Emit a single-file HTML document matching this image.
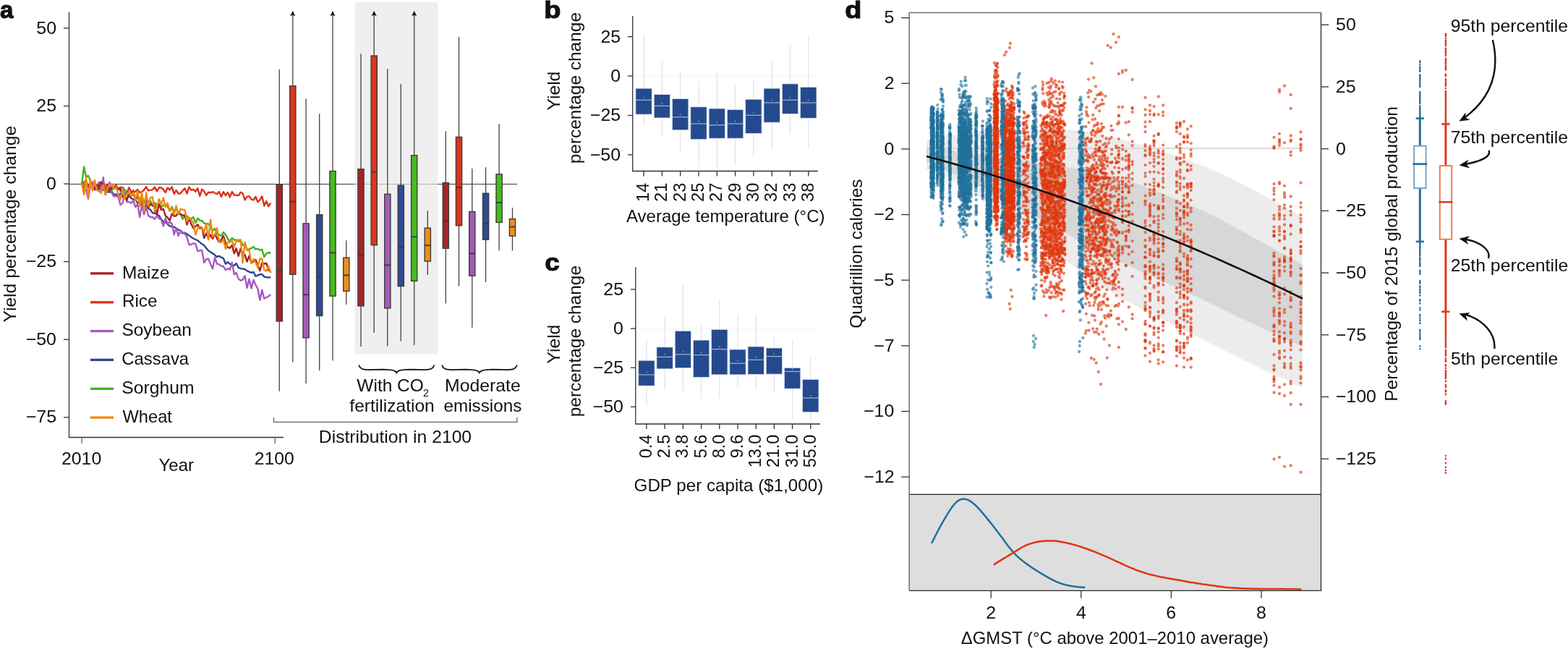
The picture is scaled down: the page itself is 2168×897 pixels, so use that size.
<!DOCTYPE html>
<html><head><meta charset="utf-8"><title>Figure</title>
<style>
html,body{margin:0;padding:0;background:#fff;}
svg{display:block;}
text{font-family:"Liberation Sans",Arial,Helvetica,sans-serif;fill:#111;}
</style></head><body>
<svg width="2168" height="897" viewBox="0 0 2168 897">
<rect width="2168" height="897" fill="#fff"/>
<g id="pa">
<text x="0.01" y="25.00" font-size="34" font-weight="bold" stroke="#111" stroke-width="1.1" textLength="18.40" lengthAdjust="spacingAndGlyphs">a</text>
<line x1="95" y1="254.5" x2="715" y2="254.5" stroke="#3c3c3c" stroke-width="1"/>
<rect x="490.5" y="3" width="115" height="486.5" fill="#e8e8e8" fill-opacity="0.68"/>
<path d="M95.5 17V604.5H392" fill="none" stroke="#333" stroke-width="1.3"/>
<line x1="88" y1="38.9" x2="95.5" y2="38.9" stroke="#333" stroke-width="1.3"/>
<text x="50.27" y="46.60" font-size="24" textLength="27.76" lengthAdjust="spacingAndGlyphs">50</text>
<line x1="88" y1="146.5" x2="95.5" y2="146.5" stroke="#333" stroke-width="1.3"/>
<text x="50.39" y="154.18" font-size="24" textLength="27.76" lengthAdjust="spacingAndGlyphs">25</text>
<line x1="88" y1="254.1" x2="95.5" y2="254.1" stroke="#333" stroke-width="1.3"/>
<text x="64.12" y="261.75" font-size="24" textLength="13.88" lengthAdjust="spacingAndGlyphs">0</text>
<line x1="88" y1="361.6" x2="95.5" y2="361.6" stroke="#333" stroke-width="1.3"/>
<text x="35.79" y="369.32" font-size="24" textLength="42.34" lengthAdjust="spacingAndGlyphs">−25</text>
<line x1="88" y1="469.2" x2="95.5" y2="469.2" stroke="#333" stroke-width="1.3"/>
<text x="35.67" y="476.90" font-size="24" textLength="42.34" lengthAdjust="spacingAndGlyphs">−50</text>
<line x1="88" y1="576.8" x2="95.5" y2="576.8" stroke="#333" stroke-width="1.3"/>
<text x="35.79" y="584.48" font-size="24" textLength="42.34" lengthAdjust="spacingAndGlyphs">−75</text>
<line x1="113.1" y1="604.5" x2="113.1" y2="613" stroke="#666" stroke-width="1.3"/>
<line x1="380.2" y1="604.5" x2="380.2" y2="613" stroke="#666" stroke-width="1.3"/>
<text x="84.96" y="641.70" font-size="24" textLength="55.31" lengthAdjust="spacingAndGlyphs">2010</text>
<text x="351.76" y="641.70" font-size="24" textLength="55.10" lengthAdjust="spacingAndGlyphs">2100</text>
<text x="219.60" y="650.50" font-size="24" textLength="48.37" lengthAdjust="spacingAndGlyphs">Year</text>
<text transform="translate(21.50 445.00) rotate(-90)" x="-0.62" y="0" font-size="24" textLength="271.78" lengthAdjust="spacingAndGlyphs">Yield percentage change</text>
<polyline points="113.1,254.1 116.1,251.8 119,249.4 122,258.3 125,255.2 127.9,259.3 130.9,253 133.9,258.9 136.8,254 139.8,264.9 142.8,252 145.7,259.7 148.7,254.6 151.7,261 154.6,258.7 157.6,258.6 160.6,256 163.5,261.5 166.5,258.8 169.5,259.1 172.4,262.6 175.4,266.9 178.4,259.2 181.3,265.2 184.3,266.1 187.3,264.9 190.2,261.8 193.2,266.1 196.2,265.1 199.1,262.5 202.1,258.2 205.1,263.3 208,262.9 211,262.1 214,258.6 216.9,264.4 219.9,259.2 222.9,259.5 225.8,261.8 228.8,266 231.8,259.4 234.7,262.4 237.7,258.3 240.7,268.2 243.6,263.1 246.6,267.5 249.6,267.3 252.5,263.6 255.5,260.2 258.5,267.6 261.4,258.7 264.4,262.7 267.4,261.7 270.4,265 273.3,260.2 276.3,271 279.3,261.7 282.2,264.5 285.2,269.8 288.2,265.8 291.1,266.3 294.1,265.1 297.1,267 300,268.2 303,264.9 306,272 308.9,265.2 311.9,270.2 314.9,266.1 317.8,272.4 320.8,265 323.8,269.6 326.7,269.8 329.7,270.1 332.7,265.7 335.6,267.3 338.6,276.4 341.6,271.9 344.5,271.2 347.5,275.3 350.5,276.5 353.4,271.8 356.4,279.2 359.4,276.4 362.3,271.4 365.3,284.6 368.3,277.9 371.2,285.3 374.2,280.3" fill="none" stroke="#dd2f1c" stroke-width="2.4" stroke-linejoin="round"/>
<polyline points="113.1,254.1 116.1,230.4 119,244.6 122,242.9 125,249.7 127.9,260.6 130.9,258 133.9,262.7 136.8,256.5 139.8,256.5 142.8,257.5 145.7,259.7 148.7,264.7 151.7,261.9 154.6,263.3 157.6,257.5 160.6,259.4 163.5,261.2 166.5,263.8 169.5,264.6 172.4,262.1 175.4,268.2 178.4,267.4 181.3,270.1 184.3,269.5 187.3,273 190.2,270.7 193.2,275.7 196.2,270 199.1,280.6 202.1,272.3 205.1,279.2 208,277.9 211,284 214,280.2 216.9,283.1 219.9,281.9 222.9,286.6 225.8,283.6 228.8,282.7 231.8,285.6 234.7,291.4 237.7,285.8 240.7,293 243.6,289.2 246.6,293.2 249.6,295.7 252.5,302.9 255.5,297.4 258.5,298.5 261.4,301.3 264.4,302.1 267.4,300.1 270.4,308 273.3,301.7 276.3,304.7 279.3,305 282.2,308.7 285.2,308.9 288.2,309.5 291.1,314.4 294.1,319 297.1,315.9 300,323.8 303,324.2 306,325.9 308.9,321.1 311.9,324.4 314.9,329.9 317.8,333.5 320.8,328.9 323.8,331.7 326.7,331.4 329.7,333.9 332.7,331.9 335.6,338.8 338.6,337.5 341.6,345.5 344.5,344.2 347.5,343.2 350.5,341 353.4,344.6 356.4,343.8 359.4,345.8 362.3,344.8 365.3,355.2 368.3,350.4 371.2,349 374.2,350" fill="none" stroke="#3cb521" stroke-width="2.4" stroke-linejoin="round"/>
<polyline points="113.1,254.1 116.1,260.2 119,253.9 122,257.4 125,255.2 127.9,258.4 130.9,256 133.9,260.9 136.8,261.5 139.8,262.3 142.8,261.9 145.7,265.3 148.7,265 151.7,265.6 154.6,264.9 157.6,269.1 160.6,268.4 163.5,272.7 166.5,267.4 169.5,272.2 172.4,269.8 175.4,273.6 178.4,271 181.3,273.7 184.3,275.8 187.3,276.4 190.2,280.3 193.2,279.6 196.2,284 199.1,284.4 202.1,283.9 205.1,288.3 208,289.9 211,294.2 214,294.8 216.9,296.3 219.9,298 222.9,303.1 225.8,306.3 228.8,306.7 231.8,310.3 234.7,312.4 237.7,313.3 240.7,313.8 243.6,315.3 246.6,317.6 249.6,318.6 252.5,322.5 255.5,321.7 258.5,323.4 261.4,325.8 264.4,327.5 267.4,329.7 270.4,331 273.3,332.3 276.3,334.8 279.3,337.3 282.2,339 285.2,342.9 288.2,346.6 291.1,348.4 294.1,350.1 297.1,352.5 300,355.2 303,353.8 306,355.9 308.9,356.8 311.9,364.9 314.9,362.2 317.8,364.9 320.8,365.8 323.8,367.3 326.7,364 329.7,370.1 332.7,371.1 335.6,371.5 338.6,372.2 341.6,374.4 344.5,375.6 347.5,376.9 350.5,376 353.4,381.6 356.4,380.6 359.4,379.1 362.3,379.1 365.3,382.5 368.3,383.2 371.2,383.5 374.2,383.1" fill="none" stroke="#2a4791" stroke-width="2.4" stroke-linejoin="round"/>
<polyline points="113.1,254.1 116.1,261 119,261.9 122,274.8 125,256.4 127.9,251.7 130.9,256.3 133.9,258.4 136.8,251.7 139.8,266.7 142.8,245.3 145.7,269 148.7,260.9 151.7,252.1 154.6,266.8 157.6,271.6 160.6,270.9 163.5,271.4 166.5,283.2 169.5,280.7 172.4,265.7 175.4,279.1 178.4,278.9 181.3,280.7 184.3,277.6 187.3,286.1 190.2,282 193.2,300 196.2,283.3 199.1,296.3 202.1,286.2 205.1,298 208,300.2 211,299.9 214,302.9 216.9,298 219.9,302 222.9,303.4 225.8,312.5 228.8,301.7 231.8,309.6 234.7,306.7 237.7,309 240.7,324.4 243.6,315 246.6,326.1 249.6,319 252.5,321 255.5,322.9 258.5,327.9 261.4,338 264.4,338 267.4,336.4 270.4,337.2 273.3,346.9 276.3,346.3 279.3,345.9 282.2,363.1 285.2,358.2 288.2,357.8 291.1,364.9 294.1,371.4 297.1,355.6 300,364.8 303,365.4 306,367.9 308.9,368 311.9,373.3 314.9,370.9 317.8,372.7 320.8,362.8 323.8,379.3 326.7,376.8 329.7,385.1 332.7,387.8 335.6,386.6 338.6,381.2 341.6,398 344.5,385.7 347.5,398.6 350.5,386.6 353.4,393.5 356.4,399 359.4,414.7 362.3,400.7 365.3,412.8 368.3,411 371.2,409.7 374.2,406.8" fill="none" stroke="#a659c2" stroke-width="2.4" stroke-linejoin="round"/>
<polyline points="113.1,254.1 116.1,260.9 119,251.7 122,259.2 125,252.1 127.9,255 130.9,262.4 133.9,255.6 136.8,259.1 139.8,251.5 142.8,255.7 145.7,264.8 148.7,258.8 151.7,263.2 154.6,259.2 157.6,258.2 160.6,260.7 163.5,260.1 166.5,261 169.5,269.5 172.4,271.9 175.4,276.9 178.4,267 181.3,268.6 184.3,263.2 187.3,276.9 190.2,270.9 193.2,280.5 196.2,276.6 199.1,288.8 202.1,274.7 205.1,287 208,281.6 211,284.8 214,283.8 216.9,296.5 219.9,281.9 222.9,290.1 225.8,288.7 228.8,298.3 231.8,300.7 234.7,304.7 237.7,295.5 240.7,298.7 243.6,298.2 246.6,293 249.6,296.2 252.5,297.6 255.5,297.4 258.5,310.6 261.4,301.4 264.4,309.8 267.4,315.5 270.4,312.9 273.3,310.3 276.3,315.6 279.3,314.4 282.2,329.1 285.2,322.5 288.2,329.3 291.1,324.6 294.1,329.9 297.1,323.5 300,329.6 303,334.4 306,331.2 308.9,326 311.9,336.4 314.9,341.9 317.8,342.8 320.8,338.9 323.8,350.3 326.7,343.3 329.7,353.9 332.7,343.6 335.6,350.2 338.6,352.1 341.6,361.6 344.5,353.7 347.5,363.4 350.5,361.5 353.4,358.9 356.4,366.4 359.4,374.3 362.3,363.4 365.3,364.5 368.3,363.8 371.2,373.2 374.2,375.8" fill="none" stroke="#a81f24" stroke-width="2.4" stroke-linejoin="round"/>
<polyline points="113.1,254.1 116.1,269.1 119,245.4 122,273.4 125,247.6 127.9,263.4 130.9,249 133.9,262.8 136.8,264.6 139.8,265.8 142.8,255.7 145.7,269 148.7,259.5 151.7,255.2 154.6,254.3 157.6,261.1 160.6,258.7 163.5,268.7 166.5,276.1 169.5,261.4 172.4,274.3 175.4,269.3 178.4,265 181.3,270.8 184.3,265.5 187.3,277.7 190.2,263.5 193.2,285.3 196.2,265.8 199.1,292.1 202.1,266.4 205.1,284.6 208,273.2 211,272.3 214,292.6 216.9,285.8 219.9,275.2 222.9,282.4 225.8,273.5 228.8,286.3 231.8,280.5 234.7,292 237.7,287.1 240.7,296.6 243.6,284.3 246.6,296.9 249.6,288.8 252.5,289.7 255.5,290.2 258.5,306 261.4,301.4 264.4,302.7 267.4,308.6 270.4,324.6 273.3,315 276.3,313 279.3,314.7 282.2,321.3 285.2,308.9 288.2,331.3 291.1,303.7 294.1,326.8 297.1,324.3 300,315.1 303,334 306,335.2 308.9,330.6 311.9,344.1 314.9,334.6 317.8,334.7 320.8,332.5 323.8,341.6 326.7,332.5 329.7,331.4 332.7,331.5 335.6,363.5 338.6,334.6 341.6,346.1 344.5,345.2 347.5,364 350.5,358.1 353.4,362.7 356.4,369.7 359.4,357.5 362.3,357.7 365.3,372.9 368.3,374.7 371.2,367.4 374.2,377.1" fill="none" stroke="#f08a12" stroke-width="2.4" stroke-linejoin="round"/>
<line x1="125" y1="377.9" x2="157" y2="377.9" stroke="#a81f24" stroke-width="3.3"/>
<text x="168.94" y="384.60" font-size="24" textLength="65.32" lengthAdjust="spacingAndGlyphs">Maize</text>
<line x1="125" y1="417.8" x2="157" y2="417.8" stroke="#dd2f1c" stroke-width="3.3"/>
<text x="168.96" y="424.45" font-size="24" textLength="48.44" lengthAdjust="spacingAndGlyphs">Rice</text>
<line x1="125" y1="457.6" x2="157" y2="457.6" stroke="#a659c2" stroke-width="3.3"/>
<text x="168.40" y="464.30" font-size="24" textLength="96.56" lengthAdjust="spacingAndGlyphs">Soybean</text>
<line x1="125" y1="497.4" x2="157" y2="497.4" stroke="#2a4791" stroke-width="3.3"/>
<text x="168.31" y="504.15" font-size="24" textLength="92.81" lengthAdjust="spacingAndGlyphs">Cassava</text>
<line x1="125" y1="537.3" x2="157" y2="537.3" stroke="#3cb521" stroke-width="3.3"/>
<text x="168.39" y="544.00" font-size="24" textLength="100.16" lengthAdjust="spacingAndGlyphs">Sorghum</text>
<line x1="125" y1="577.1" x2="157" y2="577.1" stroke="#f08a12" stroke-width="3.3"/>
<text x="169.38" y="583.85" font-size="24" textLength="68.56" lengthAdjust="spacingAndGlyphs">Wheat</text>
<line x1="386.3" y1="96" x2="386.3" y2="540.7" stroke="#454141" stroke-width="1.3"/>
<rect x="382.2" y="254.7" width="8.2" height="189.3" fill="#a8232a" stroke="#3d3d3d" stroke-width="1.4"/>
<line x1="382.2" y1="374" x2="390.4" y2="374" stroke="#3a3a3a" stroke-width="1.8"/>
<line x1="404.8" y1="18" x2="404.8" y2="500.5" stroke="#454141" stroke-width="1.3"/>
<path d="M401.2 22.5L404.8 15L408.4 22.5L404.8 20.5Z" fill="#111"/>
<rect x="400.7" y="118.8" width="8.2" height="260.5" fill="#d9361f" stroke="#3d3d3d" stroke-width="1.4"/>
<line x1="400.7" y1="278.6" x2="408.9" y2="278.6" stroke="#3a3a3a" stroke-width="1.8"/>
<line x1="423.1" y1="136.3" x2="423.1" y2="530" stroke="#454141" stroke-width="1.3"/>
<rect x="419" y="308.9" width="8.2" height="157.9" fill="#a25bb8" stroke="#3d3d3d" stroke-width="1.4"/>
<line x1="419" y1="407.3" x2="427.2" y2="407.3" stroke="#3a3a3a" stroke-width="1.8"/>
<line x1="441.7" y1="157.3" x2="441.7" y2="512" stroke="#454141" stroke-width="1.3"/>
<rect x="437.6" y="296.8" width="8.2" height="139.7" fill="#2d4b95" stroke="#3d3d3d" stroke-width="1.4"/>
<line x1="437.6" y1="382.7" x2="445.8" y2="382.7" stroke="#3a3a3a" stroke-width="1.8"/>
<line x1="460" y1="18" x2="460" y2="498.6" stroke="#454141" stroke-width="1.3"/>
<path d="M456.4 22.5L460 15L463.6 22.5L460 20.5Z" fill="#111"/>
<rect x="455.9" y="236.5" width="8.2" height="172.7" fill="#46bc20" stroke="#3d3d3d" stroke-width="1.4"/>
<line x1="455.9" y1="349.3" x2="464.1" y2="349.3" stroke="#3a3a3a" stroke-width="1.8"/>
<line x1="478.8" y1="332.3" x2="478.8" y2="421" stroke="#454141" stroke-width="1.3"/>
<rect x="474.7" y="356.2" width="8.2" height="46.2" fill="#ef8e17" stroke="#3d3d3d" stroke-width="1.4"/>
<line x1="474.7" y1="380.4" x2="482.9" y2="380.4" stroke="#3a3a3a" stroke-width="1.8"/>
<line x1="499" y1="74.2" x2="499" y2="479" stroke="#454141" stroke-width="1.3"/>
<rect x="494.9" y="233.7" width="8.2" height="189.2" fill="#a8232a" stroke="#3d3d3d" stroke-width="1.4"/>
<line x1="494.9" y1="352.8" x2="503.1" y2="352.8" stroke="#3a3a3a" stroke-width="1.8"/>
<line x1="517.2" y1="18" x2="517.2" y2="460" stroke="#454141" stroke-width="1.3"/>
<path d="M513.6 22.5L517.2 15L520.8 22.5L517.2 20.5Z" fill="#111"/>
<rect x="513.1" y="77.1" width="8.2" height="261.6" fill="#d9361f" stroke="#3d3d3d" stroke-width="1.4"/>
<line x1="513.1" y1="237.6" x2="521.3" y2="237.6" stroke="#3a3a3a" stroke-width="1.8"/>
<line x1="535.8" y1="95.3" x2="535.8" y2="478.6" stroke="#454141" stroke-width="1.3"/>
<rect x="531.7" y="268.3" width="8.2" height="157.6" fill="#a25bb8" stroke="#3d3d3d" stroke-width="1.4"/>
<line x1="531.7" y1="366.4" x2="539.9" y2="366.4" stroke="#3a3a3a" stroke-width="1.8"/>
<line x1="554.3" y1="116.3" x2="554.3" y2="471.4" stroke="#454141" stroke-width="1.3"/>
<rect x="550.2" y="256.2" width="8.2" height="139.4" fill="#2d4b95" stroke="#3d3d3d" stroke-width="1.4"/>
<line x1="550.2" y1="341.4" x2="558.4" y2="341.4" stroke="#3a3a3a" stroke-width="1.8"/>
<line x1="572.7" y1="18" x2="572.7" y2="477" stroke="#454141" stroke-width="1.3"/>
<path d="M569.1 22.5L572.7 15L576.3 22.5L572.7 20.5Z" fill="#111"/>
<rect x="568.6" y="214.8" width="8.2" height="173.6" fill="#46bc20" stroke="#3d3d3d" stroke-width="1.4"/>
<line x1="568.6" y1="327.4" x2="576.8" y2="327.4" stroke="#3a3a3a" stroke-width="1.8"/>
<line x1="591.3" y1="291.4" x2="591.3" y2="380" stroke="#454141" stroke-width="1.3"/>
<rect x="587.2" y="315.2" width="8.2" height="45.9" fill="#ef8e17" stroke="#3d3d3d" stroke-width="1.4"/>
<line x1="587.2" y1="339.1" x2="595.4" y2="339.1" stroke="#3a3a3a" stroke-width="1.8"/>
<line x1="616.3" y1="181.2" x2="616.3" y2="419.4" stroke="#454141" stroke-width="1.3"/>
<rect x="612.2" y="252.6" width="8.2" height="90.7" fill="#a8232a" stroke="#3d3d3d" stroke-width="1.4"/>
<line x1="612.2" y1="305.8" x2="620.4" y2="305.8" stroke="#3a3a3a" stroke-width="1.8"/>
<line x1="634.5" y1="51" x2="634.5" y2="395.6" stroke="#454141" stroke-width="1.3"/>
<rect x="630.4" y="189.4" width="8.2" height="122.4" fill="#d9361f" stroke="#3d3d3d" stroke-width="1.4"/>
<line x1="630.4" y1="259" x2="638.6" y2="259" stroke="#3a3a3a" stroke-width="1.8"/>
<line x1="652.8" y1="233" x2="652.8" y2="452.8" stroke="#454141" stroke-width="1.3"/>
<rect x="648.7" y="292.5" width="8.2" height="88.7" fill="#a25bb8" stroke="#3d3d3d" stroke-width="1.4"/>
<line x1="648.7" y1="350.5" x2="656.9" y2="350.5" stroke="#3a3a3a" stroke-width="1.8"/>
<line x1="671.6" y1="231.2" x2="671.6" y2="390" stroke="#454141" stroke-width="1.3"/>
<rect x="667.5" y="267.2" width="8.2" height="64" fill="#2d4b95" stroke="#3d3d3d" stroke-width="1.4"/>
<line x1="667.5" y1="309.2" x2="675.7" y2="309.2" stroke="#3a3a3a" stroke-width="1.8"/>
<line x1="690.1" y1="171.2" x2="690.1" y2="346.3" stroke="#454141" stroke-width="1.3"/>
<rect x="686" y="240.8" width="8.2" height="66.6" fill="#46bc20" stroke="#3d3d3d" stroke-width="1.4"/>
<line x1="686" y1="280" x2="694.2" y2="280" stroke="#3a3a3a" stroke-width="1.8"/>
<line x1="708.5" y1="287" x2="708.5" y2="346.3" stroke="#454141" stroke-width="1.3"/>
<rect x="704.4" y="302.6" width="8.2" height="23.6" fill="#ef8e17" stroke="#3d3d3d" stroke-width="1.4"/>
<line x1="704.4" y1="313.5" x2="712.6" y2="313.5" stroke="#3a3a3a" stroke-width="1.8"/>
<path d="M496.2 504.5C499.2 514 508.2 510.3 534.3 510.8C543.3 511 547.3 512.9 548.3 515C549.3 512.9 553.3 511 562.3 510.8C588.4 510.3 597.4 514 600.4 504.5" fill="none" stroke="#111" stroke-width="1.8"/>
<path d="M611 504.5C614 514 623 510.3 648.9 510.8C657.9 511 661.9 512.9 662.9 515C663.9 512.9 667.9 511 676.9 510.8C702.8 510.3 711.8 514 714.8 504.5" fill="none" stroke="#111" stroke-width="1.8"/>
<text x="493.38" y="540.60" font-size="24" textLength="92.39" lengthAdjust="spacingAndGlyphs">With CO</text>
<text x="585.07" y="548.30" font-size="15" textLength="8.07" lengthAdjust="spacingAndGlyphs">2</text>
<text x="483.33" y="569.10" font-size="24" textLength="117.46" lengthAdjust="spacingAndGlyphs">fertilization</text>
<text x="615.02" y="540.60" font-size="24" textLength="104.69" lengthAdjust="spacingAndGlyphs">Moderate</text>
<text x="613.43" y="569.10" font-size="24" textLength="107.94" lengthAdjust="spacingAndGlyphs">emissions</text>
<path d="M378.5 577V583.3H714.8V577" fill="none" stroke="#666" stroke-width="1.3"/>
<text x="440.83" y="611.60" font-size="24" textLength="211.26" lengthAdjust="spacingAndGlyphs">Distribution in 2100</text>
</g>
<g id="pb">
<text x="752.33" y="25.40" font-size="34" font-weight="bold" stroke="#111" stroke-width="1.1" textLength="23.22" lengthAdjust="spacingAndGlyphs">b</text>
<line x1="874.7" y1="105.1" x2="1131" y2="105.1" stroke="#f4f4f4" stroke-width="1"/>
<line x1="890.1" y1="48.5" x2="890.1" y2="172" stroke="#dcdcf2" stroke-width="1.1"/>
<line x1="915.4" y1="84.6" x2="915.4" y2="186.8" stroke="#dcdcf2" stroke-width="1.1"/>
<line x1="940.7" y1="98.6" x2="940.7" y2="209.6" stroke="#dcdcf2" stroke-width="1.1"/>
<line x1="966" y1="112" x2="966" y2="230" stroke="#dcdcf2" stroke-width="1.1"/>
<line x1="991.3" y1="97.5" x2="991.3" y2="232.4" stroke="#dcdcf2" stroke-width="1.1"/>
<line x1="1016.6" y1="117" x2="1016.6" y2="228" stroke="#dcdcf2" stroke-width="1.1"/>
<line x1="1041.9" y1="110" x2="1041.9" y2="217" stroke="#dcdcf2" stroke-width="1.1"/>
<line x1="1067.2" y1="83.9" x2="1067.2" y2="206" stroke="#dcdcf2" stroke-width="1.1"/>
<line x1="1092.5" y1="61.8" x2="1092.5" y2="185.7" stroke="#dcdcf2" stroke-width="1.1"/>
<line x1="1117.8" y1="48.5" x2="1117.8" y2="204" stroke="#dcdcf2" stroke-width="1.1"/>
<rect x="878.9" y="122.1" width="22.4" height="36" fill="#244a8e" stroke="#dfe3ee" stroke-width="0.8"/>
<line x1="878.9" y1="138.3" x2="901.3" y2="138.3" stroke="#a9b3cf" stroke-width="1.2"/>
<rect x="889.5" y="134.2" width="1.2" height="1.2" fill="#c8d0e6"/>
<rect x="904.2" y="130.6" width="22.4" height="32.4" fill="#244a8e" stroke="#dfe3ee" stroke-width="0.8"/>
<line x1="904.2" y1="146.4" x2="926.6" y2="146.4" stroke="#a9b3cf" stroke-width="1.2"/>
<rect x="914.8" y="142.3" width="1.2" height="1.2" fill="#c8d0e6"/>
<rect x="929.5" y="136.4" width="22.4" height="43.4" fill="#244a8e" stroke="#dfe3ee" stroke-width="0.8"/>
<line x1="929.5" y1="161.8" x2="951.9" y2="161.8" stroke="#a9b3cf" stroke-width="1.2"/>
<rect x="940.1" y="157.7" width="1.2" height="1.2" fill="#c8d0e6"/>
<rect x="954.8" y="147.8" width="22.4" height="44.9" fill="#244a8e" stroke="#dfe3ee" stroke-width="0.8"/>
<line x1="954.8" y1="171" x2="977.2" y2="171" stroke="#a9b3cf" stroke-width="1.2"/>
<rect x="965.4" y="166.9" width="1.2" height="1.2" fill="#c8d0e6"/>
<rect x="980.1" y="150" width="22.4" height="41.2" fill="#244a8e" stroke="#dfe3ee" stroke-width="0.8"/>
<line x1="980.1" y1="172.9" x2="1002.5" y2="172.9" stroke="#a9b3cf" stroke-width="1.2"/>
<rect x="990.7" y="168.8" width="1.2" height="1.2" fill="#c8d0e6"/>
<rect x="1005.4" y="151.5" width="22.4" height="39.7" fill="#244a8e" stroke="#dfe3ee" stroke-width="0.8"/>
<line x1="1005.4" y1="171" x2="1027.8" y2="171" stroke="#a9b3cf" stroke-width="1.2"/>
<rect x="1016" y="166.9" width="1.2" height="1.2" fill="#c8d0e6"/>
<rect x="1030.7" y="137.2" width="22.4" height="47.4" fill="#244a8e" stroke="#dfe3ee" stroke-width="0.8"/>
<line x1="1030.7" y1="159.2" x2="1053.1" y2="159.2" stroke="#a9b3cf" stroke-width="1.2"/>
<rect x="1041.3" y="155.1" width="1.2" height="1.2" fill="#c8d0e6"/>
<rect x="1056" y="122.1" width="22.4" height="47.1" fill="#244a8e" stroke="#dfe3ee" stroke-width="0.8"/>
<line x1="1056" y1="142" x2="1078.4" y2="142" stroke="#a9b3cf" stroke-width="1.2"/>
<rect x="1066.6" y="137.9" width="1.2" height="1.2" fill="#c8d0e6"/>
<rect x="1081.3" y="115.9" width="22.4" height="41.5" fill="#244a8e" stroke="#dfe3ee" stroke-width="0.8"/>
<line x1="1081.3" y1="138.3" x2="1103.7" y2="138.3" stroke="#a9b3cf" stroke-width="1.2"/>
<rect x="1091.9" y="134.2" width="1.2" height="1.2" fill="#c8d0e6"/>
<rect x="1106.6" y="120.3" width="22.4" height="43" fill="#244a8e" stroke="#dfe3ee" stroke-width="0.8"/>
<line x1="1106.6" y1="142" x2="1129" y2="142" stroke="#a9b3cf" stroke-width="1.2"/>
<rect x="1117.2" y="137.9" width="1.2" height="1.2" fill="#c8d0e6"/>
<path d="M874.7 22V236.5H1131" fill="none" stroke="#333" stroke-width="1.3"/>
<line x1="867.9000000000001" y1="50.7" x2="874.7" y2="50.7" stroke="#333" stroke-width="1.3"/>
<text x="830.49" y="58.50" font-size="24" textLength="27.76" lengthAdjust="spacingAndGlyphs">25</text>
<line x1="867.9000000000001" y1="105.1" x2="874.7" y2="105.1" stroke="#333" stroke-width="1.3"/>
<text x="844.22" y="112.90" font-size="24" textLength="13.88" lengthAdjust="spacingAndGlyphs">0</text>
<line x1="867.9000000000001" y1="159.5" x2="874.7" y2="159.5" stroke="#333" stroke-width="1.3"/>
<text x="815.89" y="167.30" font-size="24" textLength="42.34" lengthAdjust="spacingAndGlyphs">−25</text>
<line x1="867.9000000000001" y1="213.9" x2="874.7" y2="213.9" stroke="#333" stroke-width="1.3"/>
<text x="815.77" y="221.70" font-size="24" textLength="42.34" lengthAdjust="spacingAndGlyphs">−50</text>
<line x1="890.1" y1="236.5" x2="890.1" y2="243.5" stroke="#333" stroke-width="1.3"/>
<text transform="translate(897.1 252.8) rotate(-90)" x="-26.14" y="0" font-size="23.5" textLength="26.14" lengthAdjust="spacingAndGlyphs">14</text>
<line x1="915.4" y1="236.5" x2="915.4" y2="243.5" stroke="#333" stroke-width="1.3"/>
<text transform="translate(922.4 252.8) rotate(-90)" x="-26.14" y="0" font-size="23.5" textLength="26.14" lengthAdjust="spacingAndGlyphs">21</text>
<line x1="940.7" y1="236.5" x2="940.7" y2="243.5" stroke="#333" stroke-width="1.3"/>
<text transform="translate(947.7 252.8) rotate(-90)" x="-26.14" y="0" font-size="23.5" textLength="26.14" lengthAdjust="spacingAndGlyphs">23</text>
<line x1="966" y1="236.5" x2="966" y2="243.5" stroke="#333" stroke-width="1.3"/>
<text transform="translate(973 252.8) rotate(-90)" x="-26.14" y="0" font-size="23.5" textLength="26.14" lengthAdjust="spacingAndGlyphs">25</text>
<line x1="991.3" y1="236.5" x2="991.3" y2="243.5" stroke="#333" stroke-width="1.3"/>
<text transform="translate(998.3 252.8) rotate(-90)" x="-26.14" y="0" font-size="23.5" textLength="26.14" lengthAdjust="spacingAndGlyphs">27</text>
<line x1="1016.6" y1="236.5" x2="1016.6" y2="243.5" stroke="#333" stroke-width="1.3"/>
<text transform="translate(1023.6 252.8) rotate(-90)" x="-26.14" y="0" font-size="23.5" textLength="26.14" lengthAdjust="spacingAndGlyphs">29</text>
<line x1="1041.9" y1="236.5" x2="1041.9" y2="243.5" stroke="#333" stroke-width="1.3"/>
<text transform="translate(1048.9 252.8) rotate(-90)" x="-26.14" y="0" font-size="23.5" textLength="26.14" lengthAdjust="spacingAndGlyphs">30</text>
<line x1="1067.2" y1="236.5" x2="1067.2" y2="243.5" stroke="#333" stroke-width="1.3"/>
<text transform="translate(1074.2 252.8) rotate(-90)" x="-26.14" y="0" font-size="23.5" textLength="26.14" lengthAdjust="spacingAndGlyphs">32</text>
<line x1="1092.5" y1="236.5" x2="1092.5" y2="243.5" stroke="#333" stroke-width="1.3"/>
<text transform="translate(1099.5 252.8) rotate(-90)" x="-26.14" y="0" font-size="23.5" textLength="26.14" lengthAdjust="spacingAndGlyphs">33</text>
<line x1="1117.8" y1="236.5" x2="1117.8" y2="243.5" stroke="#333" stroke-width="1.3"/>
<text transform="translate(1124.8 252.8) rotate(-90)" x="-26.14" y="0" font-size="23.5" textLength="26.14" lengthAdjust="spacingAndGlyphs">38</text>
<text x="866.00" y="306.80" font-size="24" textLength="274.50" lengthAdjust="spacingAndGlyphs">Average temperature (°C)</text>
<text transform="translate(774.00 152.00) rotate(-90)" x="-0.62" y="0" font-size="24" textLength="53.96" lengthAdjust="spacingAndGlyphs">Yield</text>
<text transform="translate(803.00 224.70) rotate(-90)" x="-1.59" y="0" font-size="24" textLength="209.25" lengthAdjust="spacingAndGlyphs">percentage change</text>
</g>
<g id="pc">
<text x="753.32" y="373.50" font-size="34" font-weight="bold" stroke="#111" stroke-width="1.1" textLength="20.53" lengthAdjust="spacingAndGlyphs">c</text>
<line x1="878.8" y1="454.1" x2="1134" y2="454.1" stroke="#f4f4f4" stroke-width="1"/>
<line x1="893.9" y1="469.7" x2="893.9" y2="560.9" stroke="#dcdcf2" stroke-width="1.1"/>
<line x1="919.1" y1="438.4" x2="919.1" y2="538.8" stroke="#dcdcf2" stroke-width="1.1"/>
<line x1="944.4" y1="394.2" x2="944.4" y2="540.8" stroke="#dcdcf2" stroke-width="1.1"/>
<line x1="969.6" y1="449.2" x2="969.6" y2="550.8" stroke="#dcdcf2" stroke-width="1.1"/>
<line x1="994.8" y1="414.3" x2="994.8" y2="550.8" stroke="#dcdcf2" stroke-width="1.1"/>
<line x1="1020" y1="434.4" x2="1020" y2="536" stroke="#dcdcf2" stroke-width="1.1"/>
<line x1="1045.2" y1="434.4" x2="1045.2" y2="538.8" stroke="#dcdcf2" stroke-width="1.1"/>
<line x1="1070.4" y1="465.7" x2="1070.4" y2="542.8" stroke="#dcdcf2" stroke-width="1.1"/>
<line x1="1095.6" y1="469.3" x2="1095.6" y2="579" stroke="#dcdcf2" stroke-width="1.1"/>
<line x1="1120.8" y1="493.8" x2="1120.8" y2="583" stroke="#dcdcf2" stroke-width="1.1"/>
<rect x="882.7" y="498.2" width="22.4" height="35" fill="#244a8e" stroke="#dfe3ee" stroke-width="0.8"/>
<line x1="882.7" y1="517.9" x2="905.1" y2="517.9" stroke="#a9b3cf" stroke-width="1.2"/>
<rect x="893.3" y="513.8" width="1.2" height="1.2" fill="#c8d0e6"/>
<rect x="907.9" y="479.8" width="22.4" height="30.1" fill="#244a8e" stroke="#dfe3ee" stroke-width="0.8"/>
<line x1="907.9" y1="493.4" x2="930.3" y2="493.4" stroke="#a9b3cf" stroke-width="1.2"/>
<rect x="918.5" y="489.3" width="1.2" height="1.2" fill="#c8d0e6"/>
<rect x="933.2" y="457.3" width="22.4" height="51.4" fill="#244a8e" stroke="#dfe3ee" stroke-width="0.8"/>
<line x1="933.2" y1="489.8" x2="955.6" y2="489.8" stroke="#a9b3cf" stroke-width="1.2"/>
<rect x="943.8" y="485.7" width="1.2" height="1.2" fill="#c8d0e6"/>
<rect x="958.4" y="470.1" width="22.4" height="51.4" fill="#244a8e" stroke="#dfe3ee" stroke-width="0.8"/>
<line x1="958.4" y1="490.6" x2="980.8" y2="490.6" stroke="#a9b3cf" stroke-width="1.2"/>
<rect x="969" y="486.5" width="1.2" height="1.2" fill="#c8d0e6"/>
<rect x="983.6" y="455.3" width="22.4" height="62.6" fill="#244a8e" stroke="#dfe3ee" stroke-width="0.8"/>
<line x1="983.6" y1="482.6" x2="1006" y2="482.6" stroke="#a9b3cf" stroke-width="1.2"/>
<rect x="994.2" y="478.5" width="1.2" height="1.2" fill="#c8d0e6"/>
<rect x="1008.8" y="483" width="22.4" height="34.9" fill="#244a8e" stroke="#dfe3ee" stroke-width="0.8"/>
<line x1="1008.8" y1="502.2" x2="1031.2" y2="502.2" stroke="#a9b3cf" stroke-width="1.2"/>
<rect x="1019.4" y="498.1" width="1.2" height="1.2" fill="#c8d0e6"/>
<rect x="1034" y="479" width="22.4" height="38.5" fill="#244a8e" stroke="#dfe3ee" stroke-width="0.8"/>
<line x1="1034" y1="497.4" x2="1056.4" y2="497.4" stroke="#a9b3cf" stroke-width="1.2"/>
<rect x="1044.6" y="493.3" width="1.2" height="1.2" fill="#c8d0e6"/>
<rect x="1059.2" y="481" width="22.4" height="36.1" fill="#244a8e" stroke="#dfe3ee" stroke-width="0.8"/>
<line x1="1059.2" y1="492.6" x2="1081.6" y2="492.6" stroke="#a9b3cf" stroke-width="1.2"/>
<rect x="1069.8" y="488.5" width="1.2" height="1.2" fill="#c8d0e6"/>
<rect x="1084.4" y="508.3" width="22.4" height="28.9" fill="#244a8e" stroke="#dfe3ee" stroke-width="0.8"/>
<line x1="1084.4" y1="513.5" x2="1106.8" y2="513.5" stroke="#a9b3cf" stroke-width="1.2"/>
<rect x="1095" y="509.4" width="1.2" height="1.2" fill="#c8d0e6"/>
<rect x="1109.6" y="524.3" width="22.4" height="45.4" fill="#244a8e" stroke="#dfe3ee" stroke-width="0.8"/>
<line x1="1109.6" y1="550" x2="1132" y2="550" stroke="#a9b3cf" stroke-width="1.2"/>
<rect x="1120.2" y="545.9" width="1.2" height="1.2" fill="#c8d0e6"/>
<path d="M878.8 369.3V586H1134" fill="none" stroke="#333" stroke-width="1.3"/>
<line x1="872.0" y1="400" x2="878.8" y2="400" stroke="#333" stroke-width="1.3"/>
<text x="834.29" y="407.80" font-size="24" textLength="27.76" lengthAdjust="spacingAndGlyphs">25</text>
<line x1="872.0" y1="454.1" x2="878.8" y2="454.1" stroke="#333" stroke-width="1.3"/>
<text x="848.02" y="461.90" font-size="24" textLength="13.88" lengthAdjust="spacingAndGlyphs">0</text>
<line x1="872.0" y1="508.2" x2="878.8" y2="508.2" stroke="#333" stroke-width="1.3"/>
<text x="819.69" y="516.00" font-size="24" textLength="42.34" lengthAdjust="spacingAndGlyphs">−25</text>
<line x1="872.0" y1="562.3" x2="878.8" y2="562.3" stroke="#333" stroke-width="1.3"/>
<text x="819.57" y="570.10" font-size="24" textLength="42.34" lengthAdjust="spacingAndGlyphs">−50</text>
<line x1="893.9" y1="586" x2="893.9" y2="593" stroke="#333" stroke-width="1.3"/>
<text transform="translate(900.9 600.6) rotate(-90)" x="-32.67" y="0" font-size="23.5" textLength="32.67" lengthAdjust="spacingAndGlyphs">0.4</text>
<line x1="919.1" y1="586" x2="919.1" y2="593" stroke="#333" stroke-width="1.3"/>
<text transform="translate(926.1 600.6) rotate(-90)" x="-32.67" y="0" font-size="23.5" textLength="32.67" lengthAdjust="spacingAndGlyphs">2.5</text>
<line x1="944.4" y1="586" x2="944.4" y2="593" stroke="#333" stroke-width="1.3"/>
<text transform="translate(951.4 600.6) rotate(-90)" x="-32.67" y="0" font-size="23.5" textLength="32.67" lengthAdjust="spacingAndGlyphs">3.8</text>
<line x1="969.6" y1="586" x2="969.6" y2="593" stroke="#333" stroke-width="1.3"/>
<text transform="translate(976.6 600.6) rotate(-90)" x="-32.67" y="0" font-size="23.5" textLength="32.67" lengthAdjust="spacingAndGlyphs">5.6</text>
<line x1="994.8" y1="586" x2="994.8" y2="593" stroke="#333" stroke-width="1.3"/>
<text transform="translate(1001.8 600.6) rotate(-90)" x="-32.67" y="0" font-size="23.5" textLength="32.67" lengthAdjust="spacingAndGlyphs">8.0</text>
<line x1="1020" y1="586" x2="1020" y2="593" stroke="#333" stroke-width="1.3"/>
<text transform="translate(1027 600.6) rotate(-90)" x="-32.67" y="0" font-size="23.5" textLength="32.67" lengthAdjust="spacingAndGlyphs">9.6</text>
<line x1="1045.2" y1="586" x2="1045.2" y2="593" stroke="#333" stroke-width="1.3"/>
<text transform="translate(1052.2 600.6) rotate(-90)" x="-45.74" y="0" font-size="23.5" textLength="45.74" lengthAdjust="spacingAndGlyphs">13.0</text>
<line x1="1070.4" y1="586" x2="1070.4" y2="593" stroke="#333" stroke-width="1.3"/>
<text transform="translate(1077.4 600.6) rotate(-90)" x="-45.74" y="0" font-size="23.5" textLength="45.74" lengthAdjust="spacingAndGlyphs">21.0</text>
<line x1="1095.6" y1="586" x2="1095.6" y2="593" stroke="#333" stroke-width="1.3"/>
<text transform="translate(1102.6 600.6) rotate(-90)" x="-45.74" y="0" font-size="23.5" textLength="45.74" lengthAdjust="spacingAndGlyphs">31.0</text>
<line x1="1120.8" y1="586" x2="1120.8" y2="593" stroke="#333" stroke-width="1.3"/>
<text transform="translate(1127.8 600.6) rotate(-90)" x="-45.74" y="0" font-size="23.5" textLength="45.74" lengthAdjust="spacingAndGlyphs">55.0</text>
<text x="876.59" y="678.60" font-size="24" textLength="261.69" lengthAdjust="spacingAndGlyphs">GDP per capita ($1,000)</text>
<text transform="translate(774.00 502.00) rotate(-90)" x="-0.62" y="0" font-size="24" textLength="53.96" lengthAdjust="spacingAndGlyphs">Yield</text>
<text transform="translate(803.00 574.70) rotate(-90)" x="-1.59" y="0" font-size="24" textLength="209.25" lengthAdjust="spacingAndGlyphs">percentage change</text>
</g>
<g id="pd">
<text x="1168.39" y="25.40" font-size="34" font-weight="bold" stroke="#111" stroke-width="1.1" textLength="23.10" lengthAdjust="spacingAndGlyphs">d</text>
<polygon points="1281,194 1289.8,192.1 1298.6,190.3 1307.4,188.6 1316.3,187.1 1325.1,186 1333.9,185 1342.7,184.1 1351.5,183.2 1360.3,182.3 1369.1,181.5 1377.9,180.8 1386.8,180.3 1395.6,179.9 1404.4,179.6 1413.2,179.5 1422,179.5 1430.8,179.5 1439.6,179.6 1448.5,179.6 1457.3,179.7 1466.1,179.8 1474.9,179.9 1483.7,180.1 1492.5,180.8 1501.3,182 1510.2,183.6 1519,185.4 1527.8,187.3 1536.6,189.3 1545.4,191.2 1554.2,193.3 1563,195.7 1571.8,198.3 1580.7,200.9 1589.5,203.7 1598.3,206.5 1607.1,209.2 1615.9,212.1 1624.7,215 1633.5,218.1 1642.4,221.2 1651.2,224.5 1660,228 1668.8,231.6 1677.6,235.5 1686.4,239.4 1695.2,243.6 1704.1,247.8 1712.9,252.2 1721.7,256.7 1730.5,261.3 1739.3,265.9 1748.1,270.6 1756.9,275.3 1765.7,280.2 1774.6,285.2 1783.4,290.3 1792.2,295.6 1801,301 1801,535 1792.2,531.2 1783.4,527.4 1774.6,523.6 1765.7,519.6 1756.9,515.6 1748.1,511.5 1739.3,507.3 1730.5,503 1721.7,498.7 1712.9,494.4 1704.1,490 1695.2,485.6 1686.4,481.2 1677.6,476.8 1668.8,472.4 1660,468 1651.2,463.6 1642.4,459.3 1633.5,454.9 1624.7,450.5 1615.9,446.1 1607.1,441.6 1598.3,437.1 1589.5,432.6 1580.7,428.1 1571.8,423.6 1563,419 1554.2,414.2 1545.4,409.2 1536.6,403.9 1527.8,398.3 1519,392.3 1510.2,386.2 1501.3,379.9 1492.5,373.7 1483.7,367.5 1474.9,361.6 1466.1,355.7 1457.3,350 1448.5,344.2 1439.6,338.4 1430.8,332.5 1422,326.4 1413.2,320.1 1404.4,313.4 1395.6,306.2 1386.8,298.6 1377.9,291 1369.1,283.5 1360.3,276.2 1351.5,269.6 1342.7,263.6 1333.9,258.5 1325.1,253.6 1316.3,248.9 1307.4,244.6 1298.6,240.7 1289.8,237.1 1281,234" fill="#ececec"/>
<polygon points="1281,203 1289.8,204.3 1298.6,205.6 1307.4,206.8 1316.3,208.1 1325.1,209.4 1333.9,210.7 1342.7,211.9 1351.5,213.2 1360.3,214.5 1369.1,215.7 1377.9,217 1386.8,218.2 1395.6,219.5 1404.4,220.8 1413.2,222 1422,223.3 1430.8,224.6 1439.6,225.8 1448.5,227 1457.3,228.3 1466.1,229.6 1474.9,230.9 1483.7,232.3 1492.5,233.7 1501.3,235.2 1510.2,236.8 1519,238.4 1527.8,240.2 1536.6,242.2 1545.4,244.5 1554.2,247.2 1563,250.3 1571.8,253.7 1580.7,257.2 1589.5,260.8 1598.3,264.3 1607.1,267.8 1615.9,271.3 1624.7,274.8 1633.5,278.4 1642.4,282.2 1651.2,286 1660,290 1668.8,294.2 1677.6,298.5 1686.4,302.9 1695.2,307.5 1704.1,312.2 1712.9,317 1721.7,321.8 1730.5,326.7 1739.3,331.6 1748.1,336.5 1756.9,341.3 1765.7,346.2 1774.6,351.1 1783.4,356 1792.2,361 1801,366 1801,479 1792.2,475.1 1783.4,471.1 1774.6,467.2 1765.7,463.1 1756.9,459.1 1748.1,455 1739.3,450.8 1730.5,446.7 1721.7,442.5 1712.9,438.2 1704.1,434 1695.2,429.8 1686.4,425.6 1677.6,421.3 1668.8,417.2 1660,413 1651.2,408.8 1642.4,404.7 1633.5,400.6 1624.7,396.4 1615.9,392.3 1607.1,388.3 1598.3,384.2 1589.5,380.3 1580.7,376.4 1571.8,372.5 1563,368.7 1554.2,364.7 1545.4,360.6 1536.6,356.3 1527.8,351.8 1519,347.2 1510.2,342.4 1501.3,337.6 1492.5,332.8 1483.7,328 1474.9,323.3 1466.1,318.6 1457.3,313.8 1448.5,309.1 1439.6,304.4 1430.8,299.6 1422,294.9 1413.2,290.1 1404.4,285.3 1395.6,280.4 1386.8,275.4 1377.9,270.5 1369.1,265.6 1360.3,260.9 1351.5,256.3 1342.7,251.9 1333.9,247.6 1325.1,243.4 1316.3,239.3 1307.4,235.3 1298.6,231.4 1289.8,227.7 1281,224" fill="#d7d7d7"/>
<line x1="1281" y1="205" x2="1798.5" y2="205" stroke="#d9d9d9" stroke-width="2"/>
<path d="M1595.6 195.5h0M1396.4 181.2h0M1377.8 207.9h0M1377 135.4h0M1529.5 191.5h0M1375.9 165.6h0M1398.5 224.1h0M1449 191.2h0M1626.9 243h0M1374.4 179.7h0M1450.7 339.8h0M1454.8 171.2h0M1464.5 347.7h0M1378.1 145.8h0M1377 219.9h0M1608.2 411.5h0M1452.2 253.1h0M1389.7 172h0M1378.4 168.8h0M1464 147.5h0M1626.9 174.9h0M1396.6 236.5h0M1761.5 393.8h0M1402 148.7h0M1529.4 359.8h0M1590 297.7h0M1631.7 457.9h0M1454.8 252.1h0M1397.1 218.5h0M1504.4 160.2h0M1514.5 136.8h0M1511.8 281.1h0M1392.6 295.9h0M1375.4 146.6h0M1397.4 206.9h0M1374.8 261.8h0M1511.6 395.3h0M1375.9 121.1h0M1463.1 204.5h0M1469.2 146.1h0M1375.7 252.4h0M1601.7 394.2h0M1530.1 223.1h0M1798.5 350.3h0M1442 193.7h0M1452.4 205.8h0M1530.1 240.3h0M1451.9 257.6h0M1400 221.9h0M1375.3 120.4h0M1502.1 210h0M1445.7 146.1h0M1377.3 121h0M1469.9 299.7h0M1377.9 176.2h0M1378.8 280.4h0M1396.6 292.5h0M1595.6 439.8h0M1377.2 219.6h0M1471.4 345.2h0M1402.3 195h0M1377.6 166.7h0M1463 251.5h0M1455.9 297.6h0M1399.7 252.5h0M1514.5 183.1h0M1445.1 351.1h0M1375.8 267.4h0M1466.6 206.9h0M1397.1 201.6h0M1461.6 228.6h0M1453.7 111.9h0M1521.9 127.9h0M1536 269.4h0M1532 255.3h0M1402.1 183h0M1641.9 364.6h0M1466.7 254.2h0M1374.4 260.1h0M1375.9 213.5h0M1394 301h0M1546.9 237.8h0M1556.8 319.7h0M1463.2 273.9h0M1399.3 227.5h0M1399.3 263.2h0M1452 264.2h0M1391.4 225.3h0M1401.3 231.5h0M1379.5 214.5h0M1446.9 232.4h0M1439.5 235.2h0M1395.1 301.5h0M1510.5 231.5h0M1392.6 216.2h0M1455.4 328.9h0M1422 192.9h0M1769 407.6h0M1528.8 332h0M1595.6 283.7h0M1401.4 262.8h0M1415.6 227.3h0M1402.2 238.9h0M1540.8 250.1h0M1523.7 316.4h0M1552 245.6h0M1399 183.1h0M1511.6 217h0M1526.1 345.9h0M1546.9 340h0M1458.5 285.5h0M1396.2 240.2h0M1456.3 221.4h0M1513.8 255.3h0M1452.7 129.4h0M1375.4 178h0M1392.4 243.2h0M1399.5 273.2h0M1637 474.7h0M1776 269.6h0M1784.7 375.6h0M1391.8 255.7h0M1397.8 202.8h0M1389.4 185.5h0M1546.9 342.3h0M1631.7 253.9h0M1391.8 317.7h0M1530.2 319.7h0M1401.8 184.2h0M1397.6 303.2h0M1761.5 431.9h0M1449.9 189.7h0M1439.9 321.9h0M1467.1 195.7h0M1376.7 227.2h0M1376.2 265.4h0M1515 347.9h0M1441.7 302.3h0M1374.6 229.7h0M1471.2 309.1h0M1515 322.3h0M1508.4 269h0M1378.8 254.9h0M1467.6 202.3h0M1546 215.5h0M1448.5 286.9h0M1378.7 246.1h0M1541.9 382.3h0M1377.2 233.7h0M1769 251.9h0M1469.9 283.9h0M1467.9 406.5h0M1513.6 210.6h0M1466.9 194.1h0M1440 320.2h0M1379.2 136.9h0M1626.9 295h0M1465.8 309h0M1417.7 349.9h0M1455.5 177.6h0M1400.5 188.8h0M1641.9 254.5h0M1379.5 226.6h0M1500.7 389.2h0M1446.5 353.2h0M1444.1 328.1h0M1509.6 87.5h0M1458.9 381.1h0M1444.5 316.9h0M1453.3 320.4h0M1769 447.6h0M1560.8 282.6h0M1419.9 175.4h0M1415 170.2h0M1377.9 275.7h0M1441 306.1h0M1590 291.8h0M1515.5 364.1h0M1608.2 445.4h0M1392.9 261.2h0M1533.3 347.9h0M1375.5 267.8h0M1401.9 283.7h0M1441.2 338.5h0M1443.8 219h0M1769 361.8h0M1513.9 320.2h0M1457.3 226.2h0M1379.3 198.7h0M1608.2 259.1h0M1376.7 273h0M1444.8 383.4h0M1608.2 365.7h0M1391.8 214.3h0M1508.4 193.5h0M1379.3 266h0M1397.4 205.6h0M1460.9 278.5h0M1439.5 287.1h0M1466.2 360.8h0M1523.7 272.9h0M1529.3 240.2h0M1397.7 241.4h0M1761.5 380.3h0M1761.5 430.2h0M1444.1 324.6h0M1520.7 418.2h0M1631.7 301.6h0M1400.2 198.7h0M1545.7 343h0M1500.6 374h0M1471.8 310.1h0M1422.2 321.4h0M1565.6 223.5h0M1392.2 256.3h0M1378.8 163h0M1463.5 214.5h0M1455.7 362h0M1375.5 208h0M1397.1 334.9h0M1392.4 167.5h0M1461.8 351.8h0M1463.9 382.3h0M1454.7 239.2h0M1377.1 162h0M1459.3 187.6h0M1769 464.8h0M1631.7 383.4h0M1379.7 118.9h0M1378.8 237.6h0M1784.7 483.4h0M1470.5 216.1h0M1512.8 228.7h0M1464.9 241.7h0M1501.4 379.1h0M1556.8 221.5h0M1514.6 254.3h0M1528.1 384h0M1389.3 148.4h0M1539 311h0M1461.5 330.6h0M1590 266.9h0M1451.3 280.7h0M1456 353.9h0M1377.9 205.1h0M1515.5 324.7h0M1462.2 237.7h0M1377 212.5h0M1397.6 286.9h0M1389.9 175h0M1418.6 333h0M1393.7 247.1h0M1531.3 329.1h0M1441.5 124.1h0M1532.8 304.9h0M1442.1 334.5h0M1521.8 274.9h0M1514.7 403.4h0M1448.2 370.5h0M1521.9 353.4h0M1375.6 228h0M1776 310.7h0M1378.7 167.2h0M1784.7 446.6h0M1631.7 204.8h0M1776 360.1h0M1450.6 252.1h0M1546.9 223.8h0M1395.2 219.9h0M1376 144.1h0M1443 235.7h0M1377.7 284.2h0M1394.7 203h0M1520.1 130.5h0M1457.3 397.5h0M1460.7 208.1h0M1377.1 229.4h0M1395.6 351h0M1393.9 224.9h0M1631.7 335.9h0M1377 311.5h0M1523.1 427.8h0M1465.5 342.3h0M1443.7 259.1h0M1552 148h0M1417.4 331.5h0M1390.1 212.5h0M1626.9 333.9h0M1769 434.9h0M1391.6 321.9h0M1463.8 268.4h0M1637 429h0M1456.5 179.8h0M1377.7 267.3h0M1458 285.2h0M1595.6 477.4h0M1451.2 365.8h0M1502.2 301.5h0M1626.9 182h0M1392.4 173.6h0M1468.9 186.1h0M1514.7 172.7h0M1376.3 276.3h0M1375.6 260.2h0M1511.8 262h0M1515.2 347.4h0M1631.7 487.5h0M1546.9 160.2h0M1379.5 225.4h0M1397 347.2h0M1525.3 210.8h0M1375 215.7h0M1398.8 247.1h0M1397.2 278.7h0M1637 461.5h0M1464.3 355.8h0M1400.6 286.5h0M1440.9 308.4h0M1396 203.7h0M1526 247.2h0M1379.6 129.2h0M1646.7 430.6h0M1401.9 170.6h0M1463.4 230h0M1463 371.9h0M1377.4 293.1h0M1601.7 377.4h0M1641.9 308.6h0M1608.2 477.5h0M1528.4 335.2h0M1761.5 268.4h0M1376 188.4h0M1439.3 219.8h0M1374.4 116.7h0M1464.7 151.5h0M1440.8 278.8h0M1442.3 326.7h0M1590 290.9h0M1398.9 180.5h0M1374.5 145h0M1453.9 350.6h0M1524.5 314.8h0M1402.2 238.8h0M1445.5 188.9h0M1631.7 482.9h0M1500.8 383.2h0M1378.4 206.9h0M1590 311.8h0M1454.9 218.1h0M1631.7 332.8h0M1509.8 407.2h0M1378.5 223.2h0M1590 406.3h0M1455.5 246.1h0M1565.6 440.5h0M1394.5 169.8h0M1466.8 317.3h0M1396.4 186h0M1631.7 332.1h0M1441.1 171.3h0M1375.4 238.5h0M1376.2 250h0M1452.9 330.6h0M1441.7 113.4h0M1390 229h0M1441.3 319.6h0M1472.4 268.2h0M1438.9 206.7h0M1463 260.2h0M1513.2 436.7h0M1798.5 472.4h0M1377 90.4h0M1377.8 239h0M1769 493.4h0M1401 192.7h0M1389.4 277.3h0M1390.4 190.2h0M1378.4 196.5h0M1502 221.6h0M1395.9 293h0M1375.5 193.3h0M1401.7 333.7h0M1444.9 214.5h0M1392.9 204.5h0M1377.8 295.5h0M1376.8 198.3h0M1508.3 274.8h0M1523.2 282h0M1761.5 387.6h0M1798.5 252.7h0M1452.5 412h0M1441.9 235.2h0M1375.4 120.9h0M1462 232.3h0M1450.4 314.3h0M1468.6 255.8h0M1504.8 241.1h0M1391.7 231.2h0M1395.2 227.6h0M1520.2 307.8h0M1451.9 337.8h0M1583.5 470.5h0M1391.3 158.7h0M1448 212.4h0M1462.5 225.7h0M1601.7 324.4h0M1456.3 220.5h0M1631.7 208.1h0M1516.8 410.2h0M1464.1 312.7h0M1399.7 173.8h0M1462.5 262.1h0M1509.8 312.9h0M1637 408h0M1375 131.1h0M1507 381.8h0M1377.4 262.5h0M1556.8 455h0M1507.3 215.8h0M1457.6 300.6h0M1397.1 245.7h0M1601.7 225.8h0M1442.3 166.3h0M1390.8 265.2h0M1524.8 283.3h0M1527.9 375.2h0M1471 216h0M1510.6 323.8h0M1522.2 363.8h0M1646.7 253.4h0M1378.1 272.1h0M1454.7 130.5h0M1378.7 157.6h0M1402.3 253.9h0M1601.7 414.8h0M1518.8 307.6h0M1608.2 432.6h0M1391.3 234.6h0M1399.5 267.2h0M1536 436.1h0M1420.9 323h0M1459.2 309.2h0M1394.1 274.5h0M1456.7 204.7h0M1453.3 320.3h0M1798.5 437.9h0M1388.8 294h0M1401.5 212.6h0M1608.2 418.7h0M1537.3 313.4h0M1525.3 256.5h0M1769 294.9h0M1375.6 265.3h0M1608.2 486.2h0M1378.5 248.2h0M1520 315.9h0M1516.7 356h0M1466.1 272.1h0M1438.8 239h0M1468.7 348.2h0M1631.7 171.1h0M1457.8 203.9h0M1560.8 424.5h0M1389.5 198.4h0M1394 315.3h0M1376.1 124.1h0M1546.9 218.4h0M1459.9 165.3h0M1500.9 460.7h0M1391.9 277.3h0M1631.7 307h0M1377.2 143.9h0M1390.6 339.9h0M1469.8 121.1h0M1503.1 159.9h0M1376.4 253h0M1443.4 409.7h0M1512.4 273.6h0M1465.7 196.3h0M1376.1 158.9h0M1374.5 153.3h0M1528 233.4h0M1468.6 272.3h0M1420.8 206.8h0M1390.4 155h0M1525.4 272.1h0M1447.7 271.2h0M1401.1 281.9h0M1391.9 161.5h0M1401 159.6h0M1535.2 246.5h0M1637 436.3h0M1798.5 207.9h0M1769 404.5h0M1470.6 190.1h0M1392.3 310.9h0M1438.9 188.3h0M1516.5 243.4h0M1400.2 307.7h0M1608.2 251.7h0M1506.1 216.9h0M1534.6 270.7h0M1440.3 186.2h0M1784.7 470.5h0M1560.8 292.4h0M1390.1 201.3h0M1469.7 349.5h0M1565.6 239.6h0M1399.4 310.2h0M1509.9 248.8h0M1784.7 461.1h0M1398.4 178.6h0M1392.8 158.3h0M1415.5 163.1h0M1378.7 209h0M1608.2 384h0M1394.9 193.8h0M1379 180.4h0M1626.9 383.1h0M1399.3 134.1h0M1631.7 461h0M1466.8 336.7h0M1375.8 210.4h0M1391.5 252.2h0M1449 285.1h0M1784.7 472.7h0M1393.4 254.8h0M1552 349.7h0M1392.8 265.8h0M1460.2 303h0M1526.9 272.4h0M1784.7 543h0M1398.9 195.9h0M1459.7 245.3h0M1538.3 251.3h0M1595.6 353.9h0M1375.7 177.8h0M1450.1 316.5h0M1520.1 297.2h0M1500.5 192.7h0M1442.9 189.2h0M1421.5 189.1h0M1396.6 328.8h0M1523.6 264.8h0M1509.6 243.4h0M1601.7 304.3h0M1392.2 156.7h0M1470.6 301.9h0M1535.1 287.3h0M1391.2 205.4h0M1546.9 320.7h0M1447.6 382.7h0M1641.9 412.8h0M1631.7 305.1h0M1637 285.8h0M1595.6 325.8h0M1446.1 254.3h0M1376.7 209.3h0M1461.6 307.4h0M1454.5 211.1h0M1377.9 142.2h0M1508 300.7h0M1761.5 362.4h0M1509.7 344.3h0M1398.2 256.6h0M1527.9 255.8h0M1398.6 283.3h0M1443 266.2h0M1450.8 285.6h0M1460.1 305.9h0M1560.8 215.1h0M1469.9 366.3h0M1637 480.9h0M1420.9 214.6h0M1449.8 376.9h0M1392.2 196.4h0M1465.8 176h0M1761.5 326.2h0M1560.8 296.7h0M1470.2 182.1h0M1546.9 261h0M1524.4 396.6h0M1390.9 275.8h0M1515.2 296.2h0M1595.6 462.6h0M1377.8 220.5h0M1394.2 154h0M1395.7 216.8h0M1377.2 171.1h0M1394.2 229.9h0M1507.8 387.2h0M1377.9 275.7h0M1379.7 291.4h0M1583.5 277.7h0M1374.6 275.1h0M1528.9 208.8h0M1460.5 323h0M1583.5 481.2h0M1452 327.5h0M1529.3 391h0M1641.9 430h0M1454.4 308.2h0M1402.2 286.7h0M1626.9 294h0M1398.4 242.4h0M1459.2 295.3h0M1378.6 232.3h0M1502.1 405.6h0M1374.5 226.1h0M1500.5 301.7h0M1398.9 196.6h0M1470.8 360.1h0M1377.4 309.5h0M1447.5 377.6h0M1377.8 284.8h0M1467.9 341.4h0M1456.1 301.2h0M1519 207.6h0M1511.2 228h0M1626.9 427.6h0M1400.6 210.6h0M1379 179.1h0M1523.7 229.3h0M1398.7 132.9h0M1422.1 278.4h0M1397.1 150.6h0M1401.8 258.1h0M1601.7 255h0M1391.3 289h0M1641.9 269.7h0M1377.6 234.9h0M1378.3 270.8h0M1507.5 195.9h0M1390.9 165.4h0M1503 317.7h0M1460.5 243.2h0M1784.7 448.4h0M1450.4 202.8h0M1392.8 207.2h0M1378.3 155.5h0M1377.7 259.2h0M1464.4 346h0M1641.9 411.5h0M1539.3 379.6h0M1441.8 217.5h0M1374.8 196.4h0M1471.3 171.9h0M1398.4 268.6h0M1453.2 296.7h0M1449 302.8h0M1440.6 264.3h0M1776 644.8h0M1467 278.2h0M1515.9 288.8h0M1608.2 411.5h0M1637 394.8h0M1389.6 151.7h0M1452.3 155.3h0M1769 195.1h0M1519.9 365.2h0M1646.7 428.3h0M1375.3 288.7h0M1512.1 294.7h0M1590 361.6h0M1510.6 250.5h0M1397.2 261.1h0M1395.4 219h0M1531.2 218.7h0M1515.7 237.2h0M1377.8 253.2h0M1395.3 181h0M1401.2 238.8h0M1454.6 201.2h0M1379.2 279.2h0M1462.9 231.5h0M1583.5 282.8h0M1465.4 323.3h0M1402.2 315.4h0M1451.4 410.9h0M1441.5 227.8h0M1416.5 237.3h0M1530.6 259h0M1601.7 211.8h0M1509.4 308.1h0M1402.2 250.4h0M1545.1 346.2h0M1378.7 275.8h0M1393.1 297.7h0M1389 168.7h0M1439.7 268.9h0M1463.3 361.1h0M1378.7 310.2h0M1514.3 307.7h0M1421.6 306.7h0M1451.3 220.8h0M1396.6 185.8h0M1626.9 446h0M1641.9 259.7h0M1394 276.3h0M1375.5 151.2h0M1530.1 347.7h0M1546.9 390h0M1451.4 317h0M1462.7 339.2h0M1521.4 339.4h0M1394.1 168.3h0M1392 216.2h0M1465.6 157.5h0M1546.9 291.4h0M1533.5 358.7h0M1560.8 317.6h0M1441.8 293.1h0M1457.5 341.7h0M1400.5 245.1h0M1509.2 285.1h0M1377.6 139h0M1401.4 173.1h0M1392.2 264.4h0M1379.7 272.6h0M1400.7 206.3h0M1401.7 315.2h0M1402 219.2h0M1542.7 384h0M1509.2 261.9h0M1448.3 247.6h0M1454.1 194.4h0M1450.9 318.8h0M1646.7 368.7h0M1468.9 202.9h0M1471.7 270h0M1401.4 323.8h0M1392.9 198.3h0M1400.6 168.5h0M1467.5 222.2h0M1401.9 265.4h0M1392.2 221.4h0M1453.7 213.2h0M1470.5 219.5h0M1464.5 366.7h0M1457.1 222.9h0M1537.2 316.8h0M1391.4 214.3h0M1374.6 217.5h0M1460.2 182h0M1400.2 300.2h0M1379.1 260.2h0M1393.6 128.7h0M1442.8 290.9h0M1590 352.3h0M1776 283.4h0M1441.7 169.2h0M1458.2 400.7h0M1379.4 272h0M1509.5 232.4h0M1458.6 338.7h0M1378 157.4h0M1375.9 246.2h0M1454.1 325.5h0M1379.1 213.3h0M1396.1 296.7h0M1472 350.6h0M1392 252.4h0M1377.8 167.3h0M1583.5 214.2h0M1458.5 282.7h0M1414.5 240.9h0M1455.3 294.7h0M1538.4 392.7h0M1402.6 151.5h0M1376.4 177h0M1399.1 234.6h0M1470 168.4h0M1399.1 202.6h0M1539.7 331.7h0M1390.5 241.4h0M1452.8 312.8h0M1521.5 236.8h0M1526.2 176.1h0M1445.2 162.8h0M1378.6 158.8h0M1523.3 379.9h0M1389.7 195.3h0M1391.9 199.8h0M1451.2 356.1h0M1463.9 284h0M1441.4 235.2h0M1518 343.2h0M1394.9 315.7h0M1455.2 179.4h0M1398.7 328.6h0M1469.8 254.5h0M1510.1 383.3h0M1565.6 154.9h0M1390.7 293.1h0M1595.6 443h0M1375.7 147.1h0M1784.7 405.4h0M1457.2 289h0M1389.8 239.8h0M1583.5 228.2h0M1438.8 265.4h0M1451.8 268.9h0M1396.1 201.1h0M1524.6 318.5h0M1646.7 198.1h0M1513.4 418h0M1583.5 375.3h0M1390.5 236.3h0M1517.9 379.3h0M1631.7 364.5h0M1518.7 288.4h0M1379.5 196.6h0M1590 386.5h0M1456.3 228.9h0M1398.1 286.5h0M1626.9 404.1h0M1631.7 406.8h0M1452.6 290.9h0M1518.5 279.6h0M1377.5 311.6h0M1506.3 260h0M1512.9 220.8h0M1516.4 248.8h0M1631.7 281.2h0M1453 334.6h0M1401.3 212.1h0M1459.5 405.4h0M1401.7 203.2h0M1399.1 294.4h0M1509.1 278.8h0M1394.4 218.9h0M1394.9 266.5h0M1440.2 387.3h0M1394.6 307.6h0M1455.7 342.7h0M1601.7 254.5h0M1452.6 253.9h0M1468.3 358.8h0M1520.8 277.7h0M1590 269.9h0M1388.8 287.9h0M1392.9 167.7h0M1377.1 210.6h0M1450.8 264h0M1377 240.7h0M1626.9 357.1h0M1379 177.6h0M1798.5 201.1h0M1395.3 266.5h0M1389.9 268.8h0M1399.7 285.8h0M1519.7 313.6h0M1776 343.7h0M1504.7 310.6h0M1391.9 170.7h0M1416.5 156.5h0M1378.4 299.6h0M1445.3 220.9h0M1390.6 327h0M1556.8 330.7h0M1401.1 244.2h0M1546.9 440h0M1446.1 269.3h0M1526.3 349.3h0M1394.5 306.1h0M1467.4 286h0M1395.6 420h0M1523.9 282.8h0M1376.8 162.3h0M1377.2 174.9h0M1798.5 475.4h0M1469.7 167.7h0M1416.8 308.9h0M1443.7 265.6h0M1471.4 334.6h0M1379.6 103.9h0M1397.8 285h0M1595.6 211.7h0M1397.4 192.9h0M1447.7 193h0M1511.7 278.1h0M1393.5 196.4h0M1500.6 288.3h0M1377.3 145.1h0M1376.3 120.8h0M1464.3 112.8h0M1472.5 352.4h0M1458.5 280.1h0M1784.7 345.4h0M1776 468.6h0M1458.1 256.3h0M1641.9 365.3h0M1446.6 400.4h0M1399.2 151.9h0M1465.4 264.9h0M1546.9 352.4h0M1590 212h0M1378.1 114.3h0M1445.3 183.3h0M1456.2 346.1h0M1552 275.5h0M1398.1 289.1h0M1631.7 310.9h0M1761.5 462.6h0M1469.5 207.3h0M1448 258.7h0M1396.2 258.1h0M1392.3 248.9h0M1454.1 142.9h0M1784.7 285.5h0M1401.5 301.4h0M1595.6 147.1h0M1503.3 406.5h0M1450.5 114h0M1461.3 195.3h0M1502.2 368.7h0M1398 201.2h0M1454.3 351.2h0M1445.7 185.7h0M1546 357.6h0M1419.1 304.2h0M1465.6 224.2h0M1442.5 339.2h0M1395.1 272.3h0M1396.7 294.4h0M1583.5 427.1h0M1397.5 307.8h0M1393.2 325.5h0M1467.1 300.7h0M1445.1 202h0M1517.4 269.6h0M1451.3 307.1h0M1390.8 266.5h0M1398.1 282.5h0M1798.5 317h0" stroke="#e0340a" stroke-opacity="0.64" stroke-width="4.3" stroke-linecap="round" fill="none"/>
<path d="M1287.5 195.5h0M1290.8 234h0M1369.3 286h0M1312.8 209.9h0M1349.1 180.8h0M1340.7 214.1h0M1300.6 284.6h0M1366.7 226.9h0M1365.1 282.9h0M1430.4 160.8h0M1327.6 245.8h0M1340.8 151.7h0M1428.5 149.6h0M1289.2 193.8h0M1493 364.9h0M1301.4 204.3h0M1290.1 210.5h0M1432.2 340.3h0M1336 273.3h0M1333.6 280.4h0M1410.2 295.3h0M1366.4 269.1h0M1349.9 181.7h0M1296.2 193h0M1325.9 187.7h0M1341.4 190.2h0M1492.4 404.4h0M1496 216.6h0M1496.9 277.9h0M1364.2 204.5h0M1337.5 273.3h0M1369.3 207h0M1290.6 148.9h0M1290 193.7h0M1366.4 273.5h0M1337.7 223.3h0M1302.8 242h0M1330.3 201.8h0M1369.9 198.7h0M1296.6 230.5h0M1288.9 176.3h0M1300.9 193.4h0M1340.1 227.2h0M1497.6 353.5h0M1303.1 254.1h0M1367.4 214.9h0M1388.4 217.7h0M1328.6 240.8h0M1493.6 308.2h0M1367.9 174.5h0M1327.6 163.3h0M1334.3 205.9h0M1301.2 193.2h0M1365.7 252.8h0M1313 229.8h0M1428.8 218.6h0M1385.8 282.4h0M1326 122.9h0M1296.1 213.7h0M1327.8 219.5h0M1365 326.3h0M1288.6 177.9h0M1326.7 177.1h0M1431.9 314.3h0M1364.6 190.4h0M1303.4 210.4h0M1385.5 236.6h0M1300.6 161.2h0M1340.6 140.6h0M1300.7 224.4h0M1366.1 280.7h0M1338.6 144.5h0M1312.8 216h0M1329.2 174.3h0M1339.7 148.4h0M1288.7 165.5h0M1385.2 309.6h0M1287.6 213.3h0M1327.1 224.4h0M1431.5 189.1h0M1407.5 342.2h0M1289.6 164.9h0M1313.3 235.9h0M1332.6 133.8h0M1365.1 305.5h0M1387.8 350.6h0M1493.8 330.8h0M1349.3 196.9h0M1388.4 297.2h0M1350.4 191.1h0M1359 167.5h0M1386.5 125.9h0M1342.6 210.3h0M1328.5 242.8h0M1430.5 147.8h0M1289.4 270.4h0M1326.2 264.1h0M1386.3 318.1h0M1301.8 194.6h0M1366.5 202.7h0M1367.2 306.8h0M1336.6 276.9h0M1349.7 251h0M1302.7 211.3h0M1327.8 310.2h0M1366.7 312h0M1303.4 257.8h0M1429.8 209.2h0M1287.2 254.4h0M1330.6 190.4h0M1428.2 187.7h0M1327.5 205.6h0M1326.2 240.1h0M1370.1 297.3h0M1330.7 250.1h0M1431.2 349.2h0M1350.1 238.1h0M1290.9 230.8h0M1290.6 221.1h0M1341.5 211h0M1331.5 229.7h0M1332.2 252.8h0M1493.7 240.9h0M1430.1 331.1h0M1331.8 132.1h0M1326.9 208.3h0M1368.9 262.9h0M1336.9 200.3h0M1301.4 258.8h0M1340.8 230.3h0M1366.5 253.7h0M1302.9 224.2h0M1287.8 204.9h0M1303.5 222.3h0M1290.6 213.1h0M1332.2 184h0M1350.1 220.2h0M1350.3 205.3h0M1302.6 175.3h0M1332.3 178.2h0M1338.4 181.9h0M1368.2 204.5h0M1349.9 168.2h0M1302.1 207.9h0M1493.8 249.1h0M1341.7 236.5h0M1364.6 221.1h0M1430.6 258h0M1288.1 222h0M1289.5 203.1h0M1327.8 209.7h0M1333.7 223.6h0M1290.1 177.5h0M1340.6 234.8h0M1313.9 225.1h0M1334.7 268.5h0M1296.3 203h0M1296.6 190.9h0M1331.5 260.8h0M1368.5 264.1h0M1409.3 299.3h0M1432.6 393.7h0M1333.8 276.3h0M1494 166.3h0M1289.8 182h0M1385.6 183.3h0M1388.5 303.5h0M1369.9 200.7h0M1432 352.9h0M1296.2 218.2h0M1368.3 238.1h0M1369.1 231.8h0M1366.2 293.4h0M1388 139.2h0M1303 249h0M1336.8 160.6h0M1366.9 249.2h0M1288.3 147.4h0M1340 221.2h0M1429.8 252.1h0M1287.4 258.5h0M1365 216.9h0M1366 283.3h0M1333.6 249.5h0M1349.3 204.3h0M1336.6 199.4h0M1364.6 376.6h0M1296.8 215.2h0M1333.5 164.4h0M1387.3 138.4h0M1432.1 186.4h0M1366.6 235.1h0M1326 220.5h0M1313.7 250.2h0M1301 231.7h0M1330.5 196.2h0M1334 293.7h0M1331.6 130.6h0M1296.3 209.7h0M1349.6 308.6h0M1431.6 316.1h0M1288.5 215.8h0M1313.3 221h0M1494.7 319.8h0M1385.7 180.2h0M1303.3 195h0M1302.6 222.6h0M1370 236.1h0M1386.1 339.7h0M1340.6 211.4h0M1365.7 337.4h0M1329.8 236.1h0M1364.4 243.6h0M1408.6 359.3h0M1340.9 171.2h0M1289.9 177.2h0M1369.5 269.5h0M1302.1 227.5h0M1495 295.4h0M1364.2 237h0M1331 281.9h0M1332.6 186.9h0M1370.2 248.5h0M1495.8 227.3h0M1331.1 216.8h0M1302.7 160.7h0M1301.5 196.6h0M1349.9 221.3h0M1342 261.8h0M1364.5 315.4h0M1312.8 184.9h0M1364.4 243.2h0M1494.4 378h0M1430.9 282.1h0M1326.9 216.2h0M1349.8 203.9h0M1358.8 217.5h0M1364.1 217.3h0M1407.2 334.9h0M1287.4 238.9h0M1365.7 332.7h0M1327.8 234.2h0M1289.4 201.2h0M1495.5 199.2h0M1495.8 178h0M1287.8 165.5h0M1287.5 176.4h0M1358.1 191.9h0M1388.4 273.6h0M1349.3 158.7h0M1365.8 260.4h0M1493.9 260.7h0M1368.5 211.6h0M1301.6 218.2h0M1494.9 318.7h0M1387.2 300.1h0M1295.8 235.1h0M1408.2 306.5h0M1327.3 214.4h0M1332.9 230.7h0M1385.2 218.9h0M1301.2 229.7h0M1368.1 380h0M1337.6 160.2h0M1369.3 239.2h0M1303.8 192.1h0M1431.4 302.6h0M1327.4 202.1h0M1288.8 217.5h0M1302.8 232h0M1368.7 252h0M1338.9 230.7h0M1341.1 266.1h0M1289.1 177.1h0M1288.2 225.7h0M1349.2 170h0M1335.3 226.1h0M1368.1 269.9h0M1302.8 181h0M1313.6 235.8h0M1331 183.5h0M1337.2 173.7h0M1313.2 212.6h0M1366.9 245.3h0M1303.2 264.2h0M1430.1 145.5h0M1303.8 190.5h0M1496.9 188.2h0M1368.8 207.9h0M1334.7 183.6h0M1370.4 148.4h0M1290.4 230h0M1492.7 233.6h0M1369.6 214h0M1364.5 214.7h0M1328.1 159.1h0M1496.6 378.1h0M1328.3 275.2h0M1289.4 179.1h0M1387 153.3h0M1364.3 226.5h0M1289.9 203.4h0M1328.5 244.6h0M1301.9 241.3h0M1287.4 246.5h0M1287.6 171.2h0M1303.6 199.5h0M1336.7 304.1h0M1340.7 218.8h0M1300.8 225.4h0M1289.5 237.3h0M1366.2 219h0M1300.9 193h0M1366.3 367.6h0M1296.3 188.6h0M1431 143.7h0M1384.6 119.3h0M1290.8 186.5h0M1388.3 340.8h0M1359 238.9h0M1335.3 195.9h0M1296.3 183.2h0M1359.2 258.9h0M1287.7 194.1h0M1386.1 228.2h0M1295.8 156.1h0M1365.1 361.7h0M1431.7 282.5h0M1429.2 383h0M1429.1 323h0M1385.4 158.1h0M1366.9 263.1h0M1350.4 294.5h0M1370 186.6h0M1328 153.9h0M1494.9 350.6h0M1358.6 191.8h0M1408.5 168.4h0M1358.4 178.3h0M1329.4 290.9h0M1358.3 196.6h0M1303.5 260.2h0M1336.3 267.2h0M1385.7 181.4h0M1431.6 180h0M1289.3 158.7h0M1338.2 210.2h0M1492.9 204.6h0M1384.3 319.9h0M1304.1 241.3h0M1303.7 255.3h0M1313.8 199.9h0M1337.4 133.6h0M1385.1 203.6h0M1339.9 192.6h0M1429.8 312.4h0M1431.8 277.3h0M1430.1 167.9h0M1313.6 235.6h0M1288.3 212.1h0M1333 274.3h0M1337.9 255.3h0M1295.7 184.2h0M1328.1 241.6h0M1385.4 234.9h0M1288.5 187.6h0M1366.4 219.2h0M1335.5 217.2h0M1295.8 247.1h0M1369.4 213.9h0M1493.9 188.6h0M1366.6 277h0M1339.4 200.4h0M1384.7 200.5h0M1409.5 252h0M1289.4 271.2h0M1302.2 222.2h0M1290.3 245h0M1370.2 180.4h0M1350.1 168.9h0M1290.7 230.9h0M1384.2 130h0M1291 165.2h0M1384.8 183.1h0M1333 253.7h0M1341 258.5h0M1326.3 238.3h0M1287.6 166.4h0M1301.7 193.1h0M1366.4 243.8h0M1332.2 196.5h0M1335.6 262h0M1331.1 156.7h0M1429.2 156.2h0M1302.1 203.5h0M1337.9 288.1h0M1368.4 199.6h0M1337.1 183.2h0M1340.3 167.5h0M1301.5 243.4h0M1431.2 175.6h0M1290 241.3h0M1407.9 242.2h0M1495.5 248.9h0M1408.1 170.1h0M1303.3 306.7h0M1495.4 361h0M1358.3 231h0M1302.8 227.2h0M1335 169.1h0M1287.6 197.7h0M1313.4 217.5h0M1350.1 199.2h0M1327.1 267.5h0M1493.6 341.2h0M1365.4 283.4h0M1341.2 285.7h0M1329.3 223h0M1369.4 296.3h0M1364.9 268.5h0M1495.2 297.7h0M1432.7 270.3h0M1429.4 191.5h0M1288.2 202.8h0M1364.5 269.9h0M1296.6 182.7h0M1408.2 254.2h0M1328.1 207.4h0M1408.8 278.4h0M1313.4 210.3h0M1406.9 259.6h0M1313.1 216.7h0M1337.6 198.2h0M1496.3 362.3h0M1295.7 191h0M1289.5 159.7h0M1313.1 185.4h0M1326.1 182.9h0M1326.4 183.2h0M1367.3 228.4h0M1367.9 270.2h0M1431.2 188.9h0M1303.6 220.9h0M1289.4 170.6h0M1302.4 176.3h0M1407.8 243.8h0M1432 345.4h0M1301.7 190h0M1358.8 218.1h0M1337.6 244.2h0M1287.5 161.7h0M1289.6 226.6h0M1409.1 124.3h0M1329 167.2h0M1339.9 169.5h0M1408.4 297.4h0M1366.5 254.2h0M1492.1 348.5h0M1313.8 284.8h0M1327.2 164.9h0M1358.4 233.2h0M1287.4 237.4h0M1288.8 197h0M1387.8 210.1h0M1300.9 193.9h0M1338.7 279.5h0M1431.6 326.6h0M1333.8 202.2h0M1364.8 291.1h0M1330.6 197.8h0M1333.1 268.8h0M1338.5 265h0M1368.5 295.4h0M1365.4 259.8h0M1367.8 187.4h0M1303.7 170.5h0M1336.2 238.9h0M1290.8 247.4h0M1331.4 245.5h0M1349.9 205h0M1367.9 272.3h0M1369.6 198.3h0M1333.9 271.1h0M1326.4 226.7h0M1331.6 173.4h0M1301.7 309.9h0M1326.9 169.9h0M1328.6 166.2h0M1336.7 274.6h0M1387 282.8h0M1327 200.4h0M1334.6 257h0M1329.6 148h0M1329.5 170.4h0M1326.8 134.6h0M1410.3 250.6h0M1387.9 209.6h0M1496 144.7h0M1368.8 296.5h0M1365 232.6h0M1288.2 192.3h0M1327.8 208.2h0M1333.6 225.7h0M1302.3 260.1h0M1288 234.8h0M1326.6 195.9h0M1313.2 181.5h0M1327.9 230.7h0M1367.2 224.8h0M1366.5 219.5h0M1388 162.3h0M1496.8 305.9h0M1330.7 223.8h0M1368.9 282.2h0M1290.2 232.8h0M1303.6 294.2h0M1288.6 247.7h0M1289.1 223.1h0M1332.8 243h0M1493.9 242.3h0M1370.3 248.7h0M1407.3 209.5h0M1301.3 263.4h0M1370.2 234.2h0M1341.3 187.5h0M1332.2 224.8h0M1494.2 280.4h0M1364.5 226.7h0M1289.8 235.1h0M1295.8 174.3h0M1301 247.2h0M1365.6 296.4h0M1326.4 297.6h0M1289.7 170.7h0M1407.8 288.7h0M1290.1 214h0M1335.2 194.3h0M1289.6 155.8h0M1492.3 333h0M1287.2 166h0M1341.3 166.9h0M1409.1 266.6h0M1288.7 222.8h0M1406.8 281.7h0M1370.3 324.8h0M1331.3 185.1h0M1359.1 202.3h0M1384.4 182h0M1358.5 265.8h0M1387.6 337.6h0M1358.2 248.3h0M1387.1 272.8h0M1370.2 263.2h0M1350.2 201.4h0M1349.8 199.7h0M1431.5 274.1h0M1288.7 237.9h0M1497.1 402h0M1495.8 269.3h0M1331.7 128.3h0M1349.6 187.4h0M1290.6 169h0M1288.5 203.2h0M1336.9 192.4h0M1289.5 222.3h0M1349.2 207h0M1409.5 225.6h0M1406.6 193.4h0M1287.4 231.1h0M1313.9 210.3h0M1365.5 269.5h0M1313 206h0M1325.7 236.3h0M1336.1 281.5h0M1339.3 224.7h0M1313.1 177.8h0M1368 205.5h0M1328.9 227.9h0M1313.1 203.8h0M1303.6 252.7h0M1430 267.8h0M1369.8 284.8h0M1288.5 215.9h0M1327.3 210.1h0M1296.5 178.2h0M1493 227.6h0M1367.3 263.5h0M1296.2 186.5h0M1496.7 388.7h0M1350 226.9h0M1386 309.4h0M1328.2 313.8h0M1300.5 231.2h0M1365 281.4h0M1366.1 272.1h0M1303.2 249.3h0M1328.5 185.7h0M1366.4 232.3h0M1334.5 213.5h0M1328 164h0M1407.3 122.4h0M1312.9 209.4h0M1341.6 198.6h0M1366.6 201.4h0M1331 236.3h0M1497.3 396.9h0M1332 271.7h0M1369.8 277.9h0M1313.9 210.3h0M1349.5 253.5h0M1369.8 285.6h0M1494.8 336.6h0M1331.6 152.4h0M1290.6 227.1h0M1339.7 139.6h0M1290.5 197.7h0M1303.7 191.8h0M1370 292.4h0M1313.9 232.4h0M1301 187.1h0M1337.2 276.1h0M1384.8 231.3h0M1335.2 231.3h0M1329.8 233.2h0M1287.9 204.7h0M1331.3 197.4h0M1300.7 263.4h0M1428.6 230.8h0M1326.9 168.8h0M1428.3 257.8h0M1302.1 203.4h0M1495.3 245.1h0M1368.3 199.4h0M1367.5 191.3h0M1333.1 188.2h0M1332.9 218.3h0M1368.6 180.5h0M1386.1 162.2h0M1287.4 220.7h0M1288.9 192.9h0M1364.4 304.9h0M1430.8 239.1h0M1369.3 242.5h0M1325.6 271.2h0M1385.4 164.6h0M1350.1 249.2h0M1429.8 341.5h0M1365.7 316.4h0M1296.3 198.1h0M1335.2 278.1h0M1296.6 227h0M1304 244.9h0M1350.2 247.8h0M1408.3 173.2h0M1431.3 211.7h0M1385.6 248.6h0M1432 213.9h0M1358.8 215.1h0M1387 140h0M1384.3 315.5h0M1337.5 208.7h0M1410 352h0M1364.4 252.3h0M1332 154.2h0M1350.4 227.9h0M1494.5 217.3h0M1496.6 346.3h0M1493.3 197.7h0M1341.5 234.6h0M1429.3 204.1h0M1367.4 255.7h0M1337.6 212.5h0M1432.4 136.1h0M1430.3 206.3h0M1303.3 188.2h0M1349.6 229h0M1326.6 208.3h0M1407.7 324.7h0M1329.3 141.7h0M1384.3 203.2h0M1368.5 278.6h0M1358.1 220.2h0M1288.5 234h0M1296.1 221.9h0M1287.6 232h0M1287.8 239.5h0M1365.6 225.1h0M1368.7 225.3h0M1497.1 340.2h0M1289.6 157.3h0M1289.7 214.4h0M1327.2 287.2h0M1330 219.5h0M1329.6 176h0M1387.4 143h0M1291 265.1h0M1358.7 220.8h0M1290.6 159.5h0M1332.4 219.9h0M1327.1 156h0M1350.3 213h0M1366.5 301.8h0M1388.4 319.6h0M1410.2 320.8h0M1289.4 261.3h0M1494.8 317.1h0M1364.4 225.2h0M1407.6 309.7h0M1429.5 188.3h0M1287.7 222.5h0M1427.8 300.3h0M1331.8 208h0M1341.7 221.9h0M1366.2 291h0M1300.7 263.1h0M1287.5 271.7h0M1497.7 287.2h0M1303.2 241.1h0M1430.3 313.1h0M1407 198.2h0M1287.9 243.3h0M1495.4 298.4h0M1407.7 232.1h0M1331.5 227.2h0M1341.5 184.6h0M1313.9 188.6h0M1364.7 278.1h0M1296.4 249.3h0M1288.2 225.7h0M1303.2 188.1h0M1326.6 267.7h0M1313.8 199.3h0M1368.4 152.9h0M1370 231h0M1408.5 253.3h0M1327.5 240.7h0M1302.3 302.3h0M1331.7 266.9h0M1494.5 340.6h0M1407.9 268.9h0M1350.3 224.8h0M1335.5 236.9h0M1339.4 232.8h0M1313.3 265.6h0M1303.9 173.5h0M1431.4 359.9h0M1312.8 196.2h0M1303 243.4h0M1349.2 167.8h0M1288.4 173.6h0M1290.9 269.4h0M1342.4 223.8h0M1332.2 253.7h0M1368 376.1h0M1388 200.7h0M1290.6 181.1h0M1289.4 206.9h0M1335.8 267.6h0M1384.7 262.7h0M1368 410.9h0M1330 144.8h0M1328.5 200.8h0M1325.7 193.6h0M1287.8 161.4h0M1336.5 253.5h0M1341 262.2h0M1385.9 240.2h0M1431.2 244.6h0M1364.1 220.6h0M1303.7 241h0M1289.4 251.5h0M1428 331.1h0M1408.5 209.1h0M1335.3 279.7h0M1328.1 271.5h0M1302.9 232h0M1302.3 132.6h0M1358.7 200.4h0M1300.7 216.6h0M1497.2 316.4h0M1370 340.9h0M1333.5 257.4h0M1365.5 236.3h0M1333.6 201h0M1496.6 326h0M1388 318.2h0M1407.9 178h0M1370.3 384h0M1288.7 253.4h0M1349.6 246h0M1367.5 305.9h0M1432 259.9h0M1493.2 277.7h0M1330.5 220.1h0M1369.5 243.6h0M1364.7 189.3h0M1349.4 237.3h0M1496.6 326h0M1338.6 173.2h0M1335.6 186.2h0M1427.6 207.2h0M1302.3 218.5h0M1408.6 113.6h0M1328.8 200h0M1429.1 253h0M1303.2 199.1h0M1333.2 172.7h0M1350.3 248h0M1336.7 217.3h0M1432.3 236.2h0M1369.1 217.3h0M1288.2 179.8h0M1495 346.9h0M1289.5 200.4h0M1408.3 146.6h0M1300.6 247.7h0M1349.4 187.2h0M1332 190.3h0M1386.8 294h0M1388.1 238.2h0M1296.3 230h0M1369.1 284.9h0M1289.9 209h0M1428.1 154.7h0M1330.7 219.2h0M1387.8 174.2h0M1432.7 165.3h0M1328 194.7h0M1334.3 268.8h0M1427.8 213h0M1331.3 268.3h0M1288.5 170.2h0M1302.1 260.5h0M1289.2 150.9h0M1495.6 157.7h0M1333.5 145.3h0M1358.5 261h0M1333.1 276.8h0M1386.9 253.9h0M1349.4 184.2h0M1330.3 119.3h0M1384.9 236.7h0M1302.3 216.6h0M1339.1 275.1h0M1302.1 259.2h0M1340.1 270.4h0M1349.3 284.2h0M1349.6 236.4h0M1290 224.5h0M1335.3 282.6h0M1386.1 195.4h0M1366.9 276.4h0M1336.8 186.1h0M1368.9 202.1h0M1290.4 223h0M1288.4 266.3h0M1302.9 196.3h0M1384.5 263.5h0M1336 281.4h0M1430.4 279.7h0M1304 146.6h0M1331.4 197.1h0M1341.1 216.6h0M1288.6 174.8h0M1300.7 279.7h0M1328.4 214h0M1335.4 211.4h0M1291.1 167.7h0M1409.4 129.8h0M1295.6 195.2h0M1289.9 235.3h0M1364.2 239.6h0M1496.8 218h0M1287.7 230.1h0M1358.4 219.6h0M1302.3 307.3h0M1342 210.5h0M1339.4 172h0M1331 241.4h0M1388.1 219.2h0M1367.8 296.6h0M1349.5 242.5h0M1431.3 355.4h0M1364.5 244.2h0M1288.3 207.2h0M1407.1 255.9h0M1331.9 181.4h0M1494.4 304.2h0M1349.4 258.4h0M1326.3 207.2h0M1370.4 236.9h0M1365.1 276.1h0M1427.8 146.8h0M1366.7 230.2h0M1340.3 180.9h0M1384.3 358.9h0M1385.4 189h0M1365.9 193.9h0M1336.9 198.4h0M1288.3 243.7h0M1496.6 389.4h0M1289 242.2h0M1331.7 201.4h0M1342.5 213.2h0M1288.9 189.5h0M1303.7 221.9h0M1493.2 303.5h0M1330.8 170.9h0M1296.2 234.3h0M1337.6 172.3h0M1385.5 204h0M1331.3 176.4h0M1409.4 147h0M1349.1 217.5h0M1334.4 197.4h0M1325.6 196.9h0M1368.2 240h0M1492.7 382.7h0M1384.6 180.6h0M1333.7 242.6h0M1492.6 360.2h0M1290 204.5h0M1295.8 213h0M1289.6 219.5h0M1330.7 192.9h0M1303.7 247.6h0M1295.7 187h0M1365.4 224.5h0M1432.1 290.8h0M1368.6 297.8h0M1428.2 298.6h0M1331.3 218.4h0M1325.7 206.4h0M1338.5 205.3h0M1349.6 170h0M1427.8 277.7h0M1368 208.4h0M1287.2 230.2h0M1303.5 199.4h0M1350 193.1h0M1367.4 319.8h0M1365.4 324.3h0M1341.1 204.7h0M1331.3 254.9h0M1408.3 201.2h0M1349.9 161.8h0M1335 259.9h0M1313.1 197.8h0M1327.7 176h0M1384.7 272h0" stroke="#1f6f9b" stroke-opacity="0.62" stroke-width="4.3" stroke-linecap="round" fill="none"/>
<path d="M1471.7 363.2h0M1515 306.4h0M1595.6 194.9h0M1396.8 235.9h0M1590 472.9h0M1397.3 184.1h0M1464.4 312.5h0M1443 331.6h0M1470.8 273.8h0M1546.9 276.1h0M1376.8 179.8h0M1510.4 165.3h0M1452.8 221.4h0M1506.8 422.4h0M1453 243.5h0M1507.8 278h0M1466.1 210.4h0M1389 277h0M1536.8 224.9h0M1565.6 382h0M1377.6 160.4h0M1518.8 514h0M1444 196.9h0M1470.9 367.5h0M1452.6 310.2h0M1608.2 208.6h0M1560.8 265.2h0M1396 288.6h0M1511.3 159h0M1541.3 386h0M1393.5 205.1h0M1455.9 317.7h0M1441.6 320.6h0M1533.4 331.6h0M1601.7 158.2h0M1377.2 279.2h0M1393.8 243.6h0M1527 278.8h0M1396.8 427h0M1637 381.6h0M1460.6 395.5h0M1535.3 332.2h0M1394.4 286.4h0M1375.6 179.4h0M1439.1 190.6h0M1391.1 72h0M1511.1 333h0M1378.5 228.4h0M1646.7 229.4h0M1447.4 349.2h0M1590 168.2h0M1631.7 199.5h0M1515.7 305.7h0M1396.8 234h0M1461.8 272.4h0M1761.5 524.1h0M1453 303.6h0M1374.9 178.6h0M1394.7 210.7h0M1506.2 125h0M1398 192.7h0M1377.1 142.1h0M1441.9 221.6h0M1769 465.2h0M1449.2 275.4h0M1461.7 303.5h0M1449.2 210.9h0M1440.5 356h0M1393 235.9h0M1443 322.7h0M1560.8 216.3h0M1393.5 270.4h0M1560.8 213.9h0M1523.5 337.1h0M1401.7 197.4h0M1468.7 207.3h0M1761.5 450.9h0M1527.6 268.9h0M1398.1 268.8h0M1470.8 258.6h0M1393.9 258.9h0M1637 294.2h0M1379.2 193.2h0M1541.4 284.7h0M1514.4 255.2h0M1458.7 299.5h0M1462.7 224.3h0M1397.6 135.1h0M1377.5 178.3h0M1394.7 221.7h0M1451 320.2h0M1461 335.5h0M1776 468h0M1395.1 315.4h0M1396.3 170h0M1798.5 520.3h0M1396.3 216.6h0M1392.7 179h0M1641.9 360.7h0M1533.2 361.8h0M1399.2 143.7h0M1377.8 202.7h0M1378.9 263.3h0M1470.7 199.1h0M1395.6 188.7h0M1646.7 292.5h0M1378.5 285.2h0M1374.5 163.7h0M1536.3 389.1h0M1402.4 204.8h0M1394.2 215.6h0M1466.6 202.7h0M1462.8 230.8h0M1390 189.5h0M1416 268.5h0M1560.8 186.5h0M1399.6 308.2h0M1378.1 277.3h0M1565.6 363h0M1420.3 257.5h0M1565.6 333.1h0M1375.2 261.3h0M1524.6 351.5h0M1401 237.2h0M1455.8 263.4h0M1590 474.5h0M1464.6 218.6h0M1396.8 262.2h0M1399.8 242.6h0M1376.6 163.2h0M1452.1 240.1h0M1374.9 248.4h0M1608.2 154.9h0M1374.6 193.3h0M1798.5 523.1h0M1583.5 355.9h0M1646.7 335.5h0M1535 254.3h0M1601.7 184.7h0M1396.5 332.6h0M1527.4 214.5h0M1552 345.4h0M1453.7 211.8h0M1461 392h0M1391.4 182.1h0M1439.3 288.5h0M1531.2 229.2h0M1516.7 454.7h0M1401.9 155.9h0M1761.5 204.7h0M1439.7 325.4h0M1516.9 372.4h0M1450.2 323.5h0M1461.5 323.7h0M1546.9 349.5h0M1505 396.6h0M1440.4 253.6h0M1590 383.7h0M1389.8 256.6h0M1539.3 379.2h0M1512.5 343.9h0M1445.8 238.5h0M1375.2 174.6h0M1536.6 324.4h0M1456.8 203.4h0M1399.6 142.1h0M1374.9 137.3h0M1583.5 134.8h0M1393.8 199.2h0M1511.3 315h0M1374.6 146h0M1453.6 189.5h0M1415.5 172.8h0M1376.7 119.2h0M1452.6 164.3h0M1465.5 199.2h0M1377.3 200.5h0M1377.4 228.5h0M1465.9 154.7h0M1595.6 252.6h0M1583.5 312.7h0M1469.3 263.7h0M1520.5 203.5h0M1450.7 239.9h0M1442 211.8h0M1637 196.6h0M1472.5 142.4h0M1442.5 308.8h0M1379.6 151.9h0M1395 196h0M1527.7 377.4h0M1515.7 328.9h0M1396 182.9h0M1394.5 213.7h0M1375 193.4h0M1776 368.8h0M1464.1 314.3h0M1393.8 280.3h0M1398.6 286.6h0M1390.1 308.4h0M1460.1 230.5h0M1530 315.6h0M1453 135.2h0M1515.6 215.1h0M1536.5 340.9h0M1401.4 185.3h0M1374.4 221.5h0M1467 175.8h0M1641.9 357.3h0M1776 342.3h0M1443.4 282h0M1520.6 276.8h0M1393.7 304.2h0M1402 242.5h0M1776 493.3h0M1395.4 266.3h0M1395.1 306.5h0M1391.7 280.4h0M1641.9 254.6h0M1376 196.7h0M1505.1 336.1h0M1378.1 249.2h0M1375.2 216.4h0M1377.5 255.2h0M1798.5 192.3h0M1595.6 230h0M1448.4 272.6h0M1390.9 255.7h0M1393.1 223.7h0M1389.2 191.4h0M1377.3 276.4h0M1397 196.1h0M1376.2 219.2h0M1392.4 301.7h0M1391.5 177h0M1377.6 140.8h0M1447.8 369.4h0M1467 205h0M1608.2 159.6h0M1375.5 275.3h0M1464.8 266.7h0M1508.3 126.4h0M1397.2 232h0M1522.3 180.9h0M1447.4 321.6h0M1376.4 227.9h0M1389.9 254.2h0M1444.8 175.3h0M1376.2 224.9h0M1462.1 360.4h0M1401.5 317.7h0M1395.8 224.5h0M1601.7 379.1h0M1595.6 376.4h0M1420.9 160.2h0M1379.7 221h0M1417.8 290.8h0M1374.5 186.8h0M1467.5 320h0M1388.8 185.7h0M1391.6 318.9h0M1390.6 277.3h0M1379.5 229.8h0M1377.3 267h0M1452.8 253h0M1377.9 250.8h0M1646.7 495.1h0M1376.6 194.7h0M1626.9 314.1h0M1452.4 237.6h0M1442.4 206.5h0M1389.3 310.1h0M1396.1 129.2h0M1467.8 269.3h0M1641.9 332.4h0M1448.5 372h0M1506.7 354.1h0M1377.4 194.3h0M1442.3 241.7h0M1401.9 278.7h0M1502.4 265.1h0M1397.7 290.2h0M1608.2 337.4h0M1472.2 243.4h0M1389.8 296h0M1440.9 372.4h0M1401.5 241.3h0M1469.7 306.1h0M1631.7 302.7h0M1445.1 199.1h0M1441.2 217.5h0M1415.6 217h0M1515.7 375.4h0M1608.2 233.9h0M1761.5 436.2h0M1438.9 235.3h0M1601.7 478.3h0M1376.6 223.2h0M1525.5 256h0M1519.7 269.4h0M1521.6 246.2h0M1460.5 344.4h0M1507.3 250.8h0M1393.1 212.8h0M1626.9 429.8h0M1470.3 259.7h0M1540.6 321.1h0M1393.2 353.8h0M1378.3 171.2h0M1565.6 280.2h0M1459.3 183.4h0M1375.4 143.4h0M1375.7 282.7h0M1448.7 207.1h0M1526.4 209h0M1392.9 163.9h0M1379.7 163h0M1453.1 140.1h0M1518.9 310.2h0M1422.2 202h0M1378 148.9h0M1590 285.6h0M1444.2 255.4h0M1590 371.1h0M1376.8 249.6h0M1448.7 372.8h0M1452.4 315.4h0M1519.6 320.8h0M1465.1 335.5h0M1392.1 256.6h0M1393.9 298.9h0M1462 305.2h0M1467.3 367.4h0M1545.9 284h0M1419.5 210.7h0M1376.2 99.7h0M1389.1 267.8h0M1526.3 331h0M1543.1 201.8h0M1469.3 358.4h0M1399.9 240.5h0M1583.5 208.1h0M1446.9 257.8h0M1398.5 252.9h0M1389.4 270.5h0M1422.7 261.9h0M1379.4 148.3h0M1396.8 163h0M1468 345.1h0M1448.8 372.5h0M1641.9 377.9h0M1377.9 100.9h0M1501.9 327.9h0M1769 544h0M1393.1 288.9h0M1396.1 167.2h0M1399.7 352.5h0M1784.7 502.7h0M1401 306.6h0M1595.6 307.5h0M1531.7 314.2h0M1463.4 294.6h0M1377.8 281.7h0M1601.7 346.6h0M1376.4 240.3h0M1510.1 278.9h0M1461.3 118.4h0M1397.2 171.1h0M1565.6 149h0M1458.7 267.9h0M1637 297.3h0M1439.3 272.8h0M1595.6 198.2h0M1440.2 358h0M1398.5 207.4h0M1528 439.6h0M1374.8 299.5h0M1608.2 384.5h0M1444.8 143.1h0M1521.4 297h0M1503.8 360.5h0M1375.8 210h0M1401.8 287.5h0M1528.4 346.3h0M1522.2 224.8h0M1525.8 367.6h0M1377.8 222.1h0M1399.5 275.1h0M1396.2 239.8h0M1401 265.6h0M1378.8 240.2h0M1455.9 309.1h0M1377.3 201.4h0M1529.9 259.9h0M1461.4 251.7h0M1525.4 228h0M1522.3 421.7h0M1761.5 319.5h0M1443.8 404.7h0M1552 322.2h0M1394.2 278.1h0M1465.2 254.7h0M1375.8 134.8h0M1462.8 349.9h0M1376.9 99.6h0M1538.4 338.8h0M1379.1 141.5h0M1374.5 268.6h0M1451.3 261.3h0M1402.4 148.7h0M1520.4 145.4h0M1500.6 287.9h0M1595.6 395h0M1399 254.5h0M1761.5 390.1h0M1556.8 291.3h0M1456.9 230.9h0M1399.4 226.1h0M1443.6 331.9h0M1391.3 174h0M1375 178.5h0M1391.1 325h0M1502.7 245.2h0M1375.6 259.9h0M1776 302.8h0M1560.8 241.8h0M1396.5 304.2h0M1637 487.9h0M1375.6 134.1h0M1376.6 229.3h0M1471.4 229.4h0M1513.7 336.7h0M1401.4 277.9h0M1439.5 220.6h0M1641.9 375.6h0M1374.5 168.4h0M1456 322.5h0M1641.9 190.1h0M1509.6 258.1h0M1631.7 372.2h0M1552 320.8h0M1398.9 239.7h0M1601.7 344.1h0M1469.9 234.2h0M1396.1 66h0M1460.1 120.2h0M1398.2 279.7h0M1376.3 184.9h0M1451.8 169.5h0M1646.7 400h0M1398.1 308h0M1397.3 163.7h0M1392.9 333.9h0M1459.2 267.4h0M1390.6 271.7h0M1452.6 207h0M1375.7 149.2h0M1417.4 184h0M1400.4 325.4h0M1419.8 294.4h0M1377 172.9h0M1637 285.1h0M1458.1 182.6h0M1462.5 253.7h0M1467.6 275.5h0M1526.4 312.8h0M1377.7 254.3h0M1398.4 198.5h0M1446.5 170.8h0M1514.9 248.6h0M1395.4 304.8h0M1446.2 436h0M1646.7 257.8h0M1450.6 126.8h0M1641.9 366.7h0M1590 345.1h0M1378.1 141.8h0M1450.1 331.3h0M1519.5 181.6h0M1400.7 272.5h0M1500.4 311.8h0M1511 395.1h0M1396.3 248.8h0M1456.4 358h0M1464.5 205.4h0M1464.5 290.9h0M1402.4 303.1h0M1556.8 232.7h0M1448.3 300.3h0M1453.6 350h0M1397.6 222.1h0M1375.3 195.6h0M1646.7 288h0M1395.4 131.1h0M1471.7 238.1h0M1459.6 260.5h0M1462.9 240h0M1601.7 411.2h0M1402.5 225.9h0M1523.7 353.1h0M1556.8 326.7h0M1398.7 189.9h0M1458.1 213.9h0M1595.6 397.2h0M1601.7 403.7h0M1418.6 293.5h0M1448.7 197.4h0M1456.4 257.4h0M1391.6 182h0M1378.3 271.7h0M1378.8 263.5h0M1467 253h0M1776 272.8h0M1439 233.4h0M1446.1 259.1h0M1460.1 258.3h0M1457.8 314h0M1798.5 529.3h0M1601.7 431h0M1392.6 267.4h0M1456.4 266.3h0M1389.1 163.5h0M1401.7 267h0M1472.4 173h0M1377.6 216.4h0M1419.2 258.8h0M1626.9 471.5h0M1465.6 224.7h0M1378.2 241h0M1468.9 349h0M1453.9 182.4h0M1583.5 366.9h0M1390.9 196.1h0M1452.6 346.7h0M1798.5 302.3h0M1379.5 286.3h0M1393.4 251.8h0M1402.5 295.9h0M1505.5 332h0M1460.1 221.8h0M1505.6 456.7h0M1626.9 298.8h0M1446.7 384h0M1388.9 226.7h0M1419.8 324h0M1526.6 468.7h0M1400.5 287.2h0M1458.1 259.7h0M1394.5 219.2h0M1601.7 133.5h0M1402.7 225.5h0M1391.9 206.9h0M1457.8 286.2h0M1395 307.4h0M1456.3 114.7h0M1375.3 211.7h0M1392.2 145.7h0M1519.8 375.9h0M1646.7 339.2h0M1379.1 275.4h0M1378.3 233.3h0M1447.6 212.8h0M1458.9 353.1h0M1454.6 235.5h0M1392 251h0M1464.2 300.9h0M1420.9 182.9h0M1528.8 203.4h0M1375.6 158.3h0M1784.7 150h0M1379.5 190.2h0M1375.4 199.3h0M1447.5 300.5h0M1465.8 179.4h0M1374.6 130.2h0M1510.1 378.4h0M1641.9 373.8h0M1419.4 297.2h0M1399.5 299.5h0M1374.8 168.9h0M1466.3 218.4h0M1376.7 202.5h0M1391.1 183.1h0M1511.6 300.5h0M1463.1 321.7h0M1471.1 250.7h0M1590 450.8h0M1445 369.7h0M1378.2 234.5h0M1399.3 261.2h0M1452.4 314.2h0M1467.1 261.6h0M1402.3 213.2h0M1395.7 243.5h0M1376.3 256h0M1389.3 177.8h0M1441.4 300.2h0M1631.7 439.6h0M1509.6 235.1h0M1397 264.8h0M1399.3 161.3h0M1393.9 127.6h0M1511.8 361.3h0M1468.4 209.7h0M1503 285.5h0M1378.3 303.2h0M1396.4 207.6h0M1470 203.7h0M1769 358.2h0M1626.9 384.4h0M1460.8 337.2h0M1769 124h0M1526.3 228h0M1471.1 253.5h0M1419.6 324.9h0M1443.8 315.1h0M1395.3 264.8h0M1529 338.4h0M1443.7 343.9h0M1420.6 207h0M1378.6 209.1h0M1452.9 221.6h0M1465.9 371h0M1374.9 225.2h0M1535.4 279.7h0M1470.7 253.6h0M1552 250.9h0M1460.1 336.1h0M1375.1 190h0M1454.2 152.9h0M1454 243.4h0M1510 320.7h0M1631.7 451.5h0M1417.3 318.6h0M1451.2 244.1h0M1396.4 229.3h0M1776 360.2h0M1516.6 351.4h0M1451 144.3h0M1394.1 279.5h0M1378.1 177.9h0M1378.3 243h0M1631.7 486.9h0M1374.8 87h0M1626.9 418.2h0M1517.5 303.3h0M1377.9 195.8h0M1546.9 349h0M1456.4 286.3h0M1400.7 199.7h0M1419 210.9h0M1378 223.5h0M1392.7 254.5h0M1458.4 357h0M1378.1 255.2h0M1523.8 279.6h0M1798.5 199.3h0M1798.5 427.5h0M1590 391.1h0M1449.6 306.5h0M1399.4 296.3h0M1459.5 290.4h0M1784.7 347.8h0M1526.2 300.3h0M1590 206.4h0M1471.2 314.9h0M1420.3 232.3h0M1504.6 270.8h0M1455.2 154.9h0M1524.3 417.4h0M1470.9 203.4h0M1389 185.4h0M1516.2 277.5h0M1375.8 219.2h0M1532.4 391.2h0M1463 185.1h0M1510.1 276.8h0M1637 409h0M1463 159.8h0M1391.9 213.5h0M1419.7 316.3h0M1504.6 363.9h0M1798.5 318.2h0M1467.3 199.9h0M1379.1 235.4h0M1518.1 376.6h0M1395.6 251h0M1546.9 159.7h0M1379.3 184.5h0M1595.6 321.9h0M1467.1 270.6h0M1398.6 183.4h0M1456.6 323h0M1525 303.3h0M1595.6 224.1h0M1399.1 264h0M1392.8 323.5h0M1452 180.2h0M1467.9 201.6h0M1419.5 351h0M1462.7 241.7h0M1556.8 367.3h0M1399.8 120.4h0M1528.4 324.7h0M1443.4 369.3h0M1375 211.5h0M1504.4 377.2h0M1402.5 285.7h0M1397.7 217.3h0M1761.5 384.2h0M1378.4 228.8h0M1530.7 494.6h0M1390.5 125.9h0M1528.2 221.6h0M1595.6 247.7h0M1398.5 185.4h0M1396.3 231h0M1390.6 183.4h0M1395.3 194.8h0M1512.3 336.6h0M1518.4 177.9h0M1523.6 351.2h0M1375.3 268.5h0M1377.3 298.8h0M1464.3 240.5h0M1445.1 225.1h0M1526 246.2h0M1395 291.7h0M1376.4 136.5h0M1769 193h0M1516.9 372.5h0M1463 291.7h0M1376 232.1h0M1374.8 272.9h0M1378.8 224.3h0M1455.6 347.5h0M1392.4 264.4h0M1502.6 191.3h0M1583.5 429h0M1402.6 263.9h0M1441.1 179.6h0M1395.8 151.2h0M1784.7 411h0M1528.8 289.6h0M1377.6 248.9h0M1590 412.6h0M1583.5 384.9h0M1637 380.7h0M1377.3 267.1h0M1391.6 258.6h0M1637 326.2h0M1527.4 379.3h0M1401.3 272.4h0M1556.8 231.7h0M1379.3 139.4h0M1523.2 218.4h0M1460.2 324.1h0M1761.5 297.6h0M1439.5 221.6h0M1446.7 299h0M1445.3 243h0M1397.3 125.3h0M1513 314.9h0M1375.1 207.9h0M1419.4 278.9h0M1396.5 147.7h0M1601.7 502.4h0M1442.2 332.8h0M1379.5 285.2h0M1379.7 142h0M1590 145.5h0M1376.8 277.6h0M1504.6 223.3h0M1517.8 246.3h0M1464.4 122.3h0M1440.1 319.4h0M1443.7 296.1h0M1376.2 154.6h0M1397.5 228.1h0M1442.9 256.6h0M1396.5 202.8h0M1446.3 307.3h0M1507.6 358.7h0M1453.2 272.8h0M1465.8 145.8h0M1374.4 262.9h0M1453.6 231.1h0M1376.3 268.8h0M1464.4 349h0M1590 225.1h0M1595.6 268.4h0M1394.9 252.5h0M1399.5 182.8h0M1531.5 253.6h0M1375.6 125.6h0M1438.9 367.8h0M1646.7 439.5h0M1458.9 352.9h0M1375.6 218.7h0M1397 273h0M1464.5 352.1h0M1398 219.4h0M1784.7 359.1h0M1442.1 250.9h0M1444.5 235h0M1504.7 297h0M1459.1 271.8h0M1595.6 459.6h0M1626.9 318h0M1379.5 241.5h0M1400.2 249.7h0M1446.3 344.2h0M1520.8 365h0M1509.8 343.2h0M1418.4 227.7h0M1520.1 377.9h0M1416.8 255.7h0M1400 177.9h0M1776 298.1h0M1378.9 215.1h0M1462.7 235.8h0M1626.9 479.9h0M1601.7 287h0M1446 340.7h0M1520.3 360.2h0M1447.6 114.9h0M1583.5 159h0M1448.6 197.3h0M1641.9 317.1h0M1509.4 309h0M1769 381h0M1448.9 374.2h0M1466.9 374.1h0M1769 332.6h0M1519.6 294.5h0M1400.8 275h0M1394.5 225.2h0M1456.8 127.3h0M1390.6 309.9h0M1501.9 154.2h0M1396.5 231.4h0M1392.6 281.4h0M1401.7 263.7h0M1399.1 190.4h0M1394.6 346.5h0M1608.2 226.5h0M1448.2 226.8h0M1378.2 148.4h0M1646.7 429h0M1515.5 195.9h0M1379.3 168.8h0M1448.4 281.7h0M1377.9 195.9h0M1449.4 345.8h0M1641.9 358.8h0M1400.4 209.3h0M1452.9 258.1h0M1631.7 396.9h0M1608.2 200.7h0M1601.7 185.9h0M1374.9 221.7h0M1379.3 165.7h0M1445.7 279.3h0M1456 332.3h0M1641.9 281.1h0M1376.7 266.3h0M1399.1 274.1h0M1456.7 302h0M1455.6 353.2h0M1376.2 219.4h0M1439.6 395.6h0M1761.5 542.5h0M1398.7 228.2h0M1377.1 219.3h0M1377.4 218.2h0M1375.9 218.8h0M1523.3 259.8h0M1394.2 173.1h0M1392.4 226.7h0M1523.7 343.6h0M1776 531.5h0M1444.5 210.3h0M1379.4 159.7h0M1502.6 157.2h0M1401 201.5h0M1390.4 329.7h0M1595.6 485.6h0M1393.5 202.8h0M1537.4 206.8h0M1556.8 208.8h0M1399.7 153.3h0M1595.6 299.5h0M1389.2 218.1h0M1472.3 344h0M1646.7 441.2h0M1390.2 159.1h0M1441.3 351.7h0M1402.1 261.8h0M1378.2 218h0M1378.1 292.2h0M1377.3 185h0M1395 312.2h0M1583.5 175.2h0M1784.7 452.4h0M1453.1 119h0M1402.2 164.2h0M1798.5 432.7h0M1784.7 509.1h0M1470.3 291.1h0M1453.1 265.4h0M1506.8 240.1h0M1637 276.1h0M1468.5 323.8h0M1392 239.8h0M1470.2 269.8h0M1761.5 263.8h0M1453.7 322.2h0M1527.9 309.8h0M1463.8 216.5h0M1631.7 258.4h0M1451.1 240.8h0M1444.4 353h0M1637 213.8h0M1393.4 313.5h0M1470.4 289.9h0M1452.5 339.9h0M1393.9 343.6h0M1544.5 334.7h0M1459.2 225.1h0M1398.5 227.9h0M1646.7 234.5h0M1508.2 195.3h0M1376.4 162.1h0M1454.2 195.3h0M1376.5 149.7h0" stroke="#e0340a" stroke-opacity="0.64" stroke-width="4.3" stroke-linecap="round" fill="none"/>
<path d="M1369.6 241.4h0M1495.7 251h0M1432.7 281.8h0M1364.8 277.6h0M1288.9 253.8h0M1331.8 232.3h0M1350 255.3h0M1290.9 186.8h0M1364.2 294.8h0M1368.2 251.1h0M1340.3 164.5h0M1325.7 180.8h0M1313.8 199.7h0M1385.3 118.9h0M1340.1 265.7h0M1494.6 235.6h0M1301.5 211h0M1289.5 210.6h0M1386.2 345.4h0M1495.6 307.6h0M1327.6 184.7h0M1326.2 248.8h0M1313.1 205.2h0M1495.2 368.3h0M1430.2 224.3h0M1289.3 227.8h0M1365.5 244.2h0M1290.8 191.4h0M1330.2 231.2h0M1386.1 191.2h0M1365.4 208.4h0M1370.1 173.4h0M1300.8 202.6h0M1370.4 363.2h0M1289.7 235.4h0M1384.4 240.7h0M1330.2 189.4h0M1340.2 180.8h0M1332 255h0M1366.7 310.6h0M1387.6 261.3h0M1303.7 161.1h0M1288.8 221h0M1369.7 189.4h0M1333.3 261.7h0M1313.8 189.5h0M1333.1 267.2h0M1366 293.1h0M1330.2 246.7h0M1330.5 169.6h0M1296.6 159.8h0M1288.2 245.4h0M1301.3 211.1h0M1289 150.5h0M1289.9 247.7h0M1333 205.6h0M1330.9 257.7h0M1302.1 236.6h0M1291 211.7h0M1329.8 277.1h0M1365.8 245.1h0M1296.1 157.3h0M1410.2 232.6h0M1334.4 188.9h0M1367.3 293.9h0M1340.4 174.7h0M1342.3 254.3h0M1333.8 181.4h0M1365 185.7h0M1288 208h0M1428.7 295.1h0M1350.3 224.2h0M1350.3 206.5h0M1303.6 251.6h0M1387.2 240.7h0M1339 190.7h0M1428 222.7h0M1368.6 242.4h0M1367.8 238.7h0M1359 270.3h0M1388.5 314.3h0M1365.5 244.9h0M1384.2 116.8h0M1368 221h0M1296.4 166.7h0M1287.5 197.6h0M1330.4 213.7h0M1407.2 281h0M1331.5 226.8h0M1359 205.3h0M1408.5 115.3h0M1295.7 190.9h0M1331.5 214.2h0M1302.2 237.8h0M1332.7 209.5h0M1329.9 239.4h0M1497 424.4h0M1329 195.7h0M1341.4 200.9h0M1335.1 217.5h0M1364.5 178.8h0M1368.9 310.7h0M1368.7 288h0M1301.5 259.5h0M1327.1 160h0M1295.6 230.1h0M1496.9 389.6h0M1301.8 222.8h0M1430.5 175h0M1313.8 240.5h0M1295.7 213.7h0M1333.8 278.9h0M1342.3 285.8h0M1287.6 239.1h0M1289.5 270.4h0M1364.4 216.3h0M1326.7 237.3h0M1340.5 175.4h0M1328.4 244.2h0M1429.8 352.5h0M1302.1 196.4h0M1496 245.7h0M1328.9 185.6h0M1350.3 212.3h0M1497.5 220.3h0M1387.3 312.9h0M1428.2 209.2h0M1497.5 305.6h0M1296.5 168.2h0M1325.9 216.4h0M1358.4 239.8h0M1430 285.2h0M1359.2 212.8h0M1370.2 192.2h0M1385.1 339.6h0M1313.5 236.8h0M1332.9 243.2h0M1386.5 193.6h0M1350.1 219.3h0M1290.7 213.9h0M1367.1 289.4h0M1330.7 220.7h0M1367.7 269.4h0M1366.9 256.6h0M1334.3 229h0M1303.3 163h0M1349.1 226.9h0M1288.4 191.4h0M1287.6 258.8h0M1301.1 178.6h0M1386.9 146.8h0M1496.7 368.3h0M1304 191.1h0M1366.1 386.9h0M1288.3 229.8h0M1364.6 212h0M1289.3 177.9h0M1496.8 339.7h0M1493.5 213.5h0M1313.8 232.7h0M1365.9 182.9h0M1313.1 202.1h0M1328.5 222.9h0M1303.9 256.5h0M1369 207.9h0M1358.6 185.8h0M1290.8 200.4h0M1288.2 181.5h0M1384.9 207.1h0M1303.9 243.4h0M1287.6 265.3h0M1289.3 229.5h0M1338.7 216.9h0M1494.8 259.1h0M1329.7 209.1h0M1313.7 209.5h0M1409.4 193.4h0M1290.5 226.5h0M1350 238.1h0M1336.9 151.3h0M1349.1 172.2h0M1330 183.3h0M1431.7 128.5h0M1493.7 180.5h0M1408.3 341h0M1358.9 225.6h0M1301.7 235.1h0M1303.2 215.7h0M1335 188.6h0M1337.9 236.8h0M1326.5 183h0M1491.8 340.2h0M1429.7 380h0M1332.3 245.5h0M1365.3 249.4h0M1287.4 232.3h0M1365.1 281.9h0M1431.5 258.9h0M1409.3 189.4h0M1494.4 324.2h0M1337.2 203.9h0M1330.9 174.6h0M1342.6 268.5h0M1329.9 247.7h0M1408.9 144.4h0M1364.3 181.3h0M1313.6 184.7h0M1336.3 267.8h0M1288.8 229.4h0M1431.2 326.6h0M1388 296.6h0M1409.5 170h0M1289 173.6h0M1367.3 214h0M1367.1 227.5h0M1327.6 252.9h0M1328.5 244h0M1291 195.8h0M1300.7 170.5h0M1387.2 180h0M1313.7 204.5h0M1495.3 228.5h0M1325.9 267.2h0M1410.1 183.8h0M1358.8 260.9h0M1364.3 274.3h0M1313.1 257.4h0M1325.7 176.1h0M1497.3 397.3h0M1302.4 172h0M1366.7 295.4h0M1349.9 223.1h0M1350 207.3h0M1330.1 243.3h0M1366.4 179.1h0M1313.8 277.5h0M1428.3 178.5h0M1369.8 349h0M1289 205.2h0M1289.9 208.1h0M1496.2 320.1h0M1368.2 299h0M1349.2 216.8h0M1428.8 139.4h0M1330.5 248.2h0M1331.9 227.8h0M1365.8 283.2h0M1366.4 293.4h0M1301.5 188.2h0M1287.7 206.8h0M1407.5 241h0M1428.4 275.6h0M1325.7 152.4h0M1369.4 217.3h0M1325.9 286.6h0M1492.1 329.7h0M1288.3 226.6h0M1349.7 170.2h0M1406.5 204.1h0M1358.5 240.7h0M1493.7 147.5h0M1290.3 205.6h0M1313.6 223.9h0M1370.4 200.7h0M1342.5 266.2h0M1365.9 297.1h0M1427.9 295.3h0M1330.8 133.9h0M1290.4 255.4h0M1338.2 242.5h0M1337.9 183.8h0M1290.7 219.7h0M1358.6 200.3h0M1296.5 253.1h0M1302.2 207.3h0M1369.9 291.2h0M1496.5 187.6h0M1408.7 203.9h0M1429.2 346.2h0M1289 201.3h0M1350.1 190h0M1370.2 291.7h0M1338.6 272.3h0M1430.1 348.6h0M1369.3 185.1h0M1329.8 186h0M1313.3 193.3h0M1494.8 176h0M1407.8 351.5h0M1312.8 223.8h0M1331.7 209.8h0M1364.1 289.3h0M1288.4 176.2h0M1290 208.8h0M1366.3 187h0M1407.8 107h0M1289.2 177.7h0M1326.3 229.3h0M1365.2 400h0M1295.7 184.4h0M1429.7 178h0M1327.8 210.6h0M1427.8 360.9h0M1368.4 220.4h0M1493.2 151.8h0M1288.3 228.8h0M1328.4 246.5h0M1407.9 342.8h0M1432.8 131.2h0M1385.2 161.4h0M1366.4 196.2h0M1337.8 230.8h0M1428.9 289.5h0M1313.5 226.7h0M1388.5 213.7h0M1430.1 307.5h0M1367 296.1h0M1349.9 169h0M1336.3 200.4h0M1327.5 243h0M1338.7 296.9h0M1428.1 346h0M1312.9 209h0M1386.3 173.7h0M1349.1 200.5h0M1334 190h0M1495.5 248.3h0M1370.4 221.3h0M1336.2 194.4h0M1408.9 281.9h0M1368.3 201.8h0M1290.6 247.8h0M1304 163.8h0M1368 282.3h0M1328.5 270h0M1301.8 228.1h0M1291 178.6h0M1370 259.1h0M1341 233.1h0M1295.9 167.9h0M1313.7 231.8h0M1330 216.1h0M1369.2 190.5h0M1429 230.3h0M1366.7 225.3h0M1337.9 202.4h0M1313.5 242.7h0M1430.8 190.5h0M1337.4 233.6h0M1364.9 237.8h0M1369.2 241h0M1325.8 183.4h0M1430.7 194h0M1432.7 220.1h0M1287.2 223.4h0M1408 271h0M1331.6 199.9h0M1497.6 175.1h0M1407.9 270.7h0M1342.8 195.8h0M1289.9 171.6h0M1333.1 225.1h0M1431 131.7h0M1492.6 308.8h0M1326 224.5h0M1301.9 172.7h0M1335.3 255.3h0M1349.3 164h0M1301.3 259.2h0M1313.6 201.6h0M1432.1 312.2h0M1370.4 256.5h0M1369 310h0M1313.9 246.4h0M1326.4 243.6h0M1358.1 212h0M1364.9 285.6h0M1406.6 213.4h0M1495.4 419.6h0M1384.2 323.6h0M1407.9 278.2h0M1303 282.4h0M1333.5 238.6h0M1333.9 247.4h0M1301.9 199.2h0M1365.4 237.7h0M1302.1 195.4h0M1430.4 319.4h0M1492.8 216.9h0M1368.8 211.9h0M1290.9 227.9h0M1329.3 221.2h0M1369.4 284.3h0M1296.7 240.4h0M1342.5 262h0M1336.3 175.9h0M1497.2 367.9h0M1495.6 284.2h0M1287.7 180.7h0M1349.1 237.8h0M1287.2 199.9h0M1327.9 145.3h0M1336.1 233h0M1329 204.5h0M1290.2 194.8h0M1369.6 200.9h0M1337.2 309.3h0M1386.6 277.8h0M1491.8 331.8h0M1342.8 194.3h0M1337.7 222.5h0M1337.9 241.7h0M1385.7 188.5h0M1386.7 125.1h0M1496.9 359h0M1303.8 173.5h0M1332.5 234.7h0M1369.1 245.2h0M1288.2 217.7h0M1289.1 266h0M1338.2 194h0M1296.6 244.6h0M1288 238.4h0M1333.8 172.6h0M1331.4 198.4h0M1335.8 236.3h0M1409.5 152.5h0M1331.6 283.1h0M1365 222.3h0M1337.2 180.1h0M1290.9 165.8h0M1494.1 287.8h0M1312.9 235.6h0M1338 241.3h0M1336.9 183h0M1287.5 213.9h0M1495 307h0M1313.6 203.2h0M1301.2 226.2h0M1349.6 161.1h0M1387.3 175.2h0M1367.1 222.3h0M1296.2 222.2h0M1387.2 168h0M1342.1 278.9h0M1429.5 171.1h0M1326 213h0M1364.4 239.8h0M1408.8 320.4h0M1370.2 298.9h0M1303.6 235.7h0M1313.8 196.3h0M1365 257.5h0M1333.6 173.6h0M1386.3 139.9h0M1302.4 136.5h0M1364.4 295h0M1495.4 257.6h0M1288.2 194.8h0M1359 189.5h0M1329.3 192.7h0M1287.8 169.8h0M1302.2 266.9h0M1326 266h0M1296.8 194.2h0M1296 178.2h0M1288.7 195.7h0M1429 232.7h0M1350 212.1h0M1358.2 182.6h0M1370.3 245h0M1369.5 229.5h0M1296.6 219.2h0M1358.8 230.9h0M1301 227.4h0M1366.9 183.4h0M1367.3 246.9h0M1349.6 156.4h0M1302.7 215.3h0M1492.3 252.6h0M1303.6 210.8h0M1494.9 352h0M1336 151.9h0M1337.4 251.3h0M1408.2 212.7h0M1494 343.8h0M1291 237h0M1328.4 267.5h0M1331 205h0M1369.4 279.2h0M1325.7 190.5h0M1349.7 197.9h0M1495.4 275.1h0M1368.8 227.8h0M1494.3 269.9h0M1432.3 180h0M1431.5 206h0M1367.1 237.3h0M1287.3 253.5h0M1332.3 194.2h0M1326.8 217.7h0M1295.8 164.2h0M1387.4 194.5h0M1303.2 246h0M1430.6 476h0M1386.3 253.3h0M1296.1 218.5h0M1358.6 232.1h0M1313.4 237.6h0M1300.8 160.1h0M1327.8 235.8h0M1358.8 275.1h0M1289.7 184.2h0M1338.7 271.9h0M1367.7 176h0M1341.9 176.5h0M1288.2 216.4h0M1387.1 225.2h0M1368.1 264.7h0M1365.2 353.8h0M1369.1 407h0M1337.3 296.7h0M1339.7 255.2h0M1289.7 234h0M1289.3 206.2h0M1296.2 157.7h0M1302 226.1h0M1492.9 472h0M1495.2 391.4h0M1341.6 166.5h0M1366.6 235.5h0M1369.2 265.5h0M1290.1 189.6h0M1408.9 307.9h0M1332.1 185.8h0M1332 260.1h0M1358.1 183.7h0M1337.6 287.8h0M1332.9 203.4h0M1410.3 269.1h0M1338.9 212.6h0M1313.8 187.3h0M1349.4 245.5h0M1303.5 232.5h0M1368.1 199.4h0M1367.5 265.1h0M1367.6 167.1h0M1289.5 165.5h0M1300.9 218.5h0M1313.9 239h0M1331.8 310h0M1335.5 226.9h0M1328.6 219.7h0M1327.6 167.1h0M1331.6 162.5h0M1387.4 267.6h0M1495.9 282.7h0M1330.1 180h0M1295.8 182.1h0M1303.1 169.1h0M1333.1 247.3h0M1333.2 226.3h0M1358.7 221.2h0M1304.1 163.1h0M1409.7 272.4h0M1494.6 318.4h0M1329.6 185h0M1335.8 218.6h0M1431.6 274.9h0M1288.6 185.2h0M1430.3 207h0M1386.3 191.9h0M1331.4 187.1h0M1369.8 162.4h0M1349.7 190h0M1408.6 207.6h0M1337.5 204.5h0M1329.4 153.5h0M1333.8 209.8h0M1327 157h0M1492.9 234.6h0M1328.7 260h0M1288.6 173.4h0M1337.3 195.3h0M1302.3 190.7h0M1301.4 167.7h0M1408.2 300h0M1290.9 177.4h0M1341.8 176.3h0M1368.8 232.4h0M1491.9 417.2h0M1296.6 207h0M1366.2 207.2h0M1431 213h0M1290.6 216.4h0M1409.3 199.9h0M1495.9 282.7h0M1366.8 195.1h0M1497 369.6h0M1365.3 216.4h0M1429.2 278h0M1407.7 290.1h0M1288.9 196.5h0M1431.6 218.2h0M1386.5 265.2h0M1337.8 188.8h0M1295.9 187.2h0M1494.6 214.7h0M1341.6 209.7h0M1290 200.4h0M1427.7 216.6h0M1349.7 164.9h0M1496.5 247.2h0M1359 263h0M1427.7 187.1h0M1301.3 197.5h0M1386.5 242.8h0M1350.2 240h0M1288.1 248.2h0M1332 207.7h0M1388.2 169.2h0M1369.4 136.7h0M1409.7 183h0M1358.2 202.3h0M1289.4 217.1h0M1493.2 164.6h0M1296.4 165.1h0M1329.7 197.1h0M1336.6 147.4h0M1491.9 324.2h0M1289 175.2h0M1350.2 203.5h0M1369.5 279.6h0M1385.8 159.4h0M1358.8 183h0M1338.6 214.9h0M1328.9 191h0M1287.6 246h0M1329.4 247h0M1336.9 278.4h0M1296.5 256.3h0M1326.4 167.8h0M1302.6 176.8h0M1329 178.6h0M1342.2 247.4h0M1302.9 220.6h0M1430 343.7h0M1496.2 276.5h0M1369.8 197.5h0M1290.1 169.5h0M1331.1 297.2h0M1350.1 169.4h0M1341.7 180h0M1302.2 161h0M1330.2 267.3h0M1349.9 217.8h0M1303.1 196.9h0M1290.8 151.6h0M1386.3 271.7h0M1493.9 253.8h0M1335 225.5h0M1301.9 263.9h0M1496.8 325.9h0M1492.3 323.8h0M1333.4 167.3h0M1338.2 246.1h0M1431.8 149.9h0M1387.1 277.2h0M1388.1 154h0M1303.8 247.9h0M1358 244.9h0M1331.3 172.6h0M1365.7 169.1h0M1349.9 198.6h0M1409.7 308.2h0M1407.3 214h0M1367.1 252h0M1493.5 200.9h0M1313.6 219h0M1350 257.1h0M1328.1 169.4h0M1332.3 233.6h0M1367.8 177.7h0M1428.1 121.6h0M1365.6 289h0M1492.7 292h0M1409.8 252.7h0M1341.7 193.2h0M1296.7 155h0M1493.3 335.1h0M1303.6 240.1h0M1287.6 263.2h0M1386.4 138.4h0M1408.4 211.7h0M1387.6 165.8h0M1492 300.5h0M1387.9 226.5h0M1366.9 299.6h0M1365.7 205.7h0M1290.2 251.3h0M1365.1 269.5h0M1340.5 245.8h0M1332.6 173.3h0M1337.2 139.4h0M1494.3 216.6h0M1330.6 188.8h0M1340.8 204.8h0M1296.3 187.8h0M1302.4 174h0M1407.2 168.6h0M1302.1 217.1h0M1288.1 181.6h0M1289.1 260.6h0M1365.3 153.1h0M1289.9 255.2h0M1428.4 293.2h0M1367.4 280.5h0M1290.4 175.5h0M1492.5 287h0M1359.2 236.9h0M1295.8 154.3h0M1333.2 270.9h0M1406.6 171.8h0M1287.7 240h0M1330.7 147.1h0M1364.5 313.6h0M1358.8 242.4h0M1332.3 198h0M1365.7 271.1h0M1334.3 232.6h0M1493 292.2h0M1295.7 182.4h0M1370.4 276.8h0M1287.8 176.3h0M1288.2 177.2h0M1330.4 289.2h0M1327.3 271.9h0M1334.1 233.6h0M1302.3 170.3h0M1303.4 239.1h0M1350.1 241.9h0M1333.8 157h0M1358.4 210h0M1408.4 201.6h0M1367.1 197h0M1350.1 226.3h0M1370.4 217.8h0M1327.4 219.7h0M1334.5 195.4h0M1386 316h0M1430.5 222.9h0M1386.5 211.7h0M1385.4 148h0M1368.4 215.1h0M1494.9 284.2h0M1287.7 154.2h0M1386.4 320.5h0M1312.9 231.3h0M1432 179.6h0M1303.8 199.4h0M1385.5 185.6h0M1367.9 290.5h0M1289.7 189.6h0M1350.4 225.8h0M1369.7 409.1h0M1303.1 295.3h0M1332.1 173.1h0M1429.7 253.5h0M1313.6 211.5h0M1326.4 234.5h0M1408.6 301.8h0M1301.4 255.5h0M1384.2 234.8h0M1300.6 160.1h0M1341.9 192.1h0M1302.5 194h0M1336.2 176.9h0M1303 179.4h0M1327.4 187.8h0M1339.2 227.1h0M1387.8 277.7h0M1385.9 167.7h0M1330.6 202h0M1491.9 288.5h0M1287.6 168.7h0M1368.9 268.7h0M1496.1 328h0M1325.9 210.1h0M1313.7 196.9h0M1370.4 237.8h0M1350.3 224.1h0M1409.7 151.8h0M1495 386.2h0M1370.1 213h0M1386.1 272h0M1341.9 192.1h0M1366.7 219h0M1350.3 175h0M1365.7 183.1h0M1334 279.9h0M1289.7 169.4h0M1407.9 319.3h0M1349.6 254.3h0M1290.8 195.5h0M1301.6 196.6h0M1300.6 137.4h0M1409.4 254.1h0M1302.3 228.4h0M1368.1 282.4h0M1326.9 215.9h0M1494.8 246.6h0M1408.3 336.4h0M1302.2 161h0M1364.7 206.1h0M1290.8 202.8h0M1300.8 250.7h0M1495.5 421.7h0M1367 198.1h0M1369.3 267.3h0M1302.5 175.5h0M1432 275.2h0M1350 171.3h0M1368.1 270.3h0M1366.9 210.8h0M1337.6 206.1h0M1366.2 140.6h0M1325.6 230.9h0M1342.4 143.3h0M1366.3 283h0M1340.9 190.7h0M1337.5 205.3h0M1364.7 241.6h0M1350.4 161.9h0M1326.3 214.5h0M1341 262.9h0M1364.1 217.2h0M1290.8 157.6h0M1350.1 311.3h0M1329 202.6h0M1358.4 194.3h0M1289.8 206.8h0M1339.1 171.4h0M1385.3 300.5h0M1370 226.7h0M1384.6 244h0M1329.2 160.3h0M1303.7 164.8h0M1341.5 241h0M1334.9 274.4h0M1349.4 209.9h0M1387.6 241.7h0M1338.2 196.7h0M1303 201.1h0M1369.6 229.2h0M1432.2 361.2h0M1342.2 156.8h0M1303.6 242.4h0M1333.9 214.1h0M1342.5 173.2h0M1368.4 202.7h0M1369 182.1h0M1288.9 154.2h0M1296.6 205.8h0M1325.6 194.2h0M1329.7 225.3h0M1494.9 143.6h0M1291.1 239.4h0M1428 184h0M1349.2 220.7h0M1331.6 265.8h0M1409.6 168.8h0M1288.3 206.6h0M1342.5 187.4h0M1287.2 176.4h0M1303.1 159.1h0M1336 256.9h0M1339.1 267.1h0M1410.2 257.5h0M1289.7 200.4h0M1303.1 217.6h0M1387.5 212.5h0M1386.9 293.9h0M1384.7 199.8h0M1287.5 171h0M1387.7 201.9h0M1331.6 211.8h0M1493.1 296.7h0M1331.5 274.8h0M1366.1 348.6h0M1408.4 297h0M1300.9 238.3h0M1296 254.5h0M1384.3 176.3h0M1296.5 155.8h0M1302.5 275.7h0M1432 305.6h0M1334.9 225.9h0M1368.1 273.6h0M1430.8 132.3h0M1388 274h0M1331 253.1h0M1328.2 222.7h0M1358.7 222.8h0M1494 217.4h0M1301.9 196.1h0M1408.9 213.4h0M1340.3 256.7h0M1370 305.5h0M1493.8 310h0M1327.8 233.7h0M1367.1 250.2h0M1296.7 225.3h0M1495.8 164.3h0M1328.6 259h0M1340.8 273.5h0M1290.2 246.3h0M1367.8 286.1h0M1302.2 172.9h0M1369.8 281.5h0M1330.7 219.4h0M1303.4 221.4h0M1313.1 229h0M1386.9 196.1h0M1496.8 294.6h0M1301.9 227.3h0M1366.2 221.4h0M1358 206.7h0M1303.5 248.6h0M1312.9 189.4h0M1349.5 200h0M1338.9 248.1h0M1330 205.5h0M1493.5 222.6h0M1386.1 136.2h0M1327.4 169.7h0M1329.9 263.5h0M1408.9 182.1h0M1289.7 168.2h0M1327.8 260.9h0M1328.7 207.3h0M1301.3 187.1h0M1288.5 198.3h0M1385.3 319.2h0M1341.5 208.6h0M1302.3 242.3h0M1333 207.8h0M1368.4 290.9h0M1366.7 317.3h0M1289.4 163.5h0M1329.2 185.9h0" stroke="#1f6f9b" stroke-opacity="0.62" stroke-width="4.3" stroke-linecap="round" fill="none"/>
<path d="M1761.5 320.5h0M1394.3 275.1h0M1466.9 274.1h0M1769 469.8h0M1379.3 241.7h0M1418.7 162h0M1374.5 197.5h0M1468.9 188h0M1520.7 315.2h0M1399.2 246.2h0M1396.4 186.4h0M1461.4 324.9h0M1446.2 327.8h0M1445.6 352.8h0M1556.8 215.9h0M1375.3 222.6h0M1389.3 174.6h0M1458.8 304.3h0M1583.5 368h0M1395.1 275.9h0M1392.4 263.3h0M1416.4 265.5h0M1375.8 161.9h0M1514.6 413.8h0M1455.9 197h0M1461 338.8h0M1463.3 347.2h0M1399.6 248.6h0M1465.5 350.2h0M1391 251.7h0M1595.6 159.5h0M1376.5 285.3h0M1445.9 241.8h0M1450.1 375.3h0M1394.8 204.2h0M1502 302.9h0M1512.4 273.6h0M1400.4 169.5h0M1508.9 346.2h0M1472.1 242.4h0M1379.6 188.7h0M1375.4 258.2h0M1526.4 269h0M1560.8 292.4h0M1447.5 243.3h0M1529.4 359.9h0M1462.5 184.9h0M1776 508.1h0M1391 228.9h0M1451.6 410.6h0M1458.4 245.8h0M1626.9 361.2h0M1377.4 205.8h0M1415 284.3h0M1457.7 350.6h0M1446.3 248.2h0M1399 166.1h0M1419.3 266.2h0M1378.3 116.6h0M1393.3 315.7h0M1375.2 183.6h0M1376.6 170.6h0M1453.1 241.4h0M1637 196h0M1390.4 304.9h0M1457.9 231h0M1394.2 349h0M1769 407.5h0M1464.6 195.3h0M1400.5 289.3h0M1375.6 247.6h0M1376.9 198.2h0M1445.4 251h0M1446.9 188.6h0M1516.4 392.6h0M1415.6 180.9h0M1646.7 385.2h0M1394 292h0M1400.8 320.6h0M1395.3 272.4h0M1503.7 214.4h0M1389.9 206.8h0M1601.7 288.3h0M1519.9 303h0M1453.5 255.6h0M1390.6 229.1h0M1522.5 307.2h0M1595.6 261.6h0M1400.7 205.8h0M1545.1 279.2h0M1769 374h0M1523.8 138.1h0M1519.8 216.7h0M1776 406.4h0M1560.8 245.7h0M1375.8 214.6h0M1398 257.2h0M1784.7 458.7h0M1443 272.1h0M1394.2 221h0M1379.6 248.6h0M1418.5 168.9h0M1441.2 170.8h0M1448.4 200.1h0M1601.7 319.5h0M1447.5 251.8h0M1450.2 138h0M1505.7 235.6h0M1443 210.2h0M1375.4 162.5h0M1529.2 293.7h0M1398.9 222.6h0M1458.4 323.5h0M1393.3 211.8h0M1379.3 252.4h0M1538.3 353.5h0M1375.6 229.6h0M1472.1 346.1h0M1595.6 264.6h0M1469.6 248h0M1524.6 215.3h0M1463.2 376.2h0M1769 472.1h0M1608.2 336.4h0M1646.7 451.6h0M1798.5 182.6h0M1769 201.1h0M1608.2 341.2h0M1451.3 278.3h0M1451.1 294.7h0M1375.6 167.1h0M1590 298.7h0M1637 507.3h0M1461.5 297.3h0M1522.3 292h0M1461.1 223.4h0M1377.8 248.7h0M1458.9 250.2h0M1454.6 370.6h0M1626.9 237.3h0M1377.7 299.5h0M1516.5 227.3h0M1379.2 136.9h0M1641.9 353.8h0M1440.7 235.5h0M1402 275h0M1442.8 215.9h0M1441.8 205.4h0M1402.5 305.5h0M1392.4 215.7h0M1454.2 339.3h0M1376.7 143.5h0M1397.7 140.7h0M1455.4 227.3h0M1448.7 341.3h0M1448.5 159.2h0M1506.3 306h0M1519.3 461.9h0M1375.5 180.5h0M1784.7 494.5h0M1378.2 171.7h0M1459.3 201.9h0M1608.2 500.3h0M1784.7 367.2h0M1377.9 285.4h0M1375.3 251.4h0M1500.7 206.3h0M1462.9 166.9h0M1397.1 155.1h0M1454.9 241h0M1443.6 146.7h0M1538.9 315.3h0M1400 297.8h0M1445.8 279.3h0M1394.4 217.8h0M1504.9 327.7h0M1761.5 510.4h0M1440.3 238.8h0M1601.7 257.5h0M1590 375h0M1393.8 324.2h0M1401.4 274.5h0M1376.4 251.7h0M1399.2 180.3h0M1445.3 328.4h0M1641.9 267.5h0M1532.2 294.9h0M1388.9 329.7h0M1389.1 280.7h0M1393.2 252h0M1776 320.4h0M1378.6 219.6h0M1456.2 133.6h0M1637 375.6h0M1470.3 215.6h0M1463.7 183.3h0M1471.9 189.4h0M1419 254.3h0M1445.9 170.2h0M1471.1 284.1h0M1395.9 187.5h0M1445.6 184.1h0M1515.8 411.2h0M1376 267.7h0M1459.2 248.3h0M1421.8 259.8h0M1393.7 198.1h0M1397.2 183.4h0M1376.9 255.6h0M1462.4 350.6h0M1451.7 370.8h0M1399.6 157.9h0M1552 299.1h0M1590 499.7h0M1453.1 275.9h0M1459.3 305.3h0M1375.4 212.5h0M1467.2 376.1h0M1390.7 191.6h0M1391.3 347.4h0M1378.3 138.3h0M1505.9 319h0M1504.6 213.3h0M1529.2 336h0M1590 319.2h0M1539.3 271.6h0M1393.3 248.1h0M1470.9 377.5h0M1399.4 201.7h0M1439.6 239.5h0M1515 119.4h0M1530.2 400.6h0M1503 289.9h0M1397.9 141.9h0M1452 249h0M1458.7 146.7h0M1446.4 193.6h0M1540.4 257.9h0M1417.8 236h0M1468.7 265.4h0M1769 377h0M1465.1 181.2h0M1389.6 196.1h0M1415.2 228h0M1391.1 319.7h0M1556.8 340.1h0M1397.2 249h0M1471.9 132.8h0M1539.9 387.6h0M1452 332.7h0M1449.2 285.4h0M1776 547h0M1459.6 296h0M1590 488.1h0M1448.4 249.8h0M1459.5 253.1h0M1390.4 139.6h0M1452.7 201.2h0M1470.6 202.2h0M1469.4 233.3h0M1376.3 138.9h0M1769 433.1h0M1468.4 288h0M1450 209.4h0M1402.1 311.9h0M1398 229.3h0M1454.7 279.4h0M1631.7 451.8h0M1378.1 132.8h0M1392 305.2h0M1401.8 269.1h0M1447.1 314.1h0M1537.6 294.4h0M1458.7 228.8h0M1452.8 191.9h0M1446.3 278h0M1397.1 205.7h0M1396.1 187.7h0M1415.2 278.8h0M1530.3 201.6h0M1376.5 220.6h0M1538.2 380.9h0M1395 171.1h0M1399.6 166.7h0M1376.9 302.6h0M1376.2 201h0M1461.2 234.1h0M1546.9 448.3h0M1518.3 289.5h0M1398.2 263.6h0M1470.1 171.1h0M1392.7 275.2h0M1530 276.2h0M1376.3 222.7h0M1374.6 208.9h0M1454.9 320.9h0M1450.4 338.7h0M1444.3 322.1h0M1626.9 372h0M1457.3 238h0M1375.6 261h0M1533.1 246.1h0M1505.5 296.8h0M1378.2 171.7h0M1626.9 367.6h0M1446.8 308.4h0M1590 294.6h0M1526.6 315.2h0M1761.5 396.8h0M1389.4 293.7h0M1414.4 313.4h0M1398.4 200.5h0M1459.1 292h0M1466.9 159.4h0M1776 467.8h0M1761.5 254.2h0M1450.1 343.9h0M1560.8 318.8h0M1418.6 293.3h0M1397.4 270.7h0M1761.5 204.6h0M1448.6 254.4h0M1504.9 238.5h0M1506 418.2h0M1458.4 239.2h0M1390.3 214.1h0M1456.9 276h0M1393.8 240.3h0M1769 632h0M1512.8 260.6h0M1376.6 211h0M1512.6 496.8h0M1459 243.4h0M1377.3 152.1h0M1455.7 227h0M1500.4 352.4h0M1416.4 314.5h0M1469.2 275.4h0M1379.1 266h0M1392 195.4h0M1392.9 255.1h0M1565.6 247.5h0M1541.2 271.2h0M1462.5 227.9h0M1463.3 356.1h0M1416.7 320.8h0M1376.2 210.4h0M1400.2 297.4h0M1392.2 213.8h0M1461.8 263.6h0M1460 234h0M1457.3 293h0M1536.9 369.7h0M1464.9 179.1h0M1402.4 299.7h0M1449.8 182.2h0M1539.5 260.6h0M1393.9 172.7h0M1761.5 524.2h0M1440.8 177.4h0M1375.6 172.9h0M1502.5 372.5h0M1390.9 299.8h0M1511.1 319.2h0M1454.1 281.2h0M1515.5 306.9h0M1449.3 292h0M1512.7 242.9h0M1515.9 399.7h0M1439.8 244.9h0M1501.6 409h0M1471.6 287.8h0M1517.2 131.4h0M1776 398.4h0M1506.4 280.7h0M1375.8 188.8h0M1449.2 316.1h0M1449.3 292.6h0M1514.2 338.6h0M1637 433.4h0M1379.7 188.6h0M1601.7 314.2h0M1378 171.9h0M1463.5 207.2h0M1466 360.1h0M1523 143.9h0M1595.6 377.7h0M1447.8 305.1h0M1608.2 246.3h0M1375.8 102.4h0M1506.5 236.9h0M1459.6 290.3h0M1378.1 130.5h0M1523.7 210.4h0M1417.7 316.8h0M1451.1 204.6h0M1516.2 246h0M1450.7 272.6h0M1452.4 249.5h0M1460.3 198h0M1375 135.1h0M1776 374.6h0M1465.2 156.1h0M1396.9 128.4h0M1391.6 280h0M1626.9 251.3h0M1761.5 276.1h0M1400.9 204.3h0M1461.6 339.5h0M1608.2 428.7h0M1590 297h0M1397.3 190.4h0M1470.7 308.2h0M1376.5 165.8h0M1374.8 155.3h0M1462.4 247.5h0M1450.5 286.4h0M1595.6 484.2h0M1528.7 289.8h0M1465.4 322h0M1465.2 229.8h0M1646.7 254.4h0M1527.6 239.4h0M1527.5 324h0M1458.3 249.3h0M1460 223.4h0M1442.1 287h0M1419.6 167.3h0M1452.7 389.9h0M1503.8 235.9h0M1441.1 264.7h0M1376.9 218.3h0M1398.9 198h0M1784.7 506.3h0M1784.7 559h0M1402.6 325.3h0M1400.8 224.6h0M1396.7 182.6h0M1513.7 239.9h0M1379.5 152.3h0M1394.6 218.1h0M1500.4 214.6h0M1375.3 215.1h0M1503.2 270.7h0M1376.2 213.4h0M1374.5 231.9h0M1400.5 136.4h0M1528 347.5h0M1505.6 296.5h0M1535.7 65.7h0M1469.9 305.1h0M1420.5 229.5h0M1798.5 286.3h0M1444.8 244.4h0M1402.1 256.9h0M1525.4 313.7h0M1519.5 407.5h0M1398.1 183.9h0M1378.2 303.6h0M1390.6 311.1h0M1390.3 206.8h0M1377.9 169h0M1521.2 195.2h0M1453.6 233.6h0M1524.6 281h0M1374.9 204.7h0M1601.7 454.1h0M1401.7 247.9h0M1390.4 226.6h0M1527.3 289.7h0M1445.3 313.1h0M1769 332.8h0M1378.2 201.3h0M1466.2 311.8h0M1393.6 209.7h0M1379 198.2h0M1376.1 231.7h0M1389.4 176h0M1447.2 315.1h0M1456.3 350.7h0M1471.2 203.5h0M1444.8 372.3h0M1590 383.6h0M1525.1 319.2h0M1470.3 213.2h0M1631.7 172.2h0M1641.9 178.5h0M1463.7 319.9h0M1379.7 301.6h0M1375 230.6h0M1595.6 320.8h0M1601.7 284.4h0M1502.1 329.9h0M1511.3 387.8h0M1455.8 270.9h0M1388.9 273.6h0M1440.5 335.7h0M1500.4 289.1h0M1446.4 214.2h0M1520.1 130.5h0M1443.1 358.5h0M1389.9 316.4h0M1507.3 337.2h0M1761.5 260.2h0M1646.7 496.4h0M1378.1 208.8h0M1543.4 225.2h0M1501.8 433.8h0M1377.5 240h0M1513.8 318.3h0M1552 305.6h0M1447.5 128.7h0M1390.9 241h0M1392.5 218.1h0M1761.5 634.5h0M1389.8 304.5h0M1447.2 277.5h0M1452.5 196h0M1376.9 167.6h0M1464.4 209.8h0M1378.9 177.4h0M1508.2 315.6h0M1626.9 484.3h0M1590 430.9h0M1378.4 255.1h0M1776 355.1h0M1391.1 220.7h0M1471.1 319.1h0M1459.8 333.7h0M1397.2 338.9h0M1460.9 194.2h0M1379.6 213.5h0M1536.8 258.6h0M1402 219.5h0M1375.8 108h0M1451.2 252.4h0M1631.7 376.2h0M1472.1 257.8h0M1595.6 333.3h0M1538.5 179.8h0M1374.9 106.1h0M1378.2 214.6h0M1608.2 248h0M1376.1 292.3h0M1395.7 208.3h0M1375.6 153.2h0M1445 273.4h0M1459.5 410.7h0M1396.8 60h0M1393.3 226.4h0M1390.5 240.3h0M1552 343.4h0M1552 284.2h0M1390.7 193.1h0M1454.1 276.6h0M1459 258.3h0M1466.9 183.8h0M1390.8 299.6h0M1395.3 146.6h0M1556.8 299.1h0M1784.7 414.4h0M1560.8 284.7h0M1542.3 311.2h0M1631.7 449.7h0M1631.7 225.6h0M1375.9 280.5h0M1398.1 280.8h0M1400 173.5h0M1392.6 248.3h0M1469.2 215.7h0M1457.1 256.5h0M1798.5 507.4h0M1394 220.9h0M1454.7 168.9h0M1469.1 297h0M1769 466.2h0M1392.8 236.8h0M1525.5 239.7h0M1397.2 191.1h0M1395.9 256.8h0M1401.3 219.3h0M1419.1 172.4h0M1375.8 254.9h0M1400.6 236.1h0M1379 161.9h0M1468.6 152.3h0M1453.3 321h0M1583.5 396.6h0M1374.9 192h0M1517.6 274.9h0M1400.9 222.6h0M1415.2 259.3h0M1508 242.9h0M1542.4 290.2h0M1439.5 349.6h0M1396.6 257.6h0M1769 302.9h0M1471.6 299.3h0M1514.1 164.5h0M1392.4 323.7h0M1374.7 135.5h0M1456.7 172.8h0M1514.6 274.4h0M1452.4 243.1h0M1513.1 245h0M1462.6 186h0M1631.7 227.4h0M1452.2 229.8h0M1391.6 276.1h0M1377.7 162.8h0M1453.8 225.6h0M1401 315.9h0M1467.7 331.4h0M1464.5 253.5h0M1641.9 399h0M1378.2 144.4h0M1376.9 153.2h0M1472.3 329.9h0M1468.2 145.5h0M1395 245.5h0M1626.9 176.9h0M1646.7 392.1h0M1516.5 386.5h0M1601.7 466.7h0M1457.3 342.9h0M1511.4 336.3h0M1391.8 263.1h0M1400.3 226.4h0M1414.4 197.2h0M1631.7 211.1h0M1470.7 216.5h0M1374.4 288.8h0M1376.2 180.8h0M1402.3 312.3h0M1456 265.6h0M1393.7 268.4h0M1458 282.9h0M1798.5 483.6h0M1401.1 215.4h0M1536.5 365.9h0M1469.1 213.6h0M1471.6 298.3h0M1438.7 327.8h0M1393.5 157.6h0M1459.1 165.2h0M1507.6 241.9h0M1532.9 438.1h0M1522.5 294.6h0M1375.1 288h0M1421.4 323.7h0M1392 281h0M1390.6 179.7h0M1463.9 282.9h0M1637 335.1h0M1457.5 367.7h0M1546.9 353.5h0M1394.2 279.4h0M1511.4 376.9h0M1391.4 213h0M1776 256.9h0M1523.9 130.7h0M1511.2 343.6h0M1470.9 227h0M1515.4 329.6h0M1447 349.6h0M1468.4 333.4h0M1798.5 431.1h0M1471.4 190.9h0M1374.9 201.3h0M1398.4 168.4h0M1469.2 346.6h0M1463.6 206.5h0M1375.5 219h0M1459.5 247.1h0M1608.2 393.6h0M1590 383.1h0M1377.3 170.5h0M1390 284.1h0M1397.8 401h0M1461 279.2h0M1631.7 218.4h0M1461.7 190.6h0M1389.7 294.2h0M1583.5 378.7h0M1441.4 355.8h0M1531.7 62.8h0M1626.9 295.6h0M1769 467.9h0M1393.1 201.6h0M1375.3 253.3h0M1392.8 254.4h0M1458.6 256.9h0M1458.6 287.4h0M1466.1 289.4h0M1590 262.2h0M1401.2 279.5h0M1471.2 260.9h0M1378.5 139.7h0M1467.4 127.3h0M1402.4 182.4h0M1641.9 327.2h0M1509.7 387h0M1390.2 284.8h0M1375.7 227.8h0M1378.7 240h0M1451.8 227.1h0M1458.8 229.8h0M1538.8 258.3h0M1501.4 318.8h0M1389.1 318.7h0M1641.9 294.7h0M1400.8 264.4h0M1631.7 452.9h0M1375 170.4h0M1401.2 203.9h0M1391.7 122.6h0M1390.4 209.8h0M1446.9 242.3h0M1399.9 243.8h0M1376.3 188.2h0M1608.2 212.5h0M1455.4 183.3h0M1463 346.4h0M1784.7 477.6h0M1389.6 168.9h0M1415.8 334h0M1583.5 321.2h0M1398.2 157.6h0M1375.6 138.2h0M1560.8 220h0M1798.5 321.4h0M1454.9 274.6h0M1536.5 179.9h0M1471.6 171.2h0M1641.9 236.1h0M1522.4 328h0M1646.7 263h0M1440.6 274.6h0M1518.6 244.5h0M1378.7 201.7h0M1398 199.7h0M1769 324.3h0M1583.5 151.4h0M1457 238.5h0M1556.8 273.8h0M1646.7 207.3h0M1590 373.2h0M1375.3 226.6h0M1396.6 325.5h0M1389.9 225.4h0M1442 256.6h0M1390.4 283.9h0M1761.5 409.7h0M1449.7 215.1h0M1389.9 223.3h0M1398 351.3h0M1376.8 204.1h0M1637 217.6h0M1375.6 162.4h0M1457.6 321h0M1447.7 174.6h0M1415.4 284.7h0M1442.9 163.5h0M1626.9 303.3h0M1519 385h0M1389.1 282.8h0M1447.8 258.4h0M1637 386.5h0M1438.8 309.9h0M1376.8 194.5h0M1400.4 216.1h0M1465.4 384.1h0M1446.8 254.3h0M1379.7 260.8h0M1514.2 265.4h0M1451 189.2h0M1531.2 291h0M1646.7 345.5h0M1464.3 265h0M1461 342.3h0M1452.5 179.5h0M1501.2 221.8h0M1377 197.7h0M1761.5 375h0M1399.4 154.4h0M1377.1 221.1h0M1543.7 317.9h0M1761.5 325.4h0M1462.1 183.6h0M1440 366.1h0M1510.1 266.2h0M1608.2 240.3h0M1464.7 206h0M1471.8 199.3h0M1461.4 308.5h0M1396.5 222.1h0M1626.9 452h0M1543.7 223.3h0M1520.9 316.1h0M1375.4 208.6h0M1377.1 253.4h0M1447.5 194.6h0M1376.6 163.9h0M1565.6 256.3h0M1595.6 187.8h0M1467.1 259.8h0M1441.1 310.2h0M1460.6 304.5h0M1465.6 317.7h0M1455.3 277.3h0M1784.7 214.6h0M1459 255h0M1608.2 346.8h0M1377.9 105.7h0M1396.1 162.7h0M1398.5 231.5h0M1451.8 194.1h0M1377.6 197h0M1392.5 305.1h0M1798.5 280.4h0M1608.2 301.7h0M1769 361.1h0M1469.3 271.6h0M1392.6 278.2h0M1465.1 214h0M1377.5 213.7h0M1394.7 202.2h0M1470.4 285.8h0M1397.9 300.7h0M1509.8 395.1h0M1465.1 308.7h0M1464.2 277.4h0M1375.7 184.6h0M1375.3 301.3h0M1378.4 245.2h0M1511.8 180.5h0M1505 109.6h0M1422.4 160.4h0M1463.2 179.7h0M1389.4 303.6h0M1374.7 187.1h0M1505.7 379h0M1378.7 117.4h0M1512.8 340h0M1455.4 294.5h0M1518.4 293.5h0M1390.6 235.1h0M1469 113.6h0M1453.2 191.8h0M1447.9 250.9h0M1398.5 205.4h0M1453.1 287.2h0M1440.7 269h0M1453.1 214.7h0M1515.8 266h0M1440.7 220.2h0M1637 291.6h0M1378.5 145.9h0M1467.7 289.2h0M1441.1 280.7h0M1504.3 293.9h0M1449.3 289h0M1641.9 353.3h0M1631.7 262h0M1459.2 328h0M1377.9 112.8h0M1465.7 128.6h0M1455.5 198.9h0M1439.3 173.9h0M1418.2 226.8h0M1513.2 260.8h0M1447.3 334.1h0M1552 264.9h0M1528.2 246.6h0M1443.2 184.9h0M1439.6 353.3h0M1444.8 314.3h0M1518.8 346h0M1446.4 293.4h0M1450.6 209.6h0M1395.4 222h0M1398.8 354.2h0M1375.2 166.5h0M1595.6 348.8h0M1608.2 445.6h0M1393.4 243.9h0M1398.4 165.8h0M1467.2 337.5h0M1560.8 320.6h0M1441.5 121.6h0M1512.2 234.5h0M1504.1 296.9h0M1776 431.9h0M1375.9 213.1h0M1637 168h0M1784.7 350.7h0M1595.6 336.5h0M1374.8 214.3h0M1376.5 267.2h0M1637 452h0M1379.8 197.8h0M1467.8 158.6h0M1590 237.7h0M1519.8 302.3h0M1535.2 288.3h0M1512.9 318.9h0M1448.4 273.6h0M1378.4 317.1h0M1442.7 362.4h0M1601.7 384.4h0M1761.5 457.8h0M1457.9 201.6h0M1521 380.4h0M1521 221.9h0M1510.6 213.1h0M1398 249.8h0M1646.7 276.6h0M1466.6 167.5h0M1512.3 339.6h0M1444.2 347.3h0M1798.5 379.9h0M1472.4 328.2h0M1500.9 196.8h0M1463.6 247.6h0M1376.8 181.2h0M1608.2 450.6h0M1440.4 372.2h0M1378.1 143.3h0M1761.5 398.9h0M1608.2 486.7h0M1421.4 244.3h0M1472.4 290.4h0M1379.7 288.7h0M1509.6 186.2h0M1531.1 255.8h0" stroke="#e0340a" stroke-opacity="0.64" stroke-width="4.3" stroke-linecap="round" fill="none"/>
<path d="M1492.6 352.1h0M1496.6 394h0M1295.8 242.1h0M1349.2 232.6h0M1495.5 297.1h0M1313.8 247.3h0M1359 206.5h0M1326.9 225.6h0M1364.3 187.7h0M1313.4 256.1h0M1350.2 240.1h0M1331.2 169h0M1327.5 180.7h0M1288.2 153.2h0M1367.8 222.6h0M1370.3 204.1h0M1349.2 216.7h0M1432.1 212.3h0M1303.3 236h0M1493.8 366.2h0M1303.7 238.3h0M1334.8 192.5h0M1386 348.8h0M1296.3 192.5h0M1365.4 251h0M1312.8 217.7h0M1289.8 252.2h0M1328.9 223.6h0M1335.5 126h0M1427.6 219.9h0M1287.9 215h0M1492.9 281.4h0M1333.8 188.4h0M1301.4 174.4h0M1289.8 208.9h0M1385.3 228.8h0M1301.9 202.8h0M1290.4 203.4h0M1295.9 213.9h0M1349.8 202.4h0M1289.7 223.8h0M1492.3 221h0M1407.5 235.6h0M1330.5 220.7h0M1329 248.7h0M1384.5 140h0M1386.9 160.7h0M1334.2 269h0M1326.4 233.3h0M1327.7 183.6h0M1313.7 212.9h0M1387.2 258.8h0M1328.6 156.8h0M1349.7 255h0M1428.4 263.1h0M1370.3 210.5h0M1387.8 361.4h0M1365.2 190.8h0M1491.8 352.3h0M1330.3 164.6h0M1497.4 303.7h0M1327.5 182.6h0M1287.9 223.1h0M1407.4 297.6h0M1358.4 204.3h0M1327.2 147.7h0M1430.1 256.1h0M1328.7 243.6h0M1493.2 309.4h0M1364.7 218.9h0M1408.1 199.2h0M1336.4 298.4h0M1342.2 260.8h0M1367.7 318.7h0M1295.6 230.2h0M1368.8 222.7h0M1431 246.1h0M1409.4 220.3h0M1365.6 299.6h0M1408.9 353.6h0M1333.4 219.6h0M1497.3 337.2h0M1302.7 231.9h0M1497.7 223h0M1496 219.5h0M1313.7 176.9h0M1327.2 254.2h0M1325.9 207h0M1303.2 217.1h0M1290.3 196.8h0M1408.1 171.5h0M1429.5 190.9h0M1335.1 284.5h0M1495.9 218.3h0M1333.3 262.2h0M1385 245.3h0M1385.2 201.1h0M1288.9 243.7h0M1386.4 197.6h0M1358.6 229.3h0M1368.4 279h0M1368.2 173.7h0M1349.9 234.2h0M1368.9 198.3h0M1358.5 215.7h0M1368 310.8h0M1288.6 211.3h0M1302.7 214h0M1359 227.1h0M1295.7 186.7h0M1331.4 309.6h0M1386.8 334.9h0M1300.9 159.8h0M1369.1 293h0M1406.9 251.2h0M1407.6 254.8h0M1329.9 214.7h0M1333.4 250.1h0M1330.8 226.7h0M1291 158.6h0M1366.7 304.7h0M1495.3 245.2h0M1358.1 191.7h0M1301.4 182.8h0M1367.6 207.5h0M1296 174.1h0M1497.6 268.3h0M1368.5 269h0M1313.5 238.6h0M1296.4 180.5h0M1431.2 198.8h0M1384.6 169.7h0M1302.8 204.9h0M1494.1 138.2h0M1406.5 355.5h0M1358.6 227.2h0M1328.4 216.7h0M1369.3 279.7h0M1407.3 123.8h0M1366.2 241.8h0M1408.8 350.4h0M1358.8 213.3h0M1329.6 179.9h0M1410.2 201.7h0M1492.3 159.9h0M1407.5 200.4h0M1495.5 287.1h0M1288.9 224.9h0M1334.9 232.3h0M1492.8 248.2h0M1408.8 210.1h0M1367.5 176.9h0M1303.9 234.9h0M1313.1 247.7h0M1301.6 222.5h0M1296.8 231.6h0M1409.8 294.7h0M1287.9 255.9h0M1349.5 219.4h0M1330.4 189.2h0M1384.8 301h0M1337.3 212.2h0M1336.6 186.3h0M1334.7 245.7h0M1369.1 285.4h0M1296.6 193h0M1332.3 199.1h0M1387.3 160h0M1289.8 192.6h0M1409.9 147h0M1331.2 185.4h0M1386.3 245.4h0M1296.7 236.8h0M1369.2 356.8h0M1290.6 241.1h0M1367.3 268.7h0M1295.8 236.3h0M1431.8 148.8h0M1327.4 247.4h0M1337.2 190.7h0M1332.9 285.8h0M1494.4 212.2h0M1367.1 205.2h0M1341.5 204.8h0M1496.7 207.6h0M1367 191.8h0M1408.6 315.3h0M1287.4 220.1h0M1331.7 181.6h0M1329.8 164h0M1429 336h0M1492.6 304.4h0M1350.4 202.2h0M1289.6 235.2h0M1332.3 200.3h0M1331.2 216.1h0M1386.5 257.8h0M1289.6 207.2h0M1337.5 182.2h0M1494.5 403.4h0M1430.5 252.1h0M1329.1 172.5h0M1407.4 190.9h0M1370.4 199.8h0M1336.8 230.3h0M1290.9 202.3h0M1313.7 212.7h0M1325.9 125.2h0M1409.2 180.2h0M1431 303.7h0M1289.6 226h0M1409.2 191h0M1301.1 217.2h0M1409.2 294.2h0M1313.8 187h0M1365.2 312.7h0M1358.4 256.2h0M1296.3 162h0M1368.4 267.9h0M1301.6 175.4h0M1296.7 176.4h0M1296.8 216.7h0M1497.5 184.3h0M1428.6 200.6h0M1340.2 269.3h0M1328.2 152.9h0M1303.6 223.3h0M1365.4 251.1h0M1313.6 225.9h0M1289.8 177h0M1369.6 297.6h0M1301.5 229.1h0M1288.3 153.4h0M1302.2 226.1h0M1329.3 247.8h0M1340.1 252.4h0M1290.7 219.2h0M1431.9 350h0M1369.5 298.5h0M1329.9 251.1h0M1366 216.2h0M1332.5 219.7h0M1295.8 183.4h0M1304 160h0M1329.6 259.4h0M1312.8 213.1h0M1342.1 209.1h0M1336.3 191.5h0M1334.7 184.2h0M1329.1 166.6h0M1334.7 118h0M1326.9 164.4h0M1337.5 214.7h0M1296.5 160.5h0M1370.3 303.8h0M1288.7 206.3h0M1492.7 396h0M1300.6 171.3h0M1342.2 246.7h0M1495 391.6h0M1334.7 235.5h0M1333.4 233.7h0M1288.6 197.3h0M1288.1 149.9h0M1296.5 215h0M1328.2 194.5h0M1295.9 245.2h0M1334.8 193h0M1296.8 166.4h0M1409.6 207h0M1431 296.8h0M1337.2 255.7h0M1325.6 250.9h0M1385.3 306.4h0M1432 254.5h0M1432.8 168.7h0M1493 182.8h0M1495.1 175.7h0M1330.1 257h0M1384.4 179.6h0M1386.1 287.7h0M1330.6 169.5h0M1296.2 226.6h0M1387.8 251.9h0M1337.1 276.7h0M1431.7 189.2h0M1367.4 276.8h0M1335.9 212.8h0M1408.8 304h0M1370.3 286.8h0M1287.8 237.3h0M1365.5 244.2h0M1339.6 205.4h0M1302.7 204.7h0M1333.1 171.2h0M1335.8 177.8h0M1330.3 262.1h0M1408.8 326.8h0M1367 179.9h0M1385.8 211h0M1364.8 176.4h0M1327.7 190.6h0M1334.5 243.1h0M1331 153.3h0M1334.1 249.6h0M1492.7 265.6h0M1313.4 255.2h0M1408.2 249.5h0M1428 282.1h0M1408.7 329.4h0M1301.9 243.1h0M1290.8 252.5h0M1313.9 219.4h0M1387.5 217.2h0M1296.2 197.5h0M1427.7 314.5h0M1349.6 186.5h0M1406.9 185.3h0M1431.1 166.2h0M1339 217.9h0M1328.5 164.7h0M1289.6 214.4h0M1327.1 222.1h0M1364.4 248.9h0M1296.6 179.9h0M1387.4 152.1h0M1495.7 235.2h0M1386.1 205h0M1303 204.5h0M1329.3 183.7h0M1366.8 263h0M1369 204.8h0M1386.6 186.4h0M1301.2 168.3h0M1336.2 264.3h0M1338.2 254.9h0M1304 198.6h0M1338 226.4h0M1385.7 234.9h0M1326.7 225.6h0M1358.6 248.6h0M1335.3 268.4h0M1369.1 233.3h0M1289.6 202.5h0M1384.9 179.5h0M1364.4 179.3h0M1427.8 338.6h0M1336.4 181.5h0M1313.8 196.5h0M1328 154.3h0M1326.1 203h0M1430.3 255h0M1358.5 181.9h0M1364.5 341.1h0M1386.1 225.5h0M1367.8 202h0M1429 167.7h0M1289.1 203h0M1289.3 259.4h0M1295.6 205.2h0M1338 178.9h0M1364.3 312.8h0M1349.5 211h0M1370.3 266.1h0M1367.8 249.3h0M1339.2 165.9h0M1370 284.2h0M1341.5 145.9h0M1432.4 252.5h0M1409.9 269.2h0M1409.3 317.3h0M1290.2 223.8h0M1313 284.1h0M1326.8 245.9h0M1364.3 316.6h0M1329.9 264.2h0M1408.6 307.3h0M1342.2 243.1h0M1368.5 204.6h0M1358.5 236.1h0M1494.4 184.9h0M1290.1 161.3h0M1313.2 219.5h0M1496.5 221.9h0M1369 281h0M1331.1 206.5h0M1409.9 215.3h0M1313.8 223.8h0M1287.8 237.7h0M1492.2 404.7h0M1302.3 253.8h0M1385.5 288h0M1287.4 160.1h0M1290.7 204.8h0M1301.5 256.4h0M1338.9 202.3h0M1368.8 302.9h0M1327 178.8h0M1341.9 231.4h0M1329.9 254h0M1429 412.3h0M1301.2 226.5h0M1368 297.8h0M1303 181.8h0M1342.2 245.1h0M1366.7 261.3h0M1313.2 213.1h0M1369.5 205.8h0M1408.9 318.3h0M1300.6 269.3h0M1427.8 286.8h0M1313.6 244.3h0M1406.6 161.6h0M1329.5 203.9h0M1497.2 388.8h0M1342.2 231.4h0M1368.6 234.4h0M1493.9 442.4h0M1342.8 255.3h0M1330 221.4h0M1335.2 183.4h0M1386.3 335.2h0M1335.9 118h0M1342.5 258.3h0M1369.4 234.8h0M1366 216h0M1365.3 201.6h0M1295.7 163.3h0M1301.7 175.3h0M1331.5 200.5h0M1302.9 183.1h0M1302.9 224.2h0M1350.3 181.5h0M1330.6 173.2h0M1337.5 228.2h0M1349.2 172.3h0M1327.4 297.4h0M1328.6 247.5h0M1326.1 307.7h0M1387.8 216.5h0M1409.3 346.9h0M1333.1 186.9h0M1302.6 206.5h0M1494.1 384.9h0M1328.7 213.9h0M1332.5 205.7h0M1303.2 196.4h0M1327.8 258.9h0M1288.7 204.7h0M1332.4 171.6h0M1342 176.9h0M1296.6 204h0M1288.4 190.1h0M1493.4 304.4h0M1491.8 273.2h0M1290.1 165.4h0M1366.7 228.9h0M1358.1 224h0M1337.8 159.9h0M1331.6 173.5h0M1339.9 183.4h0M1336 258.9h0M1497.3 265.2h0M1365.5 224.4h0M1289 205.8h0M1289 214.4h0M1497.3 307.4h0M1388.3 265.5h0M1340.3 253.2h0M1492.8 478h0M1290.3 189.9h0M1304 193.1h0M1431.4 216.1h0M1296.4 212.2h0M1327 196.3h0M1327.1 184h0M1406.8 141.9h0M1303.1 229.4h0M1337.4 256.8h0M1327.3 196.8h0M1328.8 175.4h0M1296.2 242.1h0M1335.3 201.3h0M1330.8 241.7h0M1312.8 206h0M1296.8 225.4h0M1302.2 204h0M1295.7 199.3h0M1326.9 232.7h0M1289 154.3h0M1432.1 254h0M1333.6 187.6h0M1428 244.6h0M1494.1 288.9h0M1312.9 274.1h0M1407 138.2h0M1337.1 234.8h0M1408.4 240.8h0M1335.4 169.4h0M1492.7 222.2h0M1368.2 242.4h0M1330.3 252h0M1288.9 218.2h0M1385.2 186.8h0M1350.2 194.5h0M1428.2 367.4h0M1295.8 224.2h0M1339 203.6h0M1334.3 279.2h0M1349.3 269.3h0M1364.4 272.1h0M1430.4 182.3h0M1358.4 209.9h0M1301 243.3h0M1290.8 194.9h0M1358.4 250.3h0M1340.5 276.9h0M1369.3 214.1h0M1339.7 250.4h0M1331.5 174.9h0M1368.1 219.6h0M1340.7 202.4h0M1289.6 174.7h0M1302.9 267.9h0M1408.4 281.2h0M1290.3 194.4h0M1432.3 338.8h0M1296 173.4h0M1358.7 210.9h0M1497 245.5h0M1302.2 264.5h0M1492.6 201.1h0M1301.6 243.7h0M1492.8 384.7h0M1496.9 382.2h0M1366.5 245.5h0M1367.1 229.9h0M1303 234h0M1291.1 187.7h0M1330.9 177h0M1304 260.2h0M1387.2 201.6h0M1358.4 246.6h0M1409 259h0M1337.1 186.2h0M1388.6 204h0M1409 183.2h0M1338.3 277.8h0M1367.9 344.2h0M1496.1 342h0M1302.5 151.6h0M1407.4 214.8h0M1301.9 157.9h0M1301.2 311.4h0M1300.5 220.7h0M1289.8 165.7h0M1335.4 156.3h0M1386 297.3h0M1349.8 171.9h0M1496.1 196.9h0M1335 195.2h0M1290.8 180.6h0M1290.1 233.9h0M1336.2 206.4h0M1339.2 191.2h0M1366.5 283.9h0M1367.1 188.9h0M1313.8 209h0M1388.5 281.8h0M1340.5 201.6h0M1288.7 223.9h0M1333.9 244.8h0M1386.7 175.9h0M1287.4 156.4h0M1407.5 166.7h0M1338 197.6h0M1290.1 210.7h0M1370.4 397h0M1431.6 238.5h0M1428.8 208.6h0M1296.5 221.5h0M1370 202h0M1369.5 219.8h0M1288.1 231.6h0M1367.9 297.7h0M1387.8 319.3h0M1287.6 204.1h0M1326.8 185.3h0M1333.3 296.3h0M1302 248.3h0M1302 137.6h0M1287.2 243h0M1334.9 211.3h0M1287.8 153.7h0M1331.8 175.7h0M1340.8 258.3h0M1288.5 149.1h0M1302.5 239.5h0M1342.6 256.1h0M1289 228.6h0M1287.7 237.1h0M1385.1 150.3h0M1338.8 248.9h0M1387.7 302.2h0M1331.1 227.2h0M1349.9 199.3h0M1334.9 261.9h0M1429.4 297.1h0M1358.9 189.7h0M1370.2 386h0M1368 236.4h0M1494.1 331.7h0M1289.7 175.3h0M1290.4 205.7h0M1492.3 203.9h0M1327.8 188.6h0M1407.6 170.3h0M1327.6 197.7h0M1288.2 199.8h0M1429.4 350.3h0M1303.8 181.7h0M1497 191.2h0M1366 266.6h0M1334.2 255.9h0M1368.4 211.8h0M1365.6 241.8h0M1290.9 262.8h0M1370.3 196.5h0M1329.2 263.5h0M1407 227.4h0M1337 250.5h0M1369 287.1h0M1427.6 173.9h0M1333.3 190.4h0M1328.7 237.6h0M1358.9 252.8h0M1370.2 176.3h0M1350.2 215.1h0M1493.6 417.8h0M1384.7 261.7h0M1289.8 163.7h0M1495.5 185.8h0M1288 215.2h0M1384.5 230.5h0M1334.5 178.6h0M1350 255.3h0M1409.4 250.2h0M1407.1 195h0M1313.1 218.7h0M1364.9 196.3h0M1303.5 255.3h0M1333.8 234.1h0M1290.5 198.6h0M1302.6 130.2h0M1366.2 242.8h0M1367.3 292h0M1288.1 203.1h0M1410 345.2h0M1288.4 152.3h0M1336.6 225.3h0M1313.2 203.3h0M1287.9 259.3h0M1388.6 215.3h0M1303.2 170.7h0M1387.8 324.5h0M1431.7 382.5h0M1387.9 311.3h0M1370.4 182.7h0M1330.8 208.8h0M1367.5 234.5h0M1428.7 189.3h0M1384.4 186.5h0M1289.5 209.7h0M1325.7 175.8h0M1326.6 177.3h0M1337.5 284h0M1340.5 229.4h0M1300.6 224.6h0M1407.1 299h0M1290 253.9h0M1369.1 194.8h0M1495.9 223h0M1432.4 133.4h0M1330.1 178.4h0M1367.5 215.9h0M1491.7 391.5h0M1335.7 235.5h0M1333.4 185.6h0M1358 197.2h0M1312.9 230.2h0M1340.2 212.2h0M1386.8 187.4h0M1350 239.6h0M1303.7 199.3h0M1496.2 270.9h0M1432.2 238.7h0M1303.1 212.7h0M1289.3 237.6h0M1349.9 154.6h0M1303.4 252.3h0M1367.8 237.5h0M1495.1 294.1h0M1349.6 241.5h0M1290.5 203.3h0M1336.9 260.8h0M1496 301.3h0M1301.1 232.6h0M1295.8 199.9h0M1326.6 272.4h0M1288.4 167.4h0M1350.1 186.4h0M1295.6 188.9h0M1408.7 270.9h0M1349.6 201.6h0M1289.8 249.1h0M1331.2 223.5h0M1340.9 196.7h0M1358.6 190.3h0M1326.9 234.1h0M1430.5 328.5h0M1296.7 173.7h0M1327.5 241.7h0M1365.1 255.9h0M1329 195.1h0M1410.3 301.1h0M1289.4 197h0M1385.2 239.8h0M1494.2 139.4h0M1302.7 179.3h0M1295.9 166.3h0M1301.8 225.2h0M1332.3 203.7h0M1302.1 178.3h0M1368.9 251h0M1335.8 225.3h0M1337.2 194.9h0M1330.2 247.1h0M1366.7 297.2h0M1430.1 158.6h0M1302.5 233h0M1329.6 175.4h0M1358.3 255.9h0M1428.8 201.6h0M1431.4 119.3h0M1366.3 309.8h0M1287.8 154.7h0M1365.7 235.3h0M1427.8 306.8h0M1359.2 196h0M1387.7 253.8h0M1327.4 211.4h0M1429.6 192.8h0M1495.2 326h0M1313.2 239h0M1364.5 238h0M1327.5 210.9h0M1366.6 213.8h0M1333.2 232.9h0M1369.8 210.3h0M1313.9 192.3h0M1349.2 181.1h0M1329.6 215.2h0M1288 189h0M1497.3 186.2h0M1369.5 230h0M1494.7 267.2h0M1365.6 272.5h0M1303.7 217.7h0M1336.9 264.5h0M1364.4 259.8h0M1329.5 211.1h0M1387.8 205.9h0M1313.7 209.8h0M1365.7 222.6h0M1289.7 204.7h0M1494.8 248.1h0M1431.6 206h0M1409.1 359.1h0M1287.6 231.1h0M1358.8 220.9h0M1313.5 246.5h0M1328.8 216.7h0M1364.8 248h0M1313.2 194.1h0M1335.9 261.3h0M1368.3 291.1h0M1329.7 249.3h0M1387.6 266.4h0M1341.5 251.1h0M1300.9 127.6h0M1492.6 318.3h0M1410.2 181.2h0M1406.6 248.5h0M1313.9 233.8h0M1428.2 148.3h0M1494.5 236.3h0M1386.5 157.8h0M1330.1 214.9h0M1366.6 405h0M1358.6 199.3h0M1333.2 265h0M1301.2 272.9h0M1296.3 215.8h0M1340.8 199.2h0M1301 247.9h0M1328.3 253.1h0M1387.6 283.7h0M1497.4 200.6h0M1335 218h0M1369.7 325.2h0M1388 184.1h0M1364.7 257.4h0M1496.6 265.3h0M1313.4 229.2h0M1495.6 309.8h0M1331.8 217.5h0M1329.6 221.5h0M1410.3 297.9h0M1312.8 176.3h0M1301.6 196.2h0M1431.1 276.9h0M1429.8 309.2h0M1367.5 196.4h0M1359.1 202h0M1289.2 160.8h0M1300.5 237.9h0M1338.7 168.3h0M1495.8 218.1h0M1364.8 301.6h0M1369 229.9h0M1409.4 146.3h0M1430.5 252.9h0M1287.9 219.6h0M1333.5 304.2h0M1300.6 208.8h0M1303.2 269.3h0M1349.7 237.3h0M1431 239.9h0M1289.1 147.8h0M1296.3 184.5h0M1410.2 183.4h0M1326.6 290.6h0M1326.8 220h0M1287.8 180.8h0M1429.8 480h0M1289.5 212.8h0M1495 233.3h0M1409.6 229.5h0M1302 209.4h0M1492.8 292.5h0M1334 111.2h0M1335.9 168.4h0M1409.3 233.7h0M1337.1 199.3h0M1302.4 236.6h0M1301.5 181.5h0M1326.6 198.6h0M1289.5 229.6h0M1288.8 159.1h0M1290.5 232.2h0M1387.5 145.2h0M1367.5 309.1h0M1301.1 157.4h0M1358.9 221.8h0M1303.8 207.4h0M1290.1 257.4h0M1407.5 296.1h0M1302.6 235.8h0M1409.4 292h0M1364.4 267.9h0M1303.7 305.8h0M1329.6 290.6h0M1296.2 200.6h0M1369.3 273h0M1407.3 224.5h0M1313.8 220.4h0M1369.9 187.8h0M1365.1 248.9h0M1289.7 222.8h0M1493.8 203.2h0M1367.2 230.8h0M1295.8 188.2h0M1335.2 241h0M1332.1 221.1h0M1410.2 208.6h0M1409.9 243.2h0M1301.5 287h0M1368.6 281.9h0M1350.1 152.6h0M1301.4 182.5h0M1326.2 217.8h0M1313.8 215.8h0M1332.3 277.6h0M1385.4 269.8h0M1427.9 246.6h0M1328.4 214.3h0M1497.3 467h0M1288.7 213.5h0M1364.2 299.7h0M1336.5 154.7h0M1334.6 234.8h0M1302.4 249.8h0M1367.8 251.6h0M1303.9 244.9h0M1387 198.4h0M1330 229.1h0M1495.6 250.7h0M1332.9 206.2h0M1302.4 203.8h0M1295.6 217.5h0M1385.7 235.4h0M1385.4 154.2h0M1313.2 260h0M1430 269.5h0M1290.5 172.1h0M1330.9 191.7h0M1358.3 173.8h0M1287.4 246.3h0M1326.5 240.2h0M1496.8 275.3h0M1368.2 276h0M1388.5 242.5h0M1409.8 203.8h0M1385.2 175.3h0M1385.9 114.2h0M1328.3 225.8h0M1430.8 146h0M1410.2 326.1h0M1496.3 354.3h0M1288.3 194.6h0M1387.4 151.3h0M1364.2 221.6h0M1364.8 226.8h0M1336.4 186.4h0M1331.8 273.9h0M1312.8 205.2h0M1303.4 225.4h0M1409.2 235.7h0M1409.1 269.2h0M1384.2 139.4h0M1494 379.9h0M1296.4 232.5h0M1327.2 176.5h0M1384.4 270.2h0M1387.5 310.4h0M1329.2 215.1h0M1327.7 213.6h0M1349.5 214.2h0M1350.3 224.8h0M1370 275.8h0" stroke="#1f6f9b" stroke-opacity="0.62" stroke-width="4.3" stroke-linecap="round" fill="none"/>
<path d="M1527 339.2h0M1447.9 302.4h0M1463.6 398.1h0M1401 303h0M1389.9 237.7h0M1444.5 277.8h0M1470.9 313.8h0M1465.7 256.7h0M1461.5 170.5h0M1376.5 246.4h0M1456.7 278.2h0M1448.3 261.4h0M1418.5 296.1h0M1454.9 317.7h0M1393.4 205.1h0M1446.2 198.3h0M1641.9 272.7h0M1440.4 305.7h0M1447.9 162h0M1460.1 359.1h0M1583.5 448.4h0M1583.5 368.9h0M1379.6 106.1h0M1504.2 128.3h0M1392.9 229.8h0M1374.9 137.1h0M1601.7 392.1h0M1443.5 278h0M1457.6 262.6h0M1583.5 339.7h0M1511.1 454.3h0M1451.8 174.9h0M1414.9 170h0M1595.6 440.4h0M1396.8 235.4h0M1459.9 308.9h0M1471.5 257.3h0M1444.8 142.1h0M1377.6 209.1h0M1376 201.2h0M1516.2 391.8h0M1501.2 301.1h0M1464.8 204.9h0M1565.6 347.8h0M1377.7 219.7h0M1377.6 254.7h0M1441.9 249.3h0M1442.6 254.6h0M1390.2 322.5h0M1542.6 377h0M1462.2 341.8h0M1439.7 268.8h0M1521.6 447.8h0M1508.2 328.4h0M1466.9 296.6h0M1396.9 296.5h0M1374.7 219.7h0M1601.7 309.7h0M1512 422.1h0M1540.2 318.4h0M1546.9 420.7h0M1527.3 281.3h0M1400.9 270.3h0M1400.9 256.3h0M1456.3 301h0M1443.5 248.9h0M1546.9 419.8h0M1525.3 200.1h0M1546.9 213.9h0M1453.2 236.6h0M1511.1 180.2h0M1375.7 280.3h0M1798.5 346.6h0M1524.8 294h0M1450.1 337.5h0M1798.5 559h0M1452.8 216.7h0M1389.6 318h0M1375.1 208.8h0M1455 198.5h0M1416.7 265.7h0M1451.8 237.8h0M1471 252.1h0M1530.2 276.1h0M1515.1 238.3h0M1601.7 440h0M1376.6 213.3h0M1453.2 274.5h0M1375.8 97.3h0M1378.4 233h0M1388.8 275h0M1400 198.2h0M1390.7 309.4h0M1389.8 289.5h0M1398.2 244.5h0M1530.1 372.3h0M1468.9 206.6h0M1401.2 148.9h0M1464.1 191.5h0M1396.4 164.9h0M1449.3 289.3h0M1776 327.9h0M1397.8 326.7h0M1641.9 388.1h0M1390.2 183.3h0M1438.8 225.6h0M1641.9 473.6h0M1467.2 269.6h0M1509 182.9h0M1377.1 152.3h0M1445.8 317.3h0M1601.7 458.8h0M1444.4 180.6h0M1471.8 343.1h0M1784.7 195.2h0M1391.9 206.5h0M1376.7 277.3h0M1560.8 261h0M1601.7 238.7h0M1396.8 153.8h0M1390.4 199.9h0M1391.3 310.8h0M1392 316.5h0M1469 323.3h0M1631.7 246.3h0M1516 246.4h0M1458.4 252.1h0M1394.6 223.2h0M1377.4 107.5h0M1379.6 290h0M1393.6 263.5h0M1375.5 106.2h0M1379.1 262.4h0M1457.6 339h0M1529.5 244.8h0M1449.4 267.8h0M1376.4 240.9h0M1378.2 223.4h0M1552 292.4h0M1379.3 226.4h0M1518.8 246.3h0M1512.2 260.1h0M1374.9 131.7h0M1776 326.2h0M1421.6 198.8h0M1378.3 273h0M1420.6 329.5h0M1552 98h0M1462.5 184.6h0M1646.7 254h0M1455.6 410.2h0M1453.7 173.1h0M1544.2 224.9h0M1378 274.3h0M1460.8 327.3h0M1393.6 131.9h0M1400.7 279h0M1392.7 279.7h0M1459.7 252.2h0M1401.6 230.4h0M1393.7 268.5h0M1456.7 207.4h0M1518.4 339.2h0M1523.5 336.3h0M1394.9 181.5h0M1517.8 170h0M1421.2 320.8h0M1626.9 444.8h0M1444.3 267.1h0M1379 275.4h0M1451.4 317.3h0M1517.3 288.2h0M1641.9 286.6h0M1556.8 257.8h0M1626.9 480.7h0M1526.8 345h0M1515.9 308.2h0M1393.2 304h0M1565.6 110h0M1646.7 357.9h0M1583.5 243.9h0M1583.5 418.2h0M1448.3 254.8h0M1516.1 459.2h0M1601.7 225.2h0M1378.5 190.8h0M1397 323.1h0M1376.5 267.4h0M1374.8 277.8h0M1402.2 249.1h0M1776 357.9h0M1590 332.1h0M1601.7 348.7h0M1453.6 350.9h0M1392.2 236.9h0M1470.5 144.8h0M1590 289.1h0M1798.5 334.2h0M1391.7 260.8h0M1377.6 161.1h0M1445.3 304.5h0M1608.2 274.8h0M1375.4 218.5h0M1507.3 391.1h0M1444.8 184.8h0M1396 228.9h0M1459.9 255.6h0M1374.7 159h0M1769 443h0M1565.6 434.5h0M1441.3 355.7h0M1401.3 243.1h0M1389.3 237.9h0M1401.6 277h0M1514.1 442.7h0M1390.5 189.8h0M1556.8 254.8h0M1374.6 229.4h0M1784.7 312h0M1511.7 299.1h0M1601.7 497.3h0M1798.5 297.1h0M1376.8 207.9h0M1375.1 149.3h0M1455.5 221.5h0M1646.7 340.6h0M1441.3 194h0M1523 171h0M1415.4 183.6h0M1524 313h0M1524.1 245.1h0M1416.4 325.5h0M1539.8 388.9h0M1376.8 272.8h0M1516.4 347.5h0M1394.7 173.8h0M1527.7 243.6h0M1504.4 293.9h0M1419.6 265.1h0M1376.8 252.5h0M1457.2 231.7h0M1521.9 531h0M1442.5 350.8h0M1449.6 251.7h0M1389 76h0M1465.5 235.3h0M1519.9 334.6h0M1375.3 244.1h0M1560.8 296.8h0M1501.2 419.8h0M1528 319h0M1447.3 286h0M1525.2 289.4h0M1378.9 170.9h0M1456.7 186.6h0M1398.7 220.5h0M1450.9 224.8h0M1513.1 365.2h0M1515.7 292.8h0M1520.4 304.4h0M1441.3 294.8h0M1504.2 373.2h0M1530.8 279.3h0M1443 297h0M1393 248h0M1396.1 184.4h0M1393 236.1h0M1646.7 174.5h0M1393.9 210.1h0M1626.9 447.7h0M1392.6 177.8h0M1397.9 214.4h0M1457.4 237.1h0M1397.6 266.9h0M1390.9 197.7h0M1377.4 195.5h0M1450.5 276.3h0M1641.9 474.1h0M1524.8 372.2h0M1397.7 248.3h0M1646.7 507.6h0M1502.7 232.1h0M1398.4 199.9h0M1451.1 273.1h0M1560.8 231.7h0M1399.3 259.9h0M1471.5 257.5h0M1631.7 384.7h0M1394.9 197.6h0M1394.3 221.4h0M1590 425.4h0M1377.8 216.2h0M1394.3 262.1h0M1466.3 222.5h0M1626.9 427h0M1512.3 107.4h0M1583.5 472.6h0M1504.9 342.8h0M1472.4 255.3h0M1379.7 181.4h0M1798.5 204.3h0M1468.8 119.7h0M1400.7 170h0M1518.6 268.4h0M1454.9 345.5h0M1646.7 311.3h0M1641.9 256.6h0M1776 502.6h0M1453.9 250.3h0M1457.4 334.9h0M1608.2 456.7h0M1458.5 319.6h0M1601.7 256.2h0M1641.9 375h0M1637 354.6h0M1467.6 202.2h0M1421.4 208.4h0M1378.1 229.5h0M1590 255.2h0M1646.7 258.2h0M1637 420.6h0M1379 165.6h0M1517.5 232.4h0M1444.2 281h0M1398.3 247.5h0M1784.7 187.5h0M1503.8 300.7h0M1394.9 174.2h0M1626.9 371.4h0M1465.1 155h0M1442 270.7h0M1545.1 335.2h0M1450.1 401.5h0M1508.1 357.7h0M1375.5 183.5h0M1453.2 347h0M1776 506.1h0M1523.7 234h0M1462.8 177.3h0M1378.2 247h0M1601.7 330.3h0M1545.8 276.4h0M1511.6 392.2h0M1443.2 242.5h0M1416.2 169.4h0M1646.7 446.6h0M1517.5 352.5h0M1453.2 277.2h0M1457.5 174.7h0M1442.9 234.5h0M1419.1 278.9h0M1397.2 200.3h0M1464.4 294.5h0M1401.5 268.9h0M1378.1 306.2h0M1515.1 285.8h0M1395.7 236.5h0M1378.9 230.2h0M1530.8 330.2h0M1441.1 187.4h0M1527.4 348.8h0M1444.9 220.9h0M1459.4 324.7h0M1464.8 347.6h0M1450.4 351.2h0M1444.4 305.3h0M1590 344.9h0M1517.9 323.9h0M1378.3 198.1h0M1401.3 299.5h0M1452.8 301.5h0M1379.1 244.9h0M1519.2 305.2h0M1458.6 251.8h0M1471.1 135.7h0M1470.7 180.3h0M1375.6 129.7h0M1560.8 266h0M1397.5 145.3h0M1442 283.8h0M1378.1 280h0M1637 285.8h0M1401.9 163.2h0M1552 234h0M1390.5 242h0M1421.4 307.9h0M1776 484.7h0M1440.4 308.3h0M1443.9 185.6h0M1445.4 362.6h0M1392.9 215.6h0M1520.4 328.8h0M1539.1 299.7h0M1509.5 373.3h0M1471.3 238.4h0M1378.9 197.1h0M1522.9 342.8h0M1552 206.5h0M1397.5 214.3h0M1472.3 278.8h0M1500.5 285.6h0M1415.6 266.1h0M1508.7 379h0M1398.4 200.4h0M1798.5 306.6h0M1468.5 357.3h0M1626.9 492.2h0M1459.9 203.5h0M1447.7 171.9h0M1446.9 223.1h0M1376.9 129.7h0M1510.8 336.6h0M1512.7 331.8h0M1377.7 153.9h0M1631.7 341.3h0M1444 322h0M1378.4 317.2h0M1374.8 210.3h0M1391 162.8h0M1535.8 351.8h0M1761.5 384.6h0M1536.8 213.1h0M1469.4 260.5h0M1398.5 270.6h0M1389.6 181.9h0M1375.8 263h0M1396.7 273.6h0M1400.6 235.5h0M1467.3 372.6h0M1395.1 287h0M1546.9 255.5h0M1418.7 284.6h0M1374.8 224.6h0M1456.5 304.5h0M1502.6 241.1h0M1461.9 293.7h0M1377 260.7h0M1472 294.2h0M1392.3 280.2h0M1465.8 236.7h0M1376.2 263.8h0M1637 395.1h0M1379 140.6h0M1453.5 198.9h0M1376 270.7h0M1458.7 310.5h0M1518.1 397.3h0M1460 328.4h0M1401.1 295.5h0M1583.5 332.1h0M1539.5 47.2h0M1451.3 211.3h0M1448.6 320.4h0M1447.9 339h0M1391.8 302.3h0M1535.9 429.7h0M1608.2 372.5h0M1377.8 161.3h0M1447.9 273.7h0M1460 332.2h0M1400.1 174.6h0M1450.8 202.3h0M1399.9 249.2h0M1463.8 213.1h0M1401.2 232h0M1395.8 279.8h0M1546.9 322h0M1379.6 112h0M1466.5 235.7h0M1463.9 344.8h0M1398.6 260.8h0M1391.7 294.9h0M1445.7 183.7h0M1590 406.5h0M1392.6 304.5h0M1798.5 371.1h0M1552 416.6h0M1396.8 206.6h0M1415.2 303.3h0M1453.5 203.2h0M1626.9 479.5h0M1378.9 213.2h0M1392.5 277.3h0M1453.2 269.9h0M1376.3 300.6h0M1379 160.5h0M1401.5 187h0M1608.2 414.7h0M1460.5 316.6h0M1463.1 260.3h0M1444.2 278.6h0M1646.7 311h0M1468.5 238.3h0M1641.9 196.3h0M1376.3 221.5h0M1520.3 304.7h0M1528.5 306.2h0M1439.6 242.2h0M1449 328.4h0M1394.5 221.3h0M1399 258.8h0M1376.2 181.5h0M1507.1 325.2h0M1552 307.5h0M1468.2 341.7h0M1399.4 354.6h0M1445.5 267.7h0M1376.8 210.3h0M1444.4 246.3h0M1449.4 341.4h0M1441.5 361.7h0M1376.1 220.8h0M1377.6 189.5h0M1398.9 126.4h0M1451.6 160.6h0M1458.6 299.2h0M1448.5 258h0M1376.7 205.9h0M1400.3 301.6h0M1397.8 285.6h0M1543.6 408.5h0M1456.9 216.2h0M1395.6 292.9h0M1641.9 466.3h0M1455.3 359.8h0M1462.7 142.1h0M1527.1 436.5h0M1451.6 339.3h0M1631.7 169.7h0M1464 174.2h0M1637 300.9h0M1461 403.2h0M1394.2 294.5h0M1375.2 271.7h0M1467.5 413.9h0M1376.2 189.1h0M1459.2 298.8h0M1637 437.3h0M1378.1 129.6h0M1400.2 152.1h0M1455.2 206h0M1470 251.8h0M1519.7 205.2h0M1445.1 365.1h0M1529.3 261.5h0M1513.3 271.8h0M1471.2 128.8h0M1468.5 264.8h0M1391.8 167.9h0M1377.7 146.2h0M1533 249.7h0M1471.1 142.9h0M1376.3 197.4h0M1583.5 462h0M1560.8 351.4h0M1378.8 193.9h0M1516 332.5h0M1556.8 326.5h0M1392.7 194.1h0M1398.6 173.9h0M1545.1 171.3h0M1462.5 342.5h0M1468.8 176.6h0M1379.6 185.6h0M1441.8 308.5h0M1444.9 351.1h0M1546.9 238.3h0M1398.4 290.7h0M1376.1 175.1h0M1393.3 256h0M1532.6 365.6h0M1452 354.3h0M1509.5 365.2h0M1534.6 346.6h0M1379 309.5h0M1641.9 421.2h0M1505 245.5h0M1641.9 268.5h0M1453.9 209.6h0M1376.6 196.6h0M1376.9 277.2h0M1400.8 201.1h0M1446.1 336.6h0M1450.7 317.3h0M1377.5 284.1h0M1531.2 436.2h0M1449 235.8h0M1394.1 278.4h0M1590 434.1h0M1401.2 193.2h0M1469.6 283.9h0M1443.3 338.6h0M1469.5 192.5h0M1776 449.9h0M1465.4 272.2h0M1454.5 271.5h0M1379.6 141h0M1421.2 294.3h0M1506.5 303.5h0M1447.6 317.4h0M1524.6 226.3h0M1450.5 239.9h0M1454.9 197.7h0M1439.5 206.1h0M1784.7 131h0M1417 255h0M1395.2 294.3h0M1769 285.7h0M1521.6 339.3h0M1449.6 213h0M1466.6 187.2h0M1393.3 349.4h0M1418.3 242h0M1512.5 284.1h0M1442.1 240.5h0M1400.7 260.1h0M1376.9 133.2h0M1761.5 452h0M1583.5 461.2h0M1631.7 373.4h0M1506 195.3h0M1439.9 204.7h0M1402.7 184.4h0M1646.7 456h0M1402.5 285.2h0M1522.5 337.5h0M1531.4 414h0M1608.2 383h0M1466.2 354.3h0M1400.1 347.2h0M1378.9 306.2h0M1472.3 333.7h0M1525.6 417.3h0M1453.4 280.7h0M1441.6 256.8h0M1503 335.5h0M1396.9 237.4h0M1501.8 457.1h0M1546.9 102h0M1464.9 262.8h0M1461.5 341.9h0M1458.3 218.8h0M1507.5 349h0M1390.4 183.4h0M1467.2 208.4h0M1637 333.8h0M1544.9 321.1h0M1784.7 379.8h0M1379.5 231.9h0M1646.7 462.6h0M1374.8 136.6h0M1442 335.2h0M1453.6 328.7h0M1399.7 295.1h0M1420.1 273.8h0M1378.5 221.3h0M1450.1 209.5h0M1460.9 136.3h0M1395.5 281.1h0M1418.7 247.3h0M1784.7 291.9h0M1378.9 277.8h0M1626.9 266.2h0M1397.6 306h0M1389.3 215.8h0M1646.7 419.4h0M1552 399.6h0M1583.5 307.8h0M1454.9 359.6h0M1389.2 250.9h0M1798.5 392h0M1504.4 317.4h0M1448.9 187.4h0M1467 168.1h0M1395.8 211h0M1419.7 359.2h0M1784.7 358.3h0M1637 309.4h0M1552 100h0M1400.7 304.3h0M1402.6 170h0M1375.3 196.5h0M1761.5 364.7h0M1445.1 325.9h0M1446.4 290.6h0M1637 270.5h0M1468.5 323.2h0M1526.1 409.5h0M1376.9 277.5h0M1527.1 389.1h0M1541.4 320.8h0M1626.9 252.8h0M1397.3 288.9h0M1399.5 194.9h0M1447.5 374.6h0M1463.9 230.8h0M1641.9 257.4h0M1560.8 224.1h0M1784.7 474.3h0M1378.8 210.7h0M1542 219h0M1449 131.3h0M1631.7 392.3h0M1399 162.5h0M1460.6 212.3h0M1376.3 235h0M1524.7 334.2h0M1378.9 174h0M1455.5 210.7h0M1471.9 317.5h0M1459 398h0M1444.5 240.9h0M1544.5 247.8h0M1391.5 257.1h0M1601.7 217.1h0M1583.5 305.1h0M1388.9 185.9h0M1641.9 468.4h0M1522.9 275.4h0M1528.4 132.8h0M1583.5 254.8h0M1445.7 260.4h0M1397.2 279.5h0M1626.9 278.2h0M1449.4 299.8h0M1374.7 285.9h0M1389.2 233.8h0M1421.9 208h0M1626.9 317.3h0M1518 373.3h0M1466.8 342.9h0M1401.6 253.9h0M1515.6 200.6h0M1534.9 365.5h0M1512.6 343.7h0M1394.9 230.6h0M1502.4 250.7h0M1543.3 421.8h0M1395.3 159.7h0M1375.3 228.6h0M1402.3 219.3h0M1376.6 169h0M1391.9 192.1h0M1784.7 209.9h0M1519 424.4h0M1784.7 424.2h0M1462.4 364.6h0M1545.5 353.3h0M1595.6 329.4h0M1513.2 249.3h0M1389.5 179.4h0M1448.2 198h0M1453.6 396.2h0M1441.4 298.2h0M1447.2 177.1h0M1376 245.7h0M1501.9 359.7h0M1456 363.4h0M1456.6 314.5h0M1465.2 170.9h0M1626.9 279.8h0M1545.8 283.8h0M1784.7 380.9h0M1601.7 453.3h0M1395.2 224.4h0M1565.6 227.3h0M1529.1 360.6h0M1761.5 468.1h0M1420.5 161.8h0M1374.5 138.8h0M1377.5 191.2h0M1391.6 249.6h0M1397.2 215.8h0M1378.9 195.3h0M1374.9 131.7h0M1418.4 277.1h0M1390.8 316.3h0M1451.5 266.7h0M1508.9 192h0M1503.4 245.8h0M1377.2 124.8h0M1375.9 190.7h0M1526.9 321.7h0M1390.7 274.5h0M1443 218.9h0M1378.4 278.6h0M1458.9 319.6h0M1375.5 211h0M1444.5 218.1h0M1462.8 253.9h0M1531.8 311.8h0M1377.1 258.5h0M1400.6 255h0M1446.4 320.3h0M1378.9 165.1h0M1400.3 130.5h0M1502.3 380.9h0M1400.9 346.8h0M1402.1 201.2h0M1516.5 255.7h0M1397.4 314.8h0M1565.6 201.2h0M1394 273.8h0M1761.5 202.3h0M1646.7 333.6h0M1377.6 252.8h0M1421.9 253h0M1543 58.5h0M1451.4 250.4h0M1444.7 194.1h0M1450.9 339.9h0M1761.5 391.9h0M1400.7 186h0M1506.8 293.6h0M1472.3 248.9h0M1441.9 364.8h0M1401.9 288.2h0M1505.6 340h0M1416.6 228.9h0M1452.9 251.7h0M1376.5 203h0M1442.2 129.2h0M1469.9 226.9h0M1452.1 187.5h0M1378.5 227.4h0M1452.5 220.5h0M1391.1 163.9h0M1471.5 134.2h0M1414.9 216.4h0M1451.2 226.3h0M1391.8 203.9h0M1505.1 260.4h0M1583.5 202.3h0M1458 204.2h0M1389.2 198.5h0M1392.9 226.4h0M1401.4 238.4h0M1462.3 347.5h0M1378 271.3h0M1400.5 348h0M1463.7 172.1h0M1520.8 275.7h0M1470 301.8h0M1450.9 293.8h0M1461.9 304.3h0M1451 148.7h0M1529.2 362.8h0M1452.5 227.6h0M1565.6 296.1h0M1458.3 260.3h0M1378.1 298.9h0M1552 280.2h0M1460.3 326.5h0M1451.1 343.9h0M1509.9 338h0M1389.3 207.6h0M1583.5 355.6h0M1776 460.1h0M1466.1 265.1h0M1556.8 327.3h0M1541.9 301h0M1392 256.2h0M1471.6 400.9h0M1518.4 303.6h0M1375.2 221h0M1507.7 332.2h0M1769 535.1h0M1507.9 325.8h0M1443.9 224.3h0M1542.7 323.7h0M1448.1 271.7h0M1769 297h0M1769 426.5h0M1546.9 192.1h0M1391 295.6h0M1601.7 353.9h0M1450.2 354h0M1523.3 284.2h0M1374.6 260.5h0M1439.3 229.5h0M1445 228.6h0M1601.7 289.1h0M1626.9 176.6h0M1389 192.5h0M1464.5 189.5h0M1439 237.3h0M1769 315h0M1378.1 117.6h0M1776 361.9h0M1601.7 354.9h0M1396.1 348.2h0M1769 313.7h0M1521.7 208.5h0M1415 197.9h0M1376.3 242h0M1462.4 296.8h0M1420.5 217.1h0M1531.8 361.1h0M1392.6 312.1h0M1400.7 250.9h0M1389 230.9h0M1388.8 270.3h0M1443.6 290.5h0M1583.5 348.8h0M1379.3 240.9h0M1446.5 211.6h0M1590 282.1h0M1439.2 363.1h0M1608.2 220.1h0M1377.2 139.4h0M1637 421.3h0M1460.8 318.1h0M1415.7 235.1h0M1389.8 166.4h0M1375 258.3h0M1631.7 244.2h0M1395.6 265.9h0M1508.6 246.6h0M1522.1 283.6h0M1391.6 281h0M1462.8 214.6h0M1601.7 369.6h0M1374.4 169.4h0M1419.8 176.8h0M1396 243.2h0M1440.4 379.3h0M1545.9 422.8h0M1374.8 136.6h0M1595.6 481.9h0M1798.5 446.8h0M1769 418.5h0M1546.9 480h0M1458.7 261.6h0M1516.1 314.1h0" stroke="#e0340a" stroke-opacity="0.64" stroke-width="4.3" stroke-linecap="round" fill="none"/>
<path d="M1335.5 212.4h0M1313.5 253.2h0M1497.2 359.2h0M1341.9 261h0M1492.7 301.1h0M1301.1 239.9h0M1342.3 173.8h0M1386.2 151h0M1287.5 205.7h0M1334.2 159.5h0M1366.3 292.5h0M1295.7 216.5h0M1368.4 227.7h0M1332.1 135.1h0M1287.9 219.4h0M1335.3 252.2h0M1337.4 279.4h0M1385.4 165.7h0M1329.3 284.5h0M1290.7 215.9h0M1349.2 159.6h0M1336.1 192.8h0M1334.9 135.2h0M1300.9 123.2h0M1407.4 164h0M1364.6 300.7h0M1408.3 293.9h0M1359.2 252.4h0M1387.5 217.6h0M1430.3 153.4h0M1312.9 198.3h0M1296.3 198.1h0M1302.8 163.3h0M1496.4 402.7h0M1295.7 189.5h0M1340.3 251.8h0M1496.2 297h0M1368.2 201h0M1328.1 245.3h0M1358.3 264.1h0M1369.1 218.9h0M1332.3 187.2h0M1312.8 187h0M1336.2 227.5h0M1368.6 244.4h0M1288.5 202.2h0M1341.6 179.9h0M1364.5 239.3h0M1289.7 151.2h0M1301 190.4h0M1358.2 271.1h0M1386 113.2h0M1296.3 191.8h0M1327.7 155.9h0M1331.4 205.1h0M1365 223.6h0M1366 288.9h0M1295.7 199.9h0M1364.3 284.3h0M1364.3 170.5h0M1341.4 182.1h0M1338 210.9h0M1406.6 174h0M1325.6 245.5h0M1289.5 238.7h0M1287.8 193.2h0M1328.2 253.5h0M1340.6 205.8h0M1300.7 234.5h0M1367.7 264.6h0M1493.9 275.3h0M1365 219.6h0M1296.2 159.5h0M1301.8 251.5h0M1369.9 223.9h0M1331.1 157.1h0M1288.6 228.9h0M1300.6 232h0M1303.6 215.1h0M1366.3 164.9h0M1302.5 273.6h0M1350.3 162.1h0M1387.8 276.7h0M1313.3 268h0M1384.8 241.9h0M1289 211.5h0M1365.5 255.2h0M1367.1 242h0M1303.7 155.2h0M1329 214.4h0M1429.6 177.5h0M1341.9 215.2h0M1300.6 183.3h0M1388.2 234.9h0M1336.2 219.7h0M1366.7 277.8h0M1333.8 126.7h0M1496.7 291.6h0M1329.7 169.3h0M1349.5 178.5h0M1369 188.9h0M1333.9 257.9h0M1290.9 204.5h0M1386.9 262.2h0M1492.6 349.1h0M1350.1 249h0M1288.1 257.5h0M1342.9 243.5h0M1492 378.3h0M1312.8 176h0M1495.9 331.4h0M1327.6 225.5h0M1296.2 219.9h0M1341.6 158.5h0M1288.5 214.4h0M1335.7 175.8h0M1290.2 242.2h0M1331.6 206.8h0M1329.6 199h0M1367.7 246.7h0M1407.9 265.7h0M1296 193.5h0M1494.8 304h0M1295.8 252h0M1408.8 342.4h0M1325.7 245.9h0M1368.1 220.5h0M1367 199.3h0M1365 355.4h0M1289 202h0M1349.5 184h0M1337.5 215h0M1288.7 247.3h0M1288.5 239.3h0M1329.9 220.9h0M1336.9 267.7h0M1301.9 241.6h0M1331.3 179.4h0M1337.6 262.1h0M1300.9 171.7h0M1432 285.6h0M1289.8 261.8h0M1388 148.2h0M1370.3 178.7h0M1337.5 249h0M1302.7 274.3h0M1338.7 286.5h0M1334.1 306.1h0M1326.3 231.3h0M1349.5 219.6h0M1338.8 230.6h0M1313.4 265.3h0M1366 312h0M1303.6 210.4h0M1313.8 221.1h0M1330.5 164.6h0M1367.9 213h0M1312.8 217.2h0M1287.3 149.8h0M1336.5 267.8h0M1366.2 216.7h0M1303.1 221.8h0M1368.6 249h0M1287.7 268.3h0M1296.5 169.4h0M1333.3 275.7h0M1493.6 361.3h0M1289.9 216.8h0M1366.4 317.7h0M1287.9 152.8h0M1430.2 295.8h0M1302.7 228.3h0M1493.8 307.8h0M1300.9 253h0M1431.4 248.7h0M1333.5 191.5h0M1333.6 196.1h0M1367.3 309.1h0M1494.8 296.9h0M1496 353.9h0M1365.9 208.3h0M1349.7 199.1h0M1337.4 258.9h0M1368.5 274.9h0M1288.3 245.8h0M1334.6 256.7h0M1313.3 218.8h0M1350.2 225.5h0M1407.8 347.4h0M1429.6 230.2h0M1408 290.2h0M1296.2 200.1h0M1335.7 249.7h0M1369.1 295.1h0M1289.2 213.3h0M1295.8 210.8h0M1342.1 133.6h0M1428.6 218h0M1289.3 248.9h0M1301.4 257.4h0M1410.3 237.2h0M1369.4 187.1h0M1349.2 180.2h0M1300.9 226.6h0M1358.2 207.3h0M1494.2 324.3h0M1349.3 244.9h0M1429 249.1h0M1296.5 193.1h0M1288.8 194.5h0M1492.7 328.9h0M1385.9 250.4h0M1430.2 303.2h0M1301.7 182.5h0M1303.6 218.2h0M1331.4 208h0M1409.7 301.4h0M1388.5 203.2h0M1301.2 168.2h0M1330.1 250.2h0M1366.5 306.3h0M1496.3 216.5h0M1358 226.6h0M1296.3 195.9h0M1330 185.3h0M1492.5 192.4h0M1496.2 213.8h0M1326.3 208.5h0M1427.8 286.5h0M1287.6 206.8h0M1384.4 264.6h0M1406.8 218.1h0M1364.3 255.3h0M1304.1 230.3h0M1335.2 209.6h0M1429.2 251.8h0M1493.7 298.4h0M1385.8 163.2h0M1349.3 233.6h0M1496 211.3h0M1430.7 363.1h0M1384.7 275.3h0M1365.2 265h0M1332.2 212.1h0M1300.7 194.4h0M1289.8 207.4h0M1432.7 222.1h0M1432 247.3h0M1312.8 206.8h0M1496.7 334.5h0M1341.5 256.2h0M1331.2 176.5h0M1301.2 290.9h0M1367.4 265.5h0M1432.5 184.8h0M1431.5 282.4h0M1332.3 179.3h0M1287.7 157.3h0M1301.1 273.4h0M1302.1 255.6h0M1359.1 217.7h0M1387.5 311.5h0M1327.4 169.7h0M1296.1 221.3h0M1328.5 234.6h0M1340.7 287.5h0M1428.2 247.8h0M1326.7 258h0M1289.4 175h0M1358.9 206.5h0M1496.6 364.1h0M1289.4 175.7h0M1327.9 227.2h0M1497 242.8h0M1327.5 238.6h0M1409.9 142.1h0M1303 258h0M1291.1 158.5h0M1332.2 146.2h0M1368.4 274h0M1341.4 194.6h0M1288.2 151.4h0M1493.8 210h0M1336 324.9h0M1386.5 221.8h0M1302.5 260.5h0M1387.8 194.8h0M1296.6 199.6h0M1408.1 276.2h0M1312.9 205.4h0M1332.6 260.2h0M1339.8 204.9h0M1289.7 167.2h0M1384.5 174.2h0M1302.7 173.5h0M1495.7 293.2h0M1296.8 186.2h0M1290.7 203.4h0M1313.2 261.9h0M1388.1 159.9h0M1336.9 248.8h0M1350.4 226.8h0M1384.4 301h0M1430.8 220.2h0M1337.7 238.6h0M1369.1 298.2h0M1493.5 295.1h0M1365.4 247.2h0M1409.2 146.5h0M1388 244h0M1287.3 196.3h0M1328.3 266.1h0M1388.2 321.6h0M1295.9 171.3h0M1328.4 169.2h0M1429 261.9h0M1338.9 259.1h0M1333.7 170.9h0M1301.4 287.8h0M1364.6 313.5h0M1369.5 304.3h0M1496.7 397.1h0M1367 232.9h0M1295.8 226.4h0M1300.5 200.5h0M1429.9 206h0M1287.7 178h0M1407.5 213.8h0M1428.8 150.1h0M1296.6 167.7h0M1367.4 180.6h0M1408 174.3h0M1358.5 218.5h0M1409.3 143.9h0M1304.1 140.8h0M1387 293.7h0M1368.9 160.2h0M1385.9 201.5h0M1368 203.4h0M1370.2 226.1h0M1303 206.8h0M1370.4 235h0M1290 185.3h0M1342.6 216.7h0M1295.9 154.5h0M1370.2 249.5h0M1338.5 274.8h0M1289 150.4h0M1339.5 267h0M1407.2 125.4h0M1364.2 241.3h0M1302 240.7h0M1287.5 165.1h0M1301.2 189h0M1332.8 235.5h0M1409.7 205.7h0M1326.9 185.7h0M1295.7 214.6h0M1386.8 240h0M1331.5 271.4h0M1340.9 166.7h0M1497 212.1h0M1326.6 242h0M1431.8 232.4h0M1494.2 351.1h0M1349.9 221.1h0M1365.1 223.1h0M1358.3 174.4h0M1331.2 239.2h0M1388 274.4h0M1325.7 233.2h0M1364.1 208.5h0M1288.3 231.8h0M1313 202h0M1492.2 343.9h0M1431.6 243.3h0M1385.8 355.2h0M1408.5 262.5h0M1300.6 203.8h0M1409.9 194.5h0M1313.5 211.4h0M1289.9 182h0M1366.2 219.7h0M1289 230.5h0M1429.3 275.4h0M1388.1 263.7h0M1367.7 318h0M1386.4 239.7h0M1295.7 169h0M1364.7 324.6h0M1327.7 173.9h0M1303.7 206.4h0M1367.3 258.7h0M1368 253.3h0M1369 240.8h0M1367.8 208h0M1431.5 196.5h0M1387.3 177.9h0M1492.5 390h0M1385 136.5h0M1301.9 167.9h0M1365.7 286.1h0M1335.1 200.6h0M1367.2 284.8h0M1289 190.4h0M1358 236.1h0M1337.6 194.7h0M1332.6 246.4h0M1432.5 314.5h0M1330.3 154.7h0M1350.2 241.7h0M1289.6 239.5h0M1290.2 181.5h0M1291 212.5h0M1358.8 207.3h0M1349.4 195.5h0M1295.7 188.8h0M1386.1 260.7h0M1496.5 365.5h0M1332.2 151.5h0M1288.1 210.5h0M1331.6 211.9h0M1312.9 210.5h0M1296.6 172.1h0M1334.2 249h0M1385.7 231h0M1327.7 197.8h0M1332.3 185.7h0M1342.2 188.7h0M1338.1 237.1h0M1367.8 295.6h0M1341.4 204.8h0M1408.8 277.9h0M1370.1 249.8h0M1493.1 382.3h0M1313.9 185.7h0M1428.8 472h0M1492.8 200.9h0M1386.4 229.5h0M1369.4 305.4h0M1329 215.4h0M1337.4 282.4h0M1290.2 244.2h0M1300.9 242.2h0M1296.4 216.6h0M1430.2 293.2h0M1368.4 216.2h0M1339.4 191.7h0M1329.4 271h0M1326.7 233h0M1388.2 243.9h0M1291.1 254.1h0M1288.7 193.4h0M1290 229h0M1429.3 298.2h0M1342.7 213.9h0M1384.6 137.3h0M1332 215h0M1327.9 168.5h0M1334.9 222.7h0M1326.2 163.7h0M1358 250.8h0M1496 394h0M1367.5 212.9h0M1410 222.7h0M1333.1 200.1h0M1349.1 223.3h0M1406.8 122.5h0M1384.3 321.5h0M1287.8 158h0M1358.3 220.3h0M1428.4 221.8h0M1295.8 177.1h0M1366.1 184.5h0M1386.6 140h0M1290.1 188.2h0M1358.1 219.6h0M1302.9 256.7h0M1301.8 159h0M1340.7 257.6h0M1369 315.7h0M1302.9 253.2h0M1386.9 292.7h0M1365.2 253.4h0M1387.6 253.3h0M1332.3 192.9h0M1288.2 151.5h0M1494.8 225.3h0M1387.6 308h0M1288.2 176.1h0M1429.8 295.4h0M1386.9 256.8h0M1350.3 203.7h0M1368.4 302.8h0M1290.6 190.8h0M1349.7 162.2h0M1302.2 210h0M1358.6 271.1h0M1385.7 300.4h0M1334.8 144.8h0M1302.6 202.6h0M1432.5 332.5h0M1296.2 177.5h0M1429.6 284.8h0M1493.1 236.4h0M1326.4 239.8h0M1368.4 274.9h0M1340.6 193.7h0M1288.5 267.9h0M1288.3 220h0M1497.2 183.5h0M1329.5 267h0M1492.1 309.7h0M1406.8 163.9h0M1497.4 245.9h0M1296.5 184.8h0M1287.9 164.4h0M1334.9 273.7h0M1301.5 170.5h0M1431.2 261.6h0M1296.5 226.6h0M1385.1 318.1h0M1432.3 294.2h0M1432.7 258h0M1330.4 261.5h0M1369.9 240.6h0M1288.7 160h0M1313.3 174.7h0M1495.1 414.6h0M1295.9 211.5h0M1303.5 201.3h0M1407.9 252h0M1295.9 211.2h0M1327.6 166.8h0M1313.2 194.3h0M1329.7 245.6h0M1327.8 295.5h0M1337.2 156.3h0M1290.3 237.6h0M1313.5 204.5h0M1325.9 164.7h0M1366 280.4h0M1358.6 190.4h0M1325.8 156.9h0M1359.1 254.6h0M1367.9 252.5h0M1313.2 241.7h0M1493.4 335.3h0M1407.8 332h0M1302.3 272.9h0M1369.8 411h0M1327.7 206h0M1369.8 349.7h0M1432.4 254.5h0M1408.6 260.4h0M1337.7 188.8h0M1492 247.9h0M1349.9 171.9h0M1287.6 151.5h0M1428.9 291.3h0M1288.2 239.5h0M1409.8 161.6h0M1359.1 213.2h0M1288.4 203.3h0M1370.2 295.4h0M1367.8 192.4h0M1385.3 297.5h0M1330.6 201.5h0M1328 216.4h0M1329.8 184.3h0M1369.3 307.9h0M1432 198.1h0M1387 139.5h0M1300.7 165.2h0M1331.3 206.8h0M1300.9 177.5h0M1409.1 310.9h0M1409 220.3h0M1369.8 237.3h0M1335.9 228.7h0M1290.1 231.3h0M1303.1 247.2h0M1364.2 181h0M1287.8 237.7h0M1367.9 262.3h0M1328.6 182.3h0M1331.3 196.9h0M1288.3 228.8h0M1428.4 201.9h0M1366 306h0M1368.8 263h0M1384.9 273.1h0M1496.9 371.6h0M1335 276h0M1365.3 310.3h0M1338 235.2h0M1366.5 225.5h0M1290.4 196.7h0M1408.9 261.1h0M1429 354.8h0M1364.8 268.5h0M1290.5 179.4h0M1336 198.1h0M1431 361.8h0M1331.4 164.4h0M1495.2 271.8h0M1427.9 208.8h0M1431.6 196.1h0M1288.8 190.8h0M1287.4 165.9h0M1303.3 272.1h0M1336.8 237.2h0M1336.1 199.6h0M1333.4 176.5h0M1289.8 226.3h0M1408.8 296.9h0M1313.7 225.7h0M1369.7 258.5h0M1430.5 337.2h0M1289.9 215.7h0M1492.8 238.9h0M1497.3 235.5h0M1289.9 246h0M1289.2 194.8h0M1301.6 249.4h0M1386.3 271.7h0M1326.5 201.7h0M1295.6 227.4h0M1296.1 190.2h0M1296 157.1h0M1493.8 310.7h0M1288.5 237.3h0M1384.8 154.6h0M1289.3 191h0M1430.9 171.4h0M1364.9 308.7h0M1325.9 195h0M1289.2 208.5h0M1335.4 278.9h0M1304.1 233.1h0M1329.7 162.8h0M1366 269.7h0M1364.5 234h0M1368.8 300h0M1287.3 183.8h0M1493.7 380.9h0M1339.1 201h0M1290.6 193.5h0M1296.4 222.3h0M1313.9 186.8h0M1326.2 230.7h0M1367.5 242.6h0M1289 269.6h0M1342.3 268.9h0M1406.9 191.7h0M1338.6 208.4h0M1368.4 254.7h0M1313.2 227h0M1290.5 210.2h0M1338.6 177.7h0M1349.2 250.7h0M1337.1 228.3h0M1327.2 261.4h0M1289.1 154.4h0M1287.9 218.6h0M1304 219.2h0M1358.5 235.1h0M1495.5 294h0M1288 232.5h0M1427.6 189.7h0M1366.2 278.4h0M1370 308.4h0M1303.6 202.5h0M1333.4 249h0M1358.9 223.6h0M1313.7 201.3h0M1328.6 257.6h0M1341.9 164.9h0M1349.1 306.1h0M1493.7 201.8h0M1340.2 232h0M1387.2 182.2h0M1369.6 265.2h0M1333.4 268.9h0M1288.3 253h0M1387 346.8h0M1349.2 164.3h0M1368.6 251.8h0M1386.4 317.6h0M1289.1 163.1h0M1432.2 265.3h0M1325.8 179.9h0M1341.7 168.9h0M1492.4 166.7h0M1333.8 203.9h0M1494.7 250.1h0M1350 192.9h0M1349.6 186.4h0M1336.4 236.1h0M1430.3 157.1h0M1329.5 208.5h0M1432.4 137.9h0M1341.7 207.9h0M1431.6 283.9h0M1431.4 222.3h0M1332.4 306.9h0M1358.2 215.8h0M1287.7 151.3h0M1358.8 241.5h0M1295.8 241.7h0M1406.6 165.4h0M1289.9 149.3h0M1296 225.3h0M1367.6 210.2h0M1288.1 224.1h0M1335 206.9h0M1385.3 183.9h0M1338.5 235.5h0M1332.8 245.5h0M1370.1 203.8h0M1332.5 170h0M1432.2 239h0M1329.3 228h0M1493.2 259.6h0M1429.6 180.3h0M1295.7 203.4h0M1341.4 233.3h0M1364.8 262.3h0M1329.8 220.9h0M1326.4 175.1h0M1492.5 363.6h0M1337.8 165.6h0M1387.2 214.6h0M1296.7 208.9h0M1296.1 190.4h0M1313.4 192.9h0M1290.5 175.6h0M1407.9 309.4h0M1370.1 238.1h0M1359.1 203.9h0M1386 237.9h0M1432.6 183.1h0M1350.1 193.4h0M1302.6 211.7h0M1328.6 226.7h0M1386.1 223h0M1327.9 253.8h0M1429.2 262.1h0M1287.4 243.5h0M1369.5 251.2h0M1493.4 359.2h0M1338.5 189h0M1358.8 217.5h0M1349.8 209.4h0M1428.9 275.6h0M1328.8 310.3h0M1495.2 278.2h0M1427.8 339.9h0M1384.8 269.9h0M1387.1 297.7h0M1332 215.9h0M1326.7 297.6h0M1358.6 190.5h0M1335.5 264.8h0M1340.9 246.8h0M1325.9 187.1h0M1492 393.5h0M1340.4 205.1h0M1407.8 200.8h0M1368.8 183.3h0M1350.3 171.1h0M1296.6 232.9h0M1496.9 196h0M1366.6 298.5h0M1300.5 255h0M1366.8 251.4h0M1366.1 247.6h0M1387.3 280.2h0M1496.9 397h0M1350 232.7h0M1368.1 233.3h0M1325.9 171.2h0M1430.6 196.9h0M1334 245h0M1337.4 232.9h0M1339.5 143.7h0M1367.1 226.5h0M1313.1 201.9h0M1288.6 166.1h0M1408.4 273.3h0M1302.7 198h0M1349.7 235.3h0M1429.6 349.6h0M1386.3 147.4h0M1330.4 164.8h0M1336 183h0M1289.8 173.7h0M1358.6 224.7h0M1387.5 171.1h0M1325.6 254.3h0M1296.4 162.5h0M1366.1 296.1h0M1291 217.1h0M1290.6 225.8h0M1369 165.7h0M1358.2 236.4h0M1495.6 356h0M1327 189.6h0M1387.6 114.4h0M1388 267.8h0M1369.7 216h0M1288.2 184.2h0M1296.5 218.1h0M1387.3 214.8h0M1494.3 302.6h0M1427.7 176.9h0M1431.6 253.1h0M1365.7 194.9h0M1428.1 258.7h0M1302.9 206.5h0M1349.8 287.9h0M1430.5 128.5h0M1366.4 219.4h0M1408.5 103.6h0M1370.1 264.6h0M1303.1 202.7h0M1313.1 228h0M1358.2 201h0M1367.2 249.7h0M1329.4 216.6h0M1296.2 227.2h0M1327 192.1h0M1290 169.7h0M1388.5 155.5h0M1365.1 332.7h0M1332.1 130.6h0M1313.3 206.2h0M1365.2 215.7h0M1288.5 208h0M1368.3 281.1h0M1296.6 212.1h0M1296.5 234.7h0M1329.4 219h0M1332.5 156.3h0M1407.4 208.9h0M1302.5 235.9h0M1359 212.9h0M1332.8 242.2h0M1335.8 210.6h0M1325.8 254.2h0M1296.7 227.1h0M1370.2 207.8h0M1302.9 130.6h0M1367.2 286.9h0M1429.3 398h0M1349.8 203.5h0M1303.7 233.4h0M1366.7 303.4h0M1335.8 175.5h0M1349.7 149.2h0M1325.7 158.7h0M1325.7 252.7h0M1358.5 191.5h0M1364.6 154.2h0M1370.2 304h0M1288 187h0M1288.7 249.9h0M1341.6 253.2h0M1495.3 317.6h0M1337.2 192h0M1336.1 233.1h0M1388 257.3h0M1289.8 235.6h0M1339.3 201.3h0M1428.9 212.4h0M1349.5 159.5h0M1328.7 188.7h0M1358.1 220.9h0M1301.1 264.3h0M1313.2 266.7h0M1364.1 220.5h0M1385.4 276h0M1313.4 244.1h0M1296.6 178h0M1349.7 243.1h0M1496.6 421.8h0M1366.2 181.1h0M1334.6 229.7h0M1290.1 170h0M1387.5 200.3h0M1333.3 288.1h0M1287.6 246.7h0M1365.9 214.6h0M1327.5 207.7h0M1290.3 149.2h0M1339 247.5h0M1325.6 253.3h0M1369.8 324.6h0M1313.9 206.1h0M1495.5 241.8h0M1287.3 253.4h0M1291 182h0M1325.6 173.1h0M1288.7 170.8h0M1431.4 306.6h0M1408.5 217h0M1333.1 265.6h0M1367.4 195.4h0M1497.4 290.5h0M1365.8 270.1h0M1296.6 213.3h0M1289.4 204.8h0M1364.6 173.6h0M1337.9 216.7h0M1369.5 232.2h0M1287.5 239.7h0M1334.7 206.6h0M1290.6 254h0M1364.8 306h0M1431.6 147.8h0M1409.6 202.6h0M1350.1 216.8h0M1287.9 151.1h0M1303.4 193.7h0M1369.9 204.2h0M1331.5 172.2h0M1387.5 317.3h0M1497.2 261.9h0M1492.9 277.4h0M1350 291.2h0M1288 161.9h0M1367.7 203.1h0M1302.2 170.9h0M1368.3 296h0M1300.8 250.3h0M1359 196.3h0M1313.6 193.9h0M1384.8 168.1h0M1332.5 210.7h0M1336.6 186.7h0M1338.5 249.3h0M1350.4 228.3h0M1302.4 198.3h0M1291 214.6h0M1432.5 293.3h0M1367 208.7h0M1409.6 266.6h0M1387.4 175.3h0M1301.4 230h0M1386.8 314.1h0" stroke="#1f6f9b" stroke-opacity="0.62" stroke-width="4.3" stroke-linecap="round" fill="none"/>
<path d="M1394 233.8h0M1556.8 283.9h0M1761.5 366.4h0M1394.6 190.4h0M1446.6 319.2h0M1394.5 332.3h0M1784.7 193.6h0M1456.8 309.4h0M1446.1 243.4h0M1461.8 251.4h0M1398.3 159.9h0M1395.9 326.8h0M1556.8 366.9h0M1397.7 193.3h0M1399.1 262.5h0M1552 250.9h0M1516.6 372.3h0M1464 328.3h0M1501.8 298.5h0M1798.5 461.8h0M1397.3 237.1h0M1527.5 218.2h0M1458.7 269.7h0M1459.9 358.5h0M1461.4 289.3h0M1389.4 201.4h0M1397.1 147.7h0M1512.2 291.5h0M1375.4 171h0M1595.6 237.6h0M1464.6 287.8h0M1631.7 324.2h0M1415.5 236.9h0M1452.9 299.4h0M1448.3 225.6h0M1438.9 316.5h0M1452.9 393.1h0M1452.3 176.8h0M1379.7 267.6h0M1388.9 182.1h0M1469.6 233.3h0M1402.5 262.3h0M1400.1 248.9h0M1399.8 207.7h0M1457.8 344.9h0M1500.8 371.2h0M1512.8 232.5h0M1798.5 341h0M1464.9 227.8h0M1458.1 322.7h0M1447.1 404h0M1379.7 248.7h0M1523.1 313.6h0M1458.2 323.2h0M1469.8 337.4h0M1398.6 190.3h0M1500.9 199.1h0M1459.8 210.2h0M1443.9 204.6h0M1419.6 353.7h0M1422.4 188.7h0M1508.8 236h0M1396.5 210.6h0M1402.1 232.3h0M1447.4 268.2h0M1401.9 315.3h0M1631.7 174.8h0M1400.4 171.4h0M1530.6 294.2h0M1464.8 330.1h0M1378.7 136.6h0M1469.3 233.8h0M1396.6 315.2h0M1641.9 283.2h0M1390.2 209.2h0M1416.2 236.9h0M1776 444.5h0M1583.5 471.2h0M1390.2 171.2h0M1502.3 298.1h0M1515.4 353.4h0M1398.7 318.5h0M1440.5 237.1h0M1375.7 203.2h0M1521.8 235.2h0M1530.6 352.7h0M1377.4 281.5h0M1442.2 240.5h0M1471 236.7h0M1583.5 409.1h0M1376.4 277.7h0M1376 157.7h0M1452.6 354.1h0M1374.9 130.2h0M1401.8 165.4h0M1442.2 206h0M1501.5 342h0M1378.1 291.8h0M1472.2 252.5h0M1631.7 365.9h0M1397.9 275.4h0M1556.8 332.6h0M1375.1 177h0M1402.4 190.2h0M1776 427.9h0M1375.4 216.4h0M1502.9 245.7h0M1465.1 378.9h0M1448.2 161h0M1392.1 280.6h0M1641.9 428.4h0M1769 184.8h0M1466.3 322.4h0M1391.4 177.9h0M1376.6 207.5h0M1398 188.3h0M1444.8 384.7h0M1400.9 178.8h0M1459.3 317h0M1552 285.5h0M1541.5 423.3h0M1379.3 270.5h0M1458.2 343.8h0M1501 339.7h0M1451 353.5h0M1377 201.2h0M1457.6 243.6h0M1394.8 215.2h0M1378.8 149.9h0M1394.6 211.6h0M1396.1 216h0M1377.6 136h0M1395.9 344.7h0M1378.5 207.2h0M1507.9 250h0M1541.9 393.8h0M1458.9 279.9h0M1398 240.9h0M1401.6 250.2h0M1402.4 201.3h0M1397.4 257.7h0M1595.6 366.7h0M1389.6 333.7h0M1445.3 261.7h0M1376 293.5h0M1545.4 362.3h0M1394.7 245.1h0M1466.8 261.4h0M1798.5 458h0M1375.8 240.4h0M1463.6 287h0M1646.7 333.8h0M1541.6 293.5h0M1468.3 198.8h0M1439.5 181.3h0M1505.4 445.9h0M1455 250.8h0M1394.9 247.6h0M1420.9 301.1h0M1400.9 284.3h0M1467.7 183.4h0M1453.2 231h0M1450.9 348.9h0M1646.7 317.6h0M1395.2 274.4h0M1398.9 276h0M1465 280.9h0M1444.1 339.3h0M1546.9 208.8h0M1376.3 279.2h0M1761.5 353.4h0M1399.9 254.9h0M1583.5 491.7h0M1798.5 442.9h0M1646.7 458.5h0M1396.1 179.5h0M1798.5 501.4h0M1515.8 224.7h0M1501.7 355.2h0M1453.6 226.9h0M1532.2 422.6h0M1443.3 164.9h0M1399.3 199h0M1401.2 220.3h0M1396.2 251.9h0M1525.1 286.6h0M1458.9 153.8h0M1443 313h0M1514.2 246.1h0M1390.1 309.7h0M1539.7 341.3h0M1595.6 305.3h0M1394.5 195.8h0M1400.4 209.8h0M1469.8 254h0M1376.2 121.3h0M1399.6 261.4h0M1394.9 273.8h0M1646.7 401.7h0M1375.8 198.9h0M1397.2 210.3h0M1545.9 365.4h0M1377.1 139.6h0M1374.7 292.5h0M1376.4 179.5h0M1446.5 216.1h0M1376.7 239.4h0M1393.9 273h0M1378.3 193.4h0M1376.9 178.3h0M1443 330.5h0M1448.1 371.7h0M1400.5 247.4h0M1519.9 345.3h0M1399.1 303.7h0M1391.1 206.8h0M1375.8 175.6h0M1465.7 234.3h0M1374.6 129.9h0M1398.3 245h0M1463.8 235.2h0M1377.5 220.3h0M1631.7 337.6h0M1378.3 246.3h0M1401.8 267.6h0M1377.1 263.2h0M1376.8 165.4h0M1393.8 215.9h0M1646.7 215.7h0M1517.4 196h0M1462.8 237.7h0M1395.7 287.2h0M1529.5 345.7h0M1510 435.7h0M1761.5 401.9h0M1379.7 299.1h0M1560.8 228.3h0M1377.2 138.1h0M1401.3 150.2h0M1379.6 255.1h0M1530.9 282.8h0M1451 287.7h0M1401.7 264.3h0M1398 172.3h0M1378.3 246.8h0M1471.3 293.3h0M1376.3 147.9h0M1440.6 242.3h0M1441.5 144.1h0M1453.8 341.8h0M1375.1 266.5h0M1460 360.2h0M1646.7 417.6h0M1601.7 255.8h0M1444.4 311.6h0M1460.9 177.3h0M1608.2 288.1h0M1525.8 252h0M1608.2 145.3h0M1523.4 306.6h0M1595.6 438.1h0M1391.9 181.1h0M1440.4 376.1h0M1546.9 168.5h0M1443.5 182.5h0M1446.1 318.8h0M1395.2 261.3h0M1467.4 335.8h0M1466.3 236.6h0M1392 317.8h0M1397.7 244.9h0M1552 444.6h0M1392.9 297h0M1440 341.6h0M1626.9 169.9h0M1444.5 388.9h0M1419 341.2h0M1460 214.7h0M1542.3 399.3h0M1401.3 174.9h0M1537.1 338.3h0M1641.9 384.3h0M1637 442h0M1375.2 253.4h0M1517.4 172.3h0M1395.3 240.1h0M1560.8 234.6h0M1520.8 228.4h0M1443.2 328.7h0M1470.9 311.9h0M1396.3 247.5h0M1398.4 289.8h0M1784.7 323.7h0M1590 450.6h0M1398.9 159.9h0M1507.5 217.9h0M1376.4 264.8h0M1457.4 241.2h0M1397.3 260.7h0M1641.9 389h0M1444.1 310.9h0M1637 494.9h0M1451.4 258.5h0M1445.3 254.9h0M1511.8 273.4h0M1455.5 285.7h0M1512.8 314.9h0M1454 233.3h0M1529.1 245.9h0M1396.7 330.4h0M1761.5 349.9h0M1378.4 88.4h0M1378.5 271.9h0M1394.6 144.8h0M1546.9 396.9h0M1401.9 163.7h0M1505.2 320.1h0M1397.6 331.1h0M1395.9 183.8h0M1463.6 177h0M1518.2 244.8h0M1528.5 271.6h0M1552 260.2h0M1417.6 192h0M1379.3 177.3h0M1631.7 219.1h0M1465 130.6h0M1631.7 371.3h0M1502.9 270.6h0M1395.8 257.4h0M1552 341h0M1524.2 352.8h0M1529.1 346.7h0M1395.3 233.2h0M1376.9 299.9h0M1457.3 373.6h0M1401.2 283h0M1456.5 145.5h0M1524.6 239.4h0M1398.6 188.7h0M1784.7 377.1h0M1375.5 267h0M1471.9 132.9h0M1400.1 212.3h0M1631.7 225.8h0M1389.9 318.8h0M1375.6 177.4h0M1393.5 301.2h0M1455.6 363.4h0M1528.5 298.6h0M1464.2 241.1h0M1374.7 252h0M1377.6 132.8h0M1544.2 224.1h0M1463.9 311.5h0M1583.5 215.4h0M1393.5 268.8h0M1539.2 397.8h0M1395.5 263.1h0M1397.2 270.9h0M1400.2 245.5h0M1400.4 257.2h0M1378.2 165h0M1784.7 530.4h0M1519.2 365.8h0M1394.4 274h0M1626.9 256.8h0M1516.2 342.3h0M1441.4 349.7h0M1529.7 450.7h0M1447.5 330.5h0M1451 349.9h0M1798.5 409.8h0M1552 218.8h0M1626.9 322.9h0M1541.2 231.5h0M1503.1 412.8h0M1560.8 341.7h0M1462.5 278.8h0M1379.6 234.5h0M1517.3 209h0M1376.2 271.2h0M1379.7 202.9h0M1459.5 205.8h0M1529.1 331.8h0M1392.6 172.3h0M1400.8 128.4h0M1784.7 312.4h0M1525.4 353.7h0M1637 278h0M1417.3 316.2h0M1761.5 392.9h0M1398.2 298h0M1379.5 263.1h0M1377.3 190.9h0M1461.7 223.4h0M1556.8 97h0M1376.6 176.2h0M1460.8 164.5h0M1400.6 175.8h0M1414.9 202.2h0M1761.5 471.6h0M1375.7 136.1h0M1377.4 193.7h0M1418.1 332.6h0M1504.6 397.2h0M1375.8 170.8h0M1503.6 373h0M1583.5 426.5h0M1526.1 419.5h0M1462 171.7h0M1390.6 225h0M1556.8 246.1h0M1378.7 288.1h0M1506.2 255.7h0M1626.9 333.1h0M1467.4 258.1h0M1626.9 217.8h0M1392.9 168.6h0M1378.9 269.5h0M1401.3 329.2h0M1418.3 271.9h0M1379.1 202.4h0M1519.4 220.7h0M1798.5 459.4h0M1560.8 230.9h0M1379 258h0M1379.2 273.5h0M1389 171.6h0M1451.6 241.5h0M1375.5 176.7h0M1453.7 229.7h0M1626.9 241.1h0M1461.9 359.4h0M1454.5 256.6h0M1776 360.8h0M1546.9 345.8h0M1379.2 196.3h0M1377.7 144.1h0M1379.1 254.9h0M1397.1 276.3h0M1375.5 149.6h0M1466 336.7h0M1769 437.4h0M1595.6 371.1h0M1626.9 434.7h0M1378.3 187.9h0M1399.2 311.2h0M1414.4 217.2h0M1396.9 235.1h0M1377.7 91h0M1464.1 338.4h0M1761.5 511.8h0M1769 374.4h0M1395.2 310.7h0M1394.4 308.8h0M1376.5 168.8h0M1503.8 217.5h0M1397.4 344.1h0M1443.9 240.3h0M1396.3 215.9h0M1631.7 453.6h0M1502.4 405.3h0M1450 271.1h0M1391.6 330.3h0M1522.7 301.5h0M1510.5 333.1h0M1392.3 213.1h0M1377 188.1h0M1637 408.8h0M1608.2 330.5h0M1443 203.8h0M1398 315.5h0M1447 169.6h0M1784.7 643.5h0M1399.8 327.2h0M1379.2 143.4h0M1453.1 198h0M1401.3 221.8h0M1520 182.1h0M1776 472.6h0M1510.5 263.9h0M1464 405h0M1608.2 278.3h0M1396 197h0M1398.5 205h0M1443.6 243.5h0M1460.3 298.6h0M1466 285.1h0M1534.1 282h0M1397.9 246.9h0M1595.6 368.8h0M1402.4 164.3h0M1769 432.2h0M1396.5 256h0M1390.1 314.4h0M1467.3 340.5h0M1392.8 267.1h0M1776 266.3h0M1463.2 307.6h0M1560.8 312h0M1467 188.2h0M1501 342.2h0M1641.9 436.9h0M1375.9 146.3h0M1641.9 444.8h0M1456.7 308.7h0M1444.9 171.9h0M1390 254.9h0M1445 343h0M1376 182.8h0M1467 146.1h0M1466.3 360.8h0M1377.7 133.1h0M1516.6 303.2h0M1546.9 170.3h0M1460.7 190.8h0M1556.8 169.4h0M1637 329.5h0M1524.7 329.9h0M1379 155h0M1608.2 320.1h0M1396.1 191.9h0M1518.6 343.5h0M1389.5 194.7h0M1516.5 388.2h0M1784.7 271.4h0M1375.1 184h0M1631.7 411.3h0M1397.6 260h0M1502.1 235.8h0M1400.4 192.9h0M1377.5 241.3h0M1377.3 96.8h0M1374.9 248.2h0M1396.1 303.9h0M1376.4 252.4h0M1389.2 294.3h0M1419.4 192.4h0M1390.7 209.6h0M1441.7 217.5h0M1442.2 351.1h0M1448.4 255.2h0M1377.5 230.4h0M1470.3 314.3h0M1504.4 346.1h0M1525.7 231.3h0M1443.1 267.4h0M1515.4 393.5h0M1459.6 116.7h0M1394.6 298.4h0M1637 294.3h0M1396.1 249.3h0M1631.7 363.3h0M1377.5 287.4h0M1440.2 316.2h0M1379 256.7h0M1461.1 272.7h0M1439.5 226.4h0M1761.5 313.6h0M1415.5 154.4h0M1398.6 185.4h0M1641.9 379.3h0M1445.9 198.5h0M1501.6 377.7h0M1460.8 372.2h0M1637 412h0M1449 217.4h0M1379.4 252.3h0M1460.6 346.9h0M1392 168.1h0M1454.9 350.3h0M1402.5 258.1h0M1402.6 256h0M1504 191.2h0M1377.9 258.2h0M1379.4 220.4h0M1536.6 189.9h0M1401.2 175h0M1454.1 336.7h0M1546.9 148h0M1414.6 252h0M1560.8 341.6h0M1395.4 271.1h0M1395.5 136.4h0M1522.3 276.4h0M1525.6 330.6h0M1461.7 304.1h0M1378.4 226.1h0M1398.3 190.5h0M1377.2 287.5h0M1399.9 121.8h0M1514.8 209.9h0M1601.7 298.9h0M1526.2 330.9h0M1546.9 213h0M1391.3 273h0M1399.2 247.9h0M1401.9 256.6h0M1397.5 299.8h0M1525.5 303.3h0M1468.5 271.5h0M1583.5 168.7h0M1396.3 280.4h0M1374.6 238.8h0M1445 240.7h0M1393.3 143.7h0M1389.5 226.1h0M1502.2 333.8h0M1466.8 341.1h0M1377.9 215.8h0M1522.9 445.1h0M1460.4 351.2h0M1459.6 301.4h0M1375.3 128.9h0M1536.2 295.5h0M1395.6 207.8h0M1375.5 119.6h0M1456.1 161.6h0M1397.1 207.6h0M1512.6 174.3h0M1454.8 198.4h0M1798.5 473.5h0M1417 182.6h0M1463.4 214.1h0M1459.6 289.6h0M1397.1 311.2h0M1507.2 302.5h0M1451.1 302.9h0M1464.9 303.1h0M1526.4 373.7h0M1463.3 214.2h0M1608.2 336.9h0M1454.1 287.8h0M1646.7 452.2h0M1761.5 527.6h0M1377.5 215.7h0M1761.5 490h0M1377.9 162.2h0M1450.8 285.2h0M1379 188h0M1543.8 260.1h0M1505.5 169.3h0M1390.7 317.8h0M1444.4 232.7h0M1776 197.3h0M1462.4 253h0M1376 283.8h0M1397.5 232.1h0M1389.7 238.5h0M1375.9 192.2h0M1400.5 217.1h0M1471.7 205.4h0M1641.9 357.7h0M1378.2 189.2h0M1399.4 321.9h0M1442.9 256.3h0M1375.2 127.6h0M1471.9 200.9h0M1460.1 196.6h0M1455.8 167.5h0M1769 485.2h0M1378.5 264.2h0M1397.7 202.6h0M1552 303.4h0M1511 344.5h0M1528.7 266.9h0M1441.2 264.2h0M1520.3 276.1h0M1508.8 495h0M1595.6 352.7h0M1541.1 358h0M1513.1 339.3h0M1454.7 165.4h0M1637 478.7h0M1458.3 351.4h0M1464.6 325.2h0M1417.4 290h0M1396.1 227h0M1393.6 297.9h0M1543.6 285.8h0M1402 258.6h0M1398 277.3h0M1538.5 399.6h0M1501.2 383.1h0M1524.7 385.6h0M1374.7 189.1h0M1463.7 299h0M1761.5 520.7h0M1517.3 250.2h0M1379.5 178.4h0M1441.4 374.8h0M1469.7 218.2h0M1398.2 150.7h0M1798.5 502.6h0M1457.1 244.1h0M1626.9 470.6h0M1447.7 270.1h0M1513 459h0M1395.2 194.9h0M1397.6 231.9h0M1442.8 170.5h0M1761.5 189.9h0M1452.2 122.3h0M1526.8 324.5h0M1465.2 238.5h0M1519.7 205.6h0M1518.8 342.5h0M1416.1 314.6h0M1445.9 358.5h0M1389.7 239.7h0M1392.5 206.6h0M1459 211.4h0M1400 281.8h0M1400.8 285.8h0M1472.3 298.7h0M1396.7 219.5h0M1396.3 221.1h0M1377.4 175.7h0M1376.7 136.7h0M1510.6 313.4h0M1416.2 201.6h0M1445.3 335.1h0M1528.4 302.7h0M1467.2 326.2h0M1378.3 151.9h0M1518.8 311.4h0M1450.8 276.8h0M1399 183.2h0M1530.6 223.4h0M1392.6 209.4h0M1546.9 372.7h0M1626.9 264.5h0M1637 323.3h0M1534.2 347.3h0M1398.7 307.7h0M1447.2 290.4h0M1608.2 430.3h0M1417.4 230.8h0M1461.6 394.8h0M1459.3 208.1h0M1631.7 235h0M1637 350.8h0M1378.1 267.3h0M1601.7 482.5h0M1452.7 282.4h0M1460.7 294.6h0M1509.6 378h0M1395.8 168.9h0M1375 162.9h0M1376.9 238.1h0M1444.2 301.5h0M1509.9 259.9h0M1458.7 356.8h0M1515.7 501.5h0M1391.6 278.4h0M1395.8 275.1h0M1595.6 262.2h0M1445.9 291.7h0M1446.1 338.2h0M1761.5 449.2h0M1397.6 199.2h0M1447.8 190.5h0M1377.2 269.2h0M1784.7 350.6h0M1375 166.2h0M1375.7 241.5h0M1537.3 237.7h0M1590 368.4h0M1456.4 243.8h0M1538.3 300.6h0M1374.4 187.8h0M1455 237.7h0M1447.7 340.2h0M1522.2 228.7h0M1595.6 452.5h0M1402 208.3h0M1511.9 141h0M1419.3 313.3h0M1583.5 447.6h0M1451.2 175h0M1534.2 391.8h0M1514.7 321.4h0M1375.1 136.7h0M1441 252.1h0M1565.6 195.3h0M1442.8 305.8h0M1546.9 258.9h0M1523.1 178.9h0M1393.1 151.9h0M1379.3 157h0M1521.9 296.1h0M1470.2 430h0M1399.7 169.1h0M1376.8 214.8h0M1402.1 184.6h0M1376.4 176.9h0M1458.4 181.3h0M1637 189.9h0M1631.7 403.4h0M1377.2 194.7h0M1440.6 290.9h0M1459.4 343.9h0M1402.1 253.4h0M1377 155.1h0M1442.2 117.3h0M1443.2 219.7h0M1400.7 282.8h0M1515.7 368.6h0M1526.8 297.5h0M1390.5 166.3h0M1395.5 236.2h0M1467.7 306.8h0M1379.1 203.3h0M1389.2 175.9h0M1464.8 235.5h0M1375.8 206.4h0M1389.4 244h0M1463.1 396.8h0M1471.7 277.2h0M1391.8 169.8h0M1399.5 410h0M1376.9 299.5h0M1398.8 276.7h0M1440 321.2h0M1533.6 299.6h0M1400.3 267.2h0M1455.4 294.4h0M1421.3 307h0M1399.8 294.8h0M1595.6 215.6h0M1466.1 285.1h0M1393.6 243.4h0M1452.3 218.1h0M1378.9 177.9h0M1401.4 221.6h0M1462.5 365.2h0M1445.7 208.2h0M1533.4 276.8h0M1421.6 304.3h0M1447.1 338h0M1395.9 128.6h0M1453.9 109h0M1515.3 237.4h0M1452.4 316.2h0M1543.9 204.3h0M1444.6 340h0M1501.9 310.7h0M1798.5 380.9h0M1390.3 288.7h0M1394.1 286.9h0M1391 294h0M1501.5 200.9h0M1447.2 372.8h0M1472.2 334.1h0M1449.9 233.2h0M1444.1 214.5h0M1463.9 310.7h0M1565.6 305.9h0M1504.3 373.5h0M1513.7 244.9h0M1399 118.8h0M1397.2 261.5h0M1394.8 266h0M1539.8 390.3h0M1377.9 155.1h0M1466.9 294.4h0M1583.5 239.4h0M1462.8 174.8h0M1444.6 252.6h0M1544.7 379.8h0M1396.1 196h0M1422.2 200.7h0M1454.1 290.8h0M1546.9 204.3h0M1465.9 350.1h0M1641.9 297.5h0M1400.5 190.4h0M1395.5 174.7h0M1631.7 345.4h0M1595.6 268.1h0M1524 245.9h0M1451.3 319.6h0M1377 178.7h0M1442.7 326.9h0M1468.3 266.2h0M1378.2 280.8h0M1519.5 283.6h0M1445 275.9h0M1501 377.3h0M1522.2 237.7h0M1540.8 291.7h0M1376.4 237.7h0M1515.2 345.5h0M1394.6 273.6h0M1402.2 179.8h0M1442.1 260.6h0M1391.3 219.8h0M1439.9 248.5h0M1525.9 354h0M1389.1 302.6h0M1637 258.4h0M1608.2 214h0M1529.8 422.2h0M1512.2 328.9h0M1465 279.5h0M1443.6 201.3h0M1450 147.8h0M1646.7 495.1h0M1532.9 197.6h0M1377.9 136.7h0M1468.5 185h0M1463.3 181h0M1391.9 284.1h0M1583.5 199.8h0M1631.7 184.9h0M1459.4 171.9h0M1761.5 505.5h0M1397.9 235.2h0M1441.8 311h0M1536.4 174.1h0M1415.1 269.8h0M1552 220.1h0M1503.7 302.8h0M1378.7 277.4h0M1769 127h0M1456.7 395.8h0M1467.6 255.8h0M1376.3 178.1h0M1505.8 323.5h0M1377.1 172.3h0M1399.1 286h0M1631.7 238h0M1532.7 291.5h0" stroke="#e0340a" stroke-opacity="0.64" stroke-width="4.3" stroke-linecap="round" fill="none"/>
<path d="M1302 272.3h0M1365.5 184.1h0M1409.7 202.9h0M1385 247.2h0M1349.8 276.1h0M1337.3 230.6h0M1387.6 215.5h0M1364.1 242.2h0M1342.8 230.9h0M1288 210.5h0M1288.5 149.9h0M1370.3 323h0M1331.4 190.3h0M1494.2 305h0M1335.7 235.7h0M1384.2 179.8h0M1368.3 199.6h0M1333.5 170.1h0M1301 247.1h0M1289 254.5h0M1332.9 238.1h0M1370.3 196.6h0M1289.3 205.1h0M1329.1 158.4h0M1338.6 248.1h0M1430.4 149.7h0M1313.4 273.8h0M1358.4 217.7h0M1369.7 246h0M1303.9 243.1h0M1342.8 271.8h0M1385.4 212.2h0M1494.2 295.4h0M1336.8 238.5h0M1303.3 276.3h0M1407.7 204.2h0M1349.3 194.8h0M1330.5 208.3h0M1494.1 328.6h0M1365.8 237.4h0M1296.5 226.5h0M1302 240.4h0M1334.5 206.2h0M1428.3 145.1h0M1358.4 191.1h0M1302.8 274.7h0M1497.1 344.4h0M1369.8 278.9h0M1366.2 303.9h0M1366.1 304.8h0M1386.3 280.6h0M1287.3 205.4h0M1335.1 171.8h0M1350 219.9h0M1342.4 225.5h0M1331.5 212.3h0M1331.6 241.2h0M1367.1 263.1h0M1495 251h0M1329.4 294.8h0M1295.6 162h0M1341.4 205h0M1369.4 237.7h0M1288.7 213.3h0M1366.9 243.6h0M1302.4 178h0M1326.9 248.1h0M1287.9 195.8h0M1409.5 287.9h0M1492.6 343.3h0M1493.3 170h0M1291 244.6h0M1495.6 300.8h0M1336.5 205.4h0M1289.8 154h0M1408.7 140h0M1368.2 264.8h0M1492.4 300.2h0M1291.1 157.4h0M1429 326.6h0M1431.2 287.1h0M1495.7 269.5h0M1408.5 222h0M1367.6 284.8h0M1290.3 246.4h0M1302.1 268h0M1302.6 233h0M1492.7 202.2h0M1289.8 191.2h0M1407.6 146.5h0M1387.7 300.4h0M1287.9 217.8h0M1368.4 265.3h0M1302.6 181.4h0M1326.8 208.9h0M1332.7 145.2h0M1387.6 142.8h0M1358.7 232.9h0M1312.8 227.8h0M1493.3 335h0M1365.6 223.7h0M1429.9 368.9h0M1301.8 184.6h0M1349.2 246.9h0M1387 277.1h0M1326.8 269.3h0M1295.7 211.4h0M1301.1 224.7h0M1358.5 197.5h0M1406.5 322.5h0M1349.4 209.1h0M1328.2 238h0M1332.7 224.9h0M1339.8 138.8h0M1332.8 278.9h0M1494.7 213.3h0M1368.5 166.7h0M1407.6 211.4h0M1296.3 215.8h0M1341.7 243.4h0M1290.2 184.8h0M1301.5 179.8h0M1430.3 216.2h0M1330.6 255.8h0M1331 187.7h0M1358.1 241.9h0M1333.1 213.3h0M1366.2 260.4h0M1290.7 191.5h0M1349.5 183.1h0M1497.1 251.7h0M1335.7 231h0M1365.8 254.3h0M1340.1 206.8h0M1288.7 174.9h0M1350.3 236.1h0M1385.2 319.4h0M1495.9 386.2h0M1329.9 211.4h0M1296.4 188.3h0M1368.7 297.6h0M1333.8 320.7h0M1369.3 198.3h0M1358.6 244.8h0M1331.9 264.3h0M1492.3 234.3h0M1384.7 248.3h0M1332.2 185.7h0M1335.9 222.1h0M1333.9 277h0M1338.9 134.4h0M1287.3 215.4h0M1492.6 431.2h0M1288.5 219.9h0M1432 186.5h0M1313.3 256.2h0M1313.3 256h0M1340.1 248.9h0M1493.9 332.4h0M1295.7 234.5h0M1336.5 244.4h0M1330.6 294.9h0M1302.7 242.5h0M1335.2 271.2h0M1287.2 176.4h0M1385.6 191.2h0M1290.8 195.6h0M1494.6 216.4h0M1333.1 250.8h0M1430 181.3h0M1492.2 273.7h0M1304 154.5h0M1495.2 302.2h0M1349.1 182.3h0M1289.4 184.7h0M1350.4 226.8h0M1431.7 161.6h0M1429 464h0M1366.6 255.5h0M1387 210.5h0M1327.4 182.3h0M1428.1 351.6h0M1334 170.8h0M1329.8 270.8h0M1365.6 244.2h0M1429 177.6h0M1408.2 196.2h0M1386.1 129.6h0M1341.1 258.6h0M1407.7 181.3h0M1287.8 232.8h0M1369.3 247.5h0M1492.7 326.7h0M1370.1 234.5h0M1429.5 145.6h0M1368.4 173.6h0M1364.4 293.7h0M1492.3 308.6h0M1301.5 248.5h0M1370.2 291.7h0M1409.8 101.3h0M1358.8 268.3h0M1431.6 347.7h0M1366.4 269.9h0M1494.3 233.3h0M1337.3 208h0M1359 233.8h0M1369.6 290.3h0M1341.2 193.1h0M1493.3 342.7h0M1364.7 263.2h0M1296 159.9h0M1340.3 217.9h0M1287.8 194.3h0M1287.9 162.1h0M1427.7 324.5h0M1326.6 235.4h0M1331.4 212.8h0M1349.3 243.8h0M1386.6 224.7h0M1330.2 156.1h0M1338.6 266.3h0M1331.5 205.5h0M1384.4 174.1h0M1331.6 203.9h0M1288.3 187h0M1496 332.7h0M1370.3 143.5h0M1287.5 161.9h0M1313.9 190.7h0M1387.4 159.6h0M1300.6 178.3h0M1431.4 340.1h0M1288.6 201.3h0M1427.9 266.4h0M1387 217.9h0M1287.4 199.8h0M1332.3 215.9h0M1367.2 229.7h0M1495.1 191.6h0M1329 269.7h0M1386.6 112.7h0M1330 231.1h0M1365.9 274.5h0M1296 198.7h0M1326 177.9h0M1368.7 295.3h0M1303 234.2h0M1338.2 180.6h0M1429.2 214.4h0M1329.8 249.2h0M1303.1 212.7h0M1492.6 397h0M1365.1 260h0M1303.4 188.4h0M1288.3 172.1h0M1331.9 261.8h0M1301.9 195h0M1496 146.5h0M1367 191.3h0M1384.6 143.8h0M1368.3 254.7h0M1332.2 277h0M1338.4 261.9h0M1388 192.7h0M1328.8 227.5h0M1302.7 288.8h0M1331 150h0M1493.9 217.3h0M1301.8 207.7h0M1327.3 233.7h0M1364.8 265.3h0M1302.7 166.1h0M1300.9 202.6h0M1295.9 198.4h0M1367.6 197.7h0M1303.1 213.5h0M1288.6 211h0M1328 224.2h0M1367 261.9h0M1428.2 149.9h0M1365.7 233.2h0M1335 258.5h0M1295.9 194.9h0M1332.4 272.9h0M1289.5 192.2h0M1407.4 283.2h0M1493.5 367.9h0M1288.3 198.2h0M1406.6 254.9h0M1369.2 297.7h0M1332 236.4h0M1370.1 276h0M1301.8 268.8h0M1368 191.9h0M1408.2 233.4h0M1329.7 205.2h0M1495.3 246h0M1312.8 222.1h0M1296.7 219.5h0M1368.1 246.5h0M1432.1 251.4h0M1338.2 288.8h0M1290.4 235.9h0M1332.5 302h0M1493.4 298.1h0M1349.9 182.6h0M1407.5 251.4h0M1409.2 247.4h0M1328.5 117h0M1302.9 186.2h0M1495.7 208.8h0M1287.8 194.1h0M1386.6 299.7h0M1288.3 172h0M1493.2 274.1h0M1325.7 246.9h0M1296.7 212.5h0M1364.2 293.5h0M1429.8 191.8h0M1364.2 185.6h0M1358.8 202.8h0M1295.7 210.7h0M1370 278.6h0M1288.9 256h0M1497.1 344.6h0M1290.3 178.5h0M1328.9 187.9h0M1325.7 238.2h0M1431.6 219.2h0M1332.7 184h0M1369.8 181.1h0M1430.2 189.6h0M1408 308.6h0M1432.6 138.8h0M1367.9 308.6h0M1370 201.2h0M1300.7 203.8h0M1342.9 227.2h0M1288.1 218.4h0M1364.4 308.1h0M1330 219.5h0M1388 160.6h0M1364.5 272.4h0M1313.6 185.6h0M1329.7 220.7h0M1296.5 195.1h0M1336.2 276.1h0M1491.9 206.5h0M1365.4 227.6h0M1301.5 176.1h0M1328.5 155.8h0M1367.6 319.8h0M1287.2 176.5h0M1287.8 256.7h0M1410 253.8h0M1350.1 190.3h0M1331.7 165.4h0M1301.9 268.2h0M1339.3 208.8h0M1289.3 248.9h0M1496.1 335.7h0M1333.9 309.4h0M1330.3 305.5h0M1338.5 225h0M1341.8 212.2h0M1290.2 260.7h0M1291.1 257.4h0M1406.8 174.9h0M1329.8 162.6h0M1387.5 194.4h0M1386 173.2h0M1288 198.4h0M1332.9 126.6h0M1288.1 156.7h0M1349.2 226.4h0M1428.8 201h0M1495.9 183.1h0M1301.3 259.2h0M1331.4 174.4h0M1493 189.8h0M1367.3 213.8h0M1497.5 259.4h0M1364.5 270.5h0M1388.2 246.7h0M1334.6 168.1h0M1332 131.4h0M1288 185.1h0M1430.4 283.6h0M1387 199.9h0M1296.2 173.9h0M1349.7 199.1h0M1387 319.9h0M1326.4 184h0M1429.2 202.2h0M1340.8 287.7h0M1327.9 285.7h0M1365.9 277.8h0M1407.3 243.5h0M1385.4 266.7h0M1431.5 203.9h0M1497.3 291.7h0M1358.1 256.8h0M1289.5 197.1h0M1407.9 176.2h0M1388.2 163.1h0M1341.7 216.8h0M1328.2 295.2h0M1328.9 215.2h0M1301.1 178.7h0M1491.9 224.9h0M1313 175.5h0M1497.3 249.4h0M1290.3 212.9h0M1289 157.7h0M1327 156.6h0M1303 210.8h0M1342.8 178.2h0M1342.3 207.1h0M1296.4 177.2h0M1335.5 262.5h0M1496.8 321.9h0M1290.2 239.1h0M1350.1 309.8h0M1334.8 150.1h0M1407.4 278.3h0M1327.9 181.4h0M1326.1 193h0M1342.8 168.9h0M1335.5 297.3h0M1491.9 182.8h0M1327.3 163.2h0M1340.2 209h0M1364.6 230.7h0M1370 264.4h0M1431.4 287.9h0M1334.7 142h0M1333.8 266.2h0M1369.9 245.5h0M1341.7 229.3h0M1302.6 279.7h0M1302 197.5h0M1301.7 231.4h0M1368 258.9h0M1341 212.5h0M1429.6 204.2h0M1333.2 233.4h0M1313 278.7h0M1431.1 177.5h0M1287.6 201.8h0M1431.7 221.7h0M1333.5 194.6h0M1369 231.3h0M1495 397.9h0M1328.9 112.6h0M1331.2 174.2h0M1337.1 188.8h0M1290 188.1h0M1335.9 177.5h0M1341.3 204.9h0M1350 187.9h0M1342.3 205.2h0M1332.7 230.3h0M1330.6 184.1h0M1329.9 235.7h0M1368.5 179.7h0M1330 173h0M1287.8 239.4h0M1349.9 230.8h0M1496.4 289h0M1432.4 357.2h0M1428.6 373.6h0M1325.7 219h0M1368.4 296.6h0M1334.3 200.2h0M1369.3 189.4h0M1330.5 204.2h0M1386.5 200h0M1341.8 170.3h0M1288.1 163.1h0M1364.3 251.3h0M1337.2 274.4h0M1384.9 315.3h0M1303.7 267.7h0M1336.2 226h0M1303.2 150.9h0M1296.6 237.8h0M1386 276h0M1340.2 263.9h0M1358.3 201.3h0M1336.6 261.2h0M1296.7 208.6h0M1493.2 256.1h0M1326.5 255.3h0M1302.2 266.3h0M1410.3 287.4h0M1408.6 255.4h0M1334.1 158.9h0M1313.4 241.8h0M1367.9 220.2h0M1295.7 210.2h0M1339.7 272.9h0M1340.6 253.8h0M1496.6 207h0M1342.3 259.1h0M1296.7 195.8h0M1329 169h0M1492.9 383.9h0M1428.8 176.6h0M1496.6 298.2h0M1341 270.3h0M1358.2 248.2h0M1290.5 180.3h0M1330.5 250.5h0M1327.5 224h0M1290.3 169h0M1313.7 257.5h0M1368 315.7h0M1364.8 136.1h0M1289.1 228.5h0M1364.8 259.5h0M1407.2 326.8h0M1370 193.9h0M1326.5 200.1h0M1295.8 170.3h0M1340 145.8h0M1335.7 244.8h0M1365 177.2h0M1312.8 196.9h0M1367.3 286h0M1290.2 214h0M1313.2 236.6h0M1496.1 296.5h0M1369.6 257h0M1364.8 410.6h0M1407.7 313.8h0M1349.5 261.6h0M1302.1 203.4h0M1407.5 177.4h0M1369.3 189.3h0M1407.8 146.6h0M1328.8 252.2h0M1350.4 244.1h0M1288 192.1h0M1428.9 329.6h0M1337.4 253.2h0M1335 253.4h0M1387.9 173.7h0M1349.9 290.9h0M1431.7 213.9h0M1289.7 271.4h0M1388.1 190.8h0M1407.8 247.5h0M1365.1 196.6h0M1288.1 160.4h0M1349.9 286.6h0M1339 263.7h0M1313.4 275.3h0M1335.2 164.5h0M1338.3 161.8h0M1427.8 241h0M1331.6 267.1h0M1313.8 217h0M1289.8 196.6h0M1287.7 232h0M1290.1 203h0M1313.1 231.8h0M1334.2 233.4h0M1367.2 291.3h0M1410.3 287.8h0M1329.1 248.6h0M1368.1 261.2h0M1296.4 201.1h0M1366.1 267.8h0M1350.3 285h0M1358.6 222h0M1326.4 257.5h0M1288.5 213.2h0M1303.5 251.1h0M1300.9 204.4h0M1287.3 250.7h0M1334.6 193.2h0M1290 272.9h0M1296.3 195.8h0M1287.4 163.8h0M1287.6 232.7h0M1296.7 150.3h0M1369 236.9h0M1408.8 372.3h0M1334.8 233.3h0M1296.6 224.4h0M1358.2 192.5h0M1287.2 257.5h0M1291 184.6h0M1289.4 211.9h0M1430 412.9h0M1303.3 207.9h0M1342.6 194.2h0M1368.5 212.3h0M1327.3 215.7h0M1430.8 253.3h0M1365.9 300.1h0M1387 221.6h0M1313.4 239.4h0M1430.7 331.4h0M1303.5 178.2h0M1349.4 264.2h0M1406.7 232.8h0M1335.5 190.7h0M1368 235.3h0M1430.5 363.6h0M1329.2 195.8h0M1430.7 305.2h0M1291 177.2h0M1329.8 261.9h0M1326.7 238.8h0M1289.3 214.8h0M1296.4 196.7h0M1342 177h0M1338.4 187.7h0M1313.5 172.1h0M1342.7 188.8h0M1408.7 235.3h0M1330.4 206.2h0M1340.7 295.6h0M1384.9 300.7h0M1338 244.3h0M1429.1 146.9h0M1302.3 198.3h0M1431 323.6h0M1386.8 217.6h0M1387.6 193.3h0M1385.2 182.4h0M1334.3 190.2h0M1331.6 180.4h0M1339.2 158.1h0M1288.4 216.9h0M1338.4 218h0M1289.4 222h0M1287.4 257.8h0M1334.5 189.7h0M1340.8 217.3h0M1288.1 154.9h0M1432.2 181.8h0M1295.9 202h0M1290.8 211.5h0M1358.5 174.3h0M1337.9 266.7h0M1334.9 201.7h0M1301.4 165.2h0M1364.2 295.1h0M1329.6 161.9h0M1290.9 232.3h0M1409.4 154.3h0M1302.5 194.5h0M1336.1 141.1h0M1301.1 210.2h0M1384.7 184.3h0M1332.3 174.9h0M1429.1 287.1h0M1289.2 167.9h0M1336.5 285.6h0M1495.1 257.2h0M1329.4 201.6h0M1327.8 251.2h0M1288.2 210.5h0M1336.3 183.9h0M1338.5 212.4h0M1303.8 215.3h0M1301.2 222.6h0M1301.1 201.2h0M1407.4 183.7h0M1408.2 233.9h0M1288.7 212h0M1290.8 170.5h0M1367.3 404.6h0M1408.8 162.1h0M1428 175.3h0M1300.8 175.2h0M1432.8 338.6h0M1326.8 130.7h0M1291 245.4h0M1350.3 158.9h0M1290.6 198.1h0M1349.7 167.1h0M1289.2 205.4h0M1333.7 234.2h0M1369.8 243.6h0M1302.8 250h0M1431.3 339.8h0M1287.6 236.6h0M1496.9 285.3h0M1289.5 194.9h0M1313.7 228.5h0M1330.3 171.7h0M1367 270.4h0M1494.7 277.6h0M1367.5 215.4h0M1290.2 213.6h0M1493.4 369h0M1386.3 281.7h0M1369 298.4h0M1331 235.4h0M1327 224h0M1327.6 165.4h0M1366 233.2h0M1384.4 142.4h0M1327 201.7h0M1408 124.8h0M1289.5 174.5h0M1364.5 197.8h0M1302.6 247.6h0M1296.6 199.5h0M1365.1 268.2h0M1358 206.4h0M1287.5 195.4h0M1407 252.8h0M1367.2 225.1h0M1302.8 233h0M1339.6 277.4h0M1288.5 209h0M1326.2 213.4h0M1341.4 175.9h0M1290.9 206.1h0M1428.9 223.8h0M1429.4 300.4h0M1495.3 236h0M1369.5 306.7h0M1288.2 159.5h0M1428.4 181.4h0M1290.8 150.4h0M1369.7 305.5h0M1359 266h0M1366.3 312.1h0M1358.2 231.7h0M1332.9 168h0M1334 128.9h0M1388.1 233.4h0M1496.4 370.5h0M1336.2 153.6h0M1350.3 235.8h0M1369.3 244.1h0M1495.4 179.6h0M1313.3 248.2h0M1368.6 254.5h0M1340.3 213.7h0M1387.8 163.6h0M1327.4 154.2h0M1349.8 204.5h0M1290.4 219.9h0M1290.3 184.8h0M1349.9 171.6h0M1342.2 198.3h0M1326.5 210.3h0M1302.7 226.9h0M1410.1 173.4h0M1301.4 250.2h0M1300.6 210.4h0M1333.9 264.5h0M1432.7 213h0M1335.3 193.2h0M1301.5 215.4h0M1367.1 354.6h0M1302.8 132.9h0M1342.5 231.7h0M1339.7 263.6h0M1341.4 265.7h0M1364.2 243.6h0M1334.6 132.6h0M1428.6 207h0M1368.6 281.8h0M1335.7 193h0M1367.3 158.9h0M1370.3 209.4h0M1289.2 155.7h0M1287.4 229.1h0M1369.1 223.7h0M1326.5 259.8h0M1408.3 334.1h0M1337.3 190.3h0M1349.6 256h0M1335.6 238.8h0M1301.9 123.6h0M1330.9 231h0M1289.5 253.4h0M1431.3 252.5h0M1408.7 217.2h0M1329.7 191.5h0M1384.5 274.7h0M1365.9 245.1h0M1313.9 217.6h0M1366.1 177.4h0M1339.4 268.7h0M1333.3 216.5h0M1336.2 266.5h0M1349.3 213.3h0M1496.4 196.7h0M1342 269.5h0M1349.6 187.5h0M1337.2 256.5h0M1364.8 241.4h0M1349.2 225.3h0M1288.4 206.6h0M1302.6 193.4h0M1493.6 387.3h0M1407 225.5h0M1327.6 207.4h0M1408.8 274.8h0M1497.1 378.6h0M1303.2 201.7h0M1349.9 244.5h0M1428.8 324.4h0M1497.1 218.8h0M1340.4 202.6h0M1337.7 197.5h0M1330.9 174.1h0M1334.2 240h0M1369.4 250.3h0M1368.4 259h0M1365.8 352.8h0M1303.4 183.8h0M1289.5 229.7h0M1331 178.7h0M1369 218.2h0M1409.9 269.4h0M1364.4 219.6h0M1367.1 253.1h0M1296.3 185.9h0M1497.1 425.2h0M1329.7 200.1h0M1432.7 247h0M1290.2 150.8h0M1408.1 255.1h0M1432.6 375.1h0M1349.5 296.9h0M1369.9 222.9h0M1296.7 196.3h0M1335.7 198.7h0M1328.2 168.3h0M1303.9 139.9h0M1332.1 210.2h0M1338.6 220.5h0M1342.3 211h0M1368.9 170.7h0M1291 214.3h0M1290.2 218.2h0M1336.7 192.3h0M1369.4 252h0M1369.5 255.4h0M1287.7 212.3h0M1333.4 196.1h0M1366.5 182.3h0M1302.8 255.6h0M1369.3 195.6h0M1326.7 158.2h0M1408.1 174h0M1349.1 230h0M1335.9 265.4h0M1340.7 222.5h0M1335.9 176.7h0M1313.8 184.5h0M1331.2 264.1h0M1370 296.9h0M1367.2 286.4h0M1301.1 266.3h0M1332.2 174.1h0M1408.4 331.2h0M1342 172.1h0M1432.4 273.3h0M1287.5 223.6h0M1340.3 170.7h0M1358 214.1h0M1367.1 220.5h0M1349.4 257.1h0M1429.7 306.4h0M1386.7 327.8h0M1332.2 219.9h0M1368 209.1h0M1330.3 183.9h0M1386.6 297.7h0M1332.6 220.7h0M1349.8 276.2h0M1290 208.6h0M1296.3 241.9h0M1342.4 210.9h0M1303 225.3h0M1328.4 221.5h0M1328.1 228.5h0M1313.1 233.5h0M1493.1 352.6h0M1332.1 232.4h0M1313.8 219.4h0M1295.8 248.4h0M1288 210.2h0M1430.4 297.2h0M1369.4 177.1h0M1388.4 197.1h0M1493.9 289.1h0M1407.8 295.7h0M1369.8 234.7h0M1335.2 199.6h0M1301.7 219h0M1366.5 239.6h0M1302.8 152.2h0M1367.5 230h0M1300.8 233.3h0M1384.5 213.4h0M1369 259.9h0M1358.3 188.7h0M1340.5 177.1h0M1301.3 170.6h0M1288.2 205.4h0M1329.8 202.8h0M1335 230.7h0M1369.3 305.2h0M1387.7 292.1h0M1303.2 216.2h0M1327.1 212.2h0M1492.1 343.3h0M1349.9 195.2h0M1302.3 176.1h0M1387.9 305.2h0M1492.1 486h0M1369.7 265.6h0M1300.7 205.4h0M1334.6 228.2h0M1303.3 234.7h0M1408.3 341.5h0M1492.2 299.8h0M1338.6 275.3h0M1288.4 261.4h0M1408.1 145.2h0M1369.1 246.6h0M1302.6 232.7h0M1494 242.8h0M1386.9 250.2h0M1328.9 253.4h0M1427.6 300h0M1367.5 307h0M1349.5 218.3h0M1288.3 163.4h0M1290.4 195h0M1387 314.3h0M1330.3 255.7h0M1327.1 182.1h0M1337.2 285.9h0M1335.7 135.4h0M1333.1 275.5h0M1339.6 222.9h0M1302.8 191.9h0" stroke="#1f6f9b" stroke-opacity="0.62" stroke-width="4.3" stroke-linecap="round" fill="none"/>
<path d="M1445.4 211h0M1784.7 356h0M1637 292.3h0M1419.7 312.6h0M1631.7 424.1h0M1378.8 240h0M1761.5 471h0M1451 347.7h0M1460 252.5h0M1590 209.4h0M1507.5 301.1h0M1646.7 465h0M1458.8 244.8h0M1443.6 140h0M1375.6 245.8h0M1784.7 370h0M1378.3 261.7h0M1456.8 234.4h0M1442.4 186.6h0M1524.1 305.6h0M1453.5 269.4h0M1637 329.5h0M1375.2 199h0M1449.3 218.5h0M1462.6 330.3h0M1388.9 188.1h0M1442.2 172.7h0M1421 218h0M1583.5 398.4h0M1377 223.5h0M1451.9 129.4h0M1761.5 326.5h0M1440.1 342.9h0M1441.8 402.1h0M1442.6 306.2h0M1458.4 329.3h0M1389.1 292.6h0M1631.7 348.1h0M1447.4 324.4h0M1393.2 305.9h0M1543.9 325.6h0M1608.2 296.7h0M1375.2 237.9h0M1461.7 282.4h0M1390 216.9h0M1631.7 320h0M1394.8 312.3h0M1448.4 201.2h0M1460.9 339.7h0M1514.7 205.9h0M1448.7 304.5h0M1377.7 215.9h0M1402 258.5h0M1391.2 245.8h0M1391.5 319.8h0M1521.2 273.2h0M1465.4 328.9h0M1400.5 235.5h0M1402.2 259.7h0M1514.7 328.2h0M1641.9 189.5h0M1601.7 354.5h0M1420.9 290.6h0M1471.1 343.7h0M1398.8 219.8h0M1396.2 264.9h0M1450 259.3h0M1798.5 511.3h0M1394.3 329.3h0M1466.5 298.8h0M1527 311.7h0M1646.7 212.4h0M1452 291.7h0M1458.9 327.1h0M1440.9 275.8h0M1590 158.1h0M1798.5 652.6h0M1393.7 215.4h0M1531.3 413.2h0M1416.8 193.2h0M1459.8 242.2h0M1448.8 363.3h0M1520.1 248h0M1458.8 318.3h0M1459.7 372.5h0M1378.6 222.2h0M1452.9 341.2h0M1376.1 298.1h0M1784.7 311.4h0M1400.6 245.2h0M1776 469.1h0M1637 246.5h0M1389.9 183h0M1536.2 272.6h0M1377.4 229.4h0M1400.3 229.5h0M1449.3 264.4h0M1471.5 256.9h0M1464.1 122.8h0M1466.3 404.9h0M1454.2 368.9h0M1415.6 238.6h0M1458.9 285.6h0M1379.4 93.1h0M1378 141.4h0M1455 325.7h0M1391.1 186.9h0M1536.1 435.1h0M1462.7 244.2h0M1450.1 172h0M1462.8 408.5h0M1376.2 141.2h0M1443.7 191.2h0M1394.9 285.8h0M1391.5 263h0M1769 458.7h0M1501.8 208.8h0M1420.4 202.1h0M1420.2 357.8h0M1375.8 252.8h0M1460.5 285.4h0M1398.5 191.9h0M1442.9 327.5h0M1393.8 199h0M1459.6 365.4h0M1444.2 211.2h0M1626.9 288h0M1390.7 247.9h0M1389.6 220.1h0M1389.9 188.6h0M1524.5 297h0M1468.1 388.2h0M1376.6 212.3h0M1396 296.9h0M1501.2 347.6h0M1595.6 194.5h0M1402.2 277.3h0M1524 376h0M1375.5 257.6h0M1525.8 143.4h0M1394.5 267.5h0M1379.5 264.1h0M1565.6 150h0M1546.9 232.1h0M1389.7 199.3h0M1501.5 260.6h0M1504 222h0M1448.6 240.4h0M1401.1 276.1h0M1397.9 270.7h0M1374.6 299.1h0M1398.2 278.3h0M1378.6 238.9h0M1375.6 279.9h0M1524.5 301.4h0M1560.8 258h0M1472.5 350.8h0M1517.3 146.5h0M1446.3 226.5h0M1784.7 297.2h0M1461.1 170.4h0M1392.5 204.7h0M1391.6 208.3h0M1469.7 309.1h0M1399.1 126.1h0M1451 312.3h0M1379.2 184.5h0M1520.1 320.9h0M1506 325.5h0M1560.8 307.2h0M1761.5 325.3h0M1453.6 234.3h0M1784.7 355.9h0M1516.7 181.2h0M1466.8 258.1h0M1449.9 266.8h0M1626.9 505.5h0M1637 223.6h0M1507.9 348.1h0M1463.4 257.2h0M1379.1 87.4h0M1445.8 375.1h0M1400.7 148.1h0M1374.6 154.4h0M1397 272.8h0M1798.5 506.5h0M1444.3 249h0M1379.3 272.3h0M1379.3 264.6h0M1469.4 359.9h0M1396.2 227.4h0M1784.7 527.2h0M1459 215.4h0M1646.7 347.2h0M1520.4 351.9h0M1376.8 303.9h0M1417.6 177.6h0M1552 272.6h0M1390.5 243.2h0M1516.9 286.5h0M1463.9 352.6h0M1458.9 349.3h0M1462.4 334.8h0M1455.1 215.1h0M1511.6 292.6h0M1520.2 153.4h0M1375.8 172.3h0M1608.2 233.1h0M1505 270.2h0M1440.4 394.5h0M1514.5 289.1h0M1400.6 333.5h0M1460 157.9h0M1398 273.5h0M1379.1 247.5h0M1601.7 185.8h0M1389.3 183.2h0M1595.6 220.1h0M1446.6 292.3h0M1378.5 196.1h0M1467.3 271.3h0M1455.9 229.8h0M1454.7 367.6h0M1452.6 281.7h0M1398.8 317.2h0M1469.4 400.6h0M1545.9 244.8h0M1379.1 186.4h0M1375.3 131.3h0M1595.6 201.6h0M1776 287.9h0M1400 193.8h0M1452 179.5h0M1416.1 184.7h0M1374.6 292.5h0M1392.1 279.3h0M1416.7 219.1h0M1798.5 340.7h0M1393.6 280.4h0M1463.6 270.4h0M1443.2 367.8h0M1523.3 257.6h0M1415.7 263.9h0M1396.7 275.2h0M1524.3 187.9h0M1500.9 404.4h0M1391.6 208.5h0M1461.9 201.2h0M1397.1 302.9h0M1761.5 301.9h0M1522.3 261.4h0M1455.5 152.8h0M1465.6 344h0M1452.2 244.2h0M1769 444.7h0M1522.3 294h0M1375.3 234h0M1466.9 343.5h0M1583.5 279.1h0M1546.9 268.8h0M1376.6 127.5h0M1505.4 253.7h0M1399.3 244.6h0M1546.9 289h0M1458 325.6h0M1608.2 326.7h0M1391 217.5h0M1560.8 250.5h0M1395.7 235.8h0M1529.3 357.2h0M1395.5 228.1h0M1583.5 378.9h0M1526.1 344.8h0M1458.8 365.6h0M1394.8 195.5h0M1377.6 175h0M1375 299h0M1590 202.2h0M1463.3 217.5h0M1447.8 195.8h0M1414.5 327.4h0M1378 235.9h0M1505.1 134.2h0M1375.2 208.3h0M1397.6 254.9h0M1595.6 440.7h0M1463.3 265.1h0M1421.9 205.9h0M1375.2 298.6h0M1392.8 198h0M1467.2 244.1h0M1798.5 420.8h0M1392.9 181.7h0M1798.5 192.6h0M1769 254.1h0M1457.5 172.7h0M1552 298.3h0M1393.6 151.7h0M1420.5 235.3h0M1465.8 343.1h0M1377 226.6h0M1459.6 126.6h0M1378.3 190.7h0M1398.4 308.4h0M1389.5 166.9h0M1375.6 144.8h0M1518.6 427.8h0M1399.2 191.2h0M1443.7 169.5h0M1415.6 172.6h0M1449 238.8h0M1513.8 187.3h0M1445.7 307h0M1374.5 183.7h0M1396.3 264.5h0M1509.4 373.7h0M1414.6 322.9h0M1519.6 408.1h0M1379.8 224h0M1459.7 295.8h0M1467.9 241.2h0M1377.8 188.4h0M1376.2 132.5h0M1398.5 294.7h0M1601.7 208.8h0M1402.1 282.7h0M1452.5 347.7h0M1389.6 294.8h0M1378 279.7h0M1461 146.8h0M1637 395.6h0M1462.7 331.7h0M1391 163.7h0M1456 202.1h0M1456.3 194.7h0M1590 207.8h0M1458.5 363.4h0M1440.9 304.3h0M1389.4 199h0M1601.7 207.8h0M1601.7 475.4h0M1449.5 310.3h0M1465.1 399.7h0M1396.8 288h0M1637 474.3h0M1441.3 275h0M1508.1 353.3h0M1590 214.3h0M1442 325.5h0M1534.4 224.6h0M1390.4 234.2h0M1626.9 220h0M1470.9 257.2h0M1393.4 213.9h0M1444.4 239.6h0M1464.1 232.5h0M1525.9 299.6h0M1637 478.5h0M1401.7 197.1h0M1583.5 381h0M1471.5 149h0M1541.7 349.9h0M1539.8 300.8h0M1471.8 251.2h0M1394 258.8h0M1504 269.9h0M1540.1 245.8h0M1631.7 457.3h0M1590 368.5h0M1466 170.7h0M1458.9 157.3h0M1454.1 319.3h0M1462.2 304.3h0M1391.5 295.6h0M1444.9 322.3h0M1401.2 277.4h0M1468.1 361.8h0M1761.5 302.7h0M1641.9 497.5h0M1456.4 231.6h0M1626.9 202.5h0M1421.9 310.3h0M1447.9 284.5h0M1421.8 214.4h0M1396.4 288.9h0M1646.7 331.4h0M1608.2 371.1h0M1377.8 244.8h0M1378.2 236.7h0M1545.8 279.7h0M1377.4 135.8h0M1583.5 443.9h0M1376 234.8h0M1595.6 157.7h0M1769 412.3h0M1506.7 399h0M1461.4 403.6h0M1450.2 331.6h0M1448.2 260.8h0M1468.3 227h0M1534 192.4h0M1513.4 411h0M1536.1 262.5h0M1769 366.8h0M1401.7 299h0M1390.2 235h0M1392.1 225.9h0M1525 458.8h0M1446.6 266.1h0M1439.1 375.9h0M1394.5 267.7h0M1392.1 183.7h0M1516.4 183.6h0M1541.8 374.6h0M1461.7 199.6h0M1394.8 195.9h0M1608.2 388.3h0M1400.3 224.9h0M1552 255h0M1472.1 313.7h0M1761.5 428.6h0M1454.5 170.3h0M1378 153.1h0M1471.7 171.4h0M1375.8 227h0M1798.5 389.7h0M1608.2 378.6h0M1454.5 275.4h0M1501.7 392.6h0M1769 488.2h0M1530.4 334.2h0M1500.5 403.7h0M1419.4 276.1h0M1376.1 125.3h0M1608.2 346.5h0M1391.4 196.9h0M1418.7 324.3h0M1394.9 166.2h0M1442.1 290.3h0M1590 424.6h0M1414.5 294.4h0M1769 495.7h0M1376.7 185.2h0M1529.3 378.4h0M1471.1 211.8h0M1631.7 473.9h0M1517.8 262.6h0M1390.1 257.3h0M1438.8 159.6h0M1461.7 345.2h0M1518.5 420.9h0M1448 323h0M1560.8 340.7h0M1517 231.4h0M1391.7 174.3h0M1467.2 230.5h0M1510.6 314.6h0M1464.3 353.5h0M1761.5 532.6h0M1451.4 315.8h0M1512.1 254.1h0M1513.1 377.3h0M1641.9 386h0M1400.3 131.7h0M1523.8 315.1h0M1637 393.9h0M1456.5 333.1h0M1391.1 202.4h0M1390.4 255.4h0M1397.5 149.2h0M1505.3 368.3h0M1453.9 404.5h0M1641.9 187h0M1397.8 172h0M1389.5 303.5h0M1391.6 173.3h0M1637 188.7h0M1462 294.2h0M1399.5 219.1h0M1395.5 280.4h0M1442.7 352h0M1590 204.8h0M1402.2 185.3h0M1391.9 232.6h0M1532.8 385.5h0M1646.7 455.3h0M1395.3 330.4h0M1389.8 249.9h0M1441.9 374.7h0M1590 437.7h0M1390.7 185h0M1447 256.9h0M1590 349.1h0M1391.8 328.5h0M1376.1 229.2h0M1590 349.7h0M1522.8 284.5h0M1631.7 451.2h0M1533.8 477.4h0M1438.8 199h0M1442.4 357.1h0M1513 312h0M1776 319.6h0M1528.1 239.4h0M1375.3 262.7h0M1449.5 226.6h0M1470.4 240.1h0M1769 319.2h0M1529.7 321.8h0M1465.3 136.8h0M1417.3 307.7h0M1502.5 148.4h0M1456.8 182.1h0M1506 256h0M1519.7 400.4h0M1448.8 265.5h0M1395.4 180.4h0M1521.1 254.6h0M1439.3 332.9h0M1583.5 422.8h0M1389.5 227.3h0M1637 400.1h0M1393.3 283.2h0M1590 153h0M1528 406.3h0M1502.3 249.5h0M1390.3 203.8h0M1532.2 371.9h0M1398.9 303h0M1446.2 375.8h0M1402 213.4h0M1465.9 164.2h0M1601.7 335.8h0M1442.4 332.5h0M1447.1 261.6h0M1421.4 294.7h0M1505.2 405.8h0M1442.4 255.5h0M1631.7 290.9h0M1465.3 389.9h0M1537.3 317.9h0M1375.1 165.1h0M1377.3 201.4h0M1444 290.7h0M1504.7 313h0M1520 320.5h0M1464.9 317.2h0M1396.4 275h0M1539.3 307.8h0M1392.8 196.6h0M1456.2 375h0M1608.2 385.3h0M1468.6 282.1h0M1444.3 298.8h0M1377.7 197.3h0M1379.2 192.4h0M1524.2 176h0M1536.8 335.5h0M1583.5 481.5h0M1626.9 444h0M1528.8 336.7h0M1396.8 254.5h0M1402.1 143.5h0M1393.9 299.7h0M1523.9 238.8h0M1397 281.6h0M1392 247.9h0M1509.7 244.9h0M1379.2 151.4h0M1401.5 265h0M1396.2 210.6h0M1377.7 279.9h0M1459.1 262.4h0M1761.5 354.4h0M1375.6 278.3h0M1374.9 186h0M1445.7 248.5h0M1379.6 139.9h0M1583.5 355.3h0M1378 232.9h0M1468.6 276.6h0M1769 289.7h0M1378.3 155.6h0M1417.3 357.9h0M1453.4 349.2h0M1458.3 310.1h0M1377.5 165.3h0M1445 220.8h0M1463.9 243h0M1521.1 334.4h0M1530.6 270.1h0M1445 367.8h0M1451.4 326.6h0M1518.8 297h0M1448.9 327h0M1392.5 155.3h0M1375.8 272.9h0M1595.6 330.9h0M1376.6 142h0M1452.6 322.3h0M1389.2 152h0M1456.1 346.9h0M1416.5 325.1h0M1608.2 269.9h0M1401 206.5h0M1583.5 341.2h0M1416 318.3h0M1534.3 270.4h0M1595.6 379.6h0M1517.3 339.8h0M1470 152.7h0M1444.3 218.8h0M1769 299.1h0M1449.9 120.7h0M1467.5 300h0M1442.2 341.2h0M1399.1 235.8h0M1583.5 182.2h0M1442 237.7h0M1376.2 270h0M1461.4 235.1h0M1398 250.1h0M1458.6 222.9h0M1527.7 377.7h0M1450.9 357.4h0M1507 237.5h0M1445.5 325.4h0M1458.3 215.1h0M1398.9 230.1h0M1626.9 431.3h0M1515.1 249.3h0M1391.8 284.6h0M1379.8 181.8h0M1376 127.3h0M1377.8 238.3h0M1393.8 191.6h0M1463.3 183.2h0M1419.5 306h0M1396.9 306.9h0M1595.6 367.4h0M1503.8 244.6h0M1400.4 293.9h0M1461.3 262h0M1400.6 242.6h0M1519.9 378.4h0M1399.6 309.4h0M1626.9 360.4h0M1421.9 229.5h0M1631.7 449.4h0M1399.5 250.6h0M1546.9 251.3h0M1449.1 329.4h0M1377.7 221.2h0M1508.2 408.9h0M1523.7 382.5h0M1454.4 270.6h0M1402.6 193.1h0M1377.6 249.4h0M1393.8 288.2h0M1502.3 305.7h0M1395.1 131.3h0M1374.6 254.6h0M1463.4 313.2h0M1641.9 227.5h0M1465.1 279h0M1376.3 134.7h0M1390.2 237.6h0M1444.2 232.7h0M1556.8 257.8h0M1520.5 290.8h0M1456.7 259.7h0M1395.4 223.1h0M1416.9 249.4h0M1397.7 237.6h0M1395 174h0M1451.8 145.2h0M1464.4 218.9h0M1442.1 198.7h0M1450.9 275.3h0M1448.9 228.8h0M1601.7 391.3h0M1376.2 248.2h0M1402.1 216.8h0M1590 415.4h0M1631.7 479.2h0M1375.8 270.5h0M1527.2 214.8h0M1461.9 147.3h0M1398.1 213.6h0M1776 330.3h0M1389.6 312.5h0M1375.5 205.6h0M1460.4 307.4h0M1504.6 270.7h0M1402.7 265.8h0M1641.9 403.7h0M1552 201.2h0M1442.6 307.5h0M1440.4 221.2h0M1379.6 249.5h0M1440.3 218h0M1514.8 214.3h0M1451.6 239.2h0M1519.2 340.3h0M1459.9 292.8h0M1394.4 167.1h0M1397.1 158.4h0M1376.5 237.6h0M1443.9 339.9h0M1462 168.5h0M1471.5 307.7h0M1509.6 230.1h0M1515.2 149.1h0M1456.1 378.8h0M1560.8 221.5h0M1469.1 318.6h0M1444.2 161.5h0M1379.7 129.2h0M1374.7 207.7h0M1377.3 182.4h0M1377.1 124.5h0M1507 247.8h0M1583.5 270.6h0M1784.7 415.2h0M1391.8 246h0M1458.4 292.7h0M1608.2 446.2h0M1595.6 257.1h0M1391.1 283h0M1390.8 299h0M1536.9 364.4h0M1513.3 233.7h0M1447.9 367.8h0M1546.9 51.2h0M1396.9 178.1h0M1521.5 265.3h0M1390.9 170.3h0M1524.5 221.9h0M1601.7 436.8h0M1392.5 275.9h0M1507.2 251.2h0M1441.9 204.3h0M1390.2 250.1h0M1595.6 454.1h0M1469.7 194.3h0M1398.5 241.4h0M1421.3 299.1h0M1472 282.5h0M1454.7 277.3h0M1454.7 270.9h0M1396.2 249.6h0M1626.9 398.2h0M1378.2 98.3h0M1375.3 240.1h0M1443.5 245.2h0M1402.1 299.2h0M1391.1 218.1h0M1509.2 244.1h0M1379.6 279.1h0M1377.7 292.4h0M1465.4 328.2h0M1505.8 240.8h0M1447.5 344.6h0M1503.3 372.3h0M1401.9 172.7h0M1560.8 229.1h0M1637 409h0M1378.9 216.6h0M1506.5 236.3h0M1392.8 218.6h0M1769 474.6h0M1552 407.5h0M1399.7 284.9h0M1798.5 417.2h0M1501.4 175.2h0M1379.5 233.9h0M1461.9 299.8h0M1464.2 294.8h0M1543.3 264.1h0M1784.7 403.4h0M1418.7 273.6h0M1399.4 318.2h0M1784.7 361.5h0M1378.7 136.3h0M1626.9 483.9h0M1583.5 470.2h0M1446.8 295.3h0M1590 384.7h0M1458.9 111.7h0M1601.7 286.9h0M1377.6 223.6h0M1533.5 294h0M1513.1 354h0M1463.7 392.9h0M1560.8 265.9h0M1389.2 190.9h0M1608.2 285.5h0M1379.8 292h0M1446.5 343.2h0M1402.7 273.3h0M1508.9 264.6h0M1378.5 129.9h0M1441.4 141.4h0M1375.1 113.2h0M1396.1 242.5h0M1466 168.7h0M1465.9 344.4h0M1379.3 205.7h0M1378 197h0M1444.9 229.6h0M1590 328.9h0M1784.7 451.3h0M1451.6 141.5h0M1769 197.4h0M1448.5 250.4h0M1507 289.4h0M1595.6 324h0M1402.3 170.7h0M1378.9 143.6h0M1519.5 296.1h0M1544.1 362.6h0M1514.6 308.8h0M1546.9 360.7h0M1467.2 366.8h0M1441.3 363h0M1441.1 356.9h0M1464.5 294.7h0M1394.9 156.7h0M1446.8 376.8h0M1392.4 300.8h0M1451.3 397.2h0M1519.7 295.1h0M1519.4 208.7h0M1374.7 260.5h0M1395.4 184.4h0M1394.8 213.2h0M1546.9 275.6h0M1390.8 257.7h0M1454.4 298.8h0M1516 285h0M1398 145.7h0M1465.9 287.3h0M1452.3 265.8h0M1444.9 222.1h0M1392.7 284h0M1528.1 198.4h0M1776 118.7h0M1392.4 292h0M1525.8 317h0M1379.3 170.2h0M1453.4 262.8h0M1377.4 223.9h0M1470.3 301h0M1518.4 347.4h0M1546.9 321.2h0M1419.7 224h0M1535.7 306.7h0M1452.5 330.3h0M1465.1 232h0M1374.9 176h0M1397.3 166.5h0M1376.6 231.1h0M1590 207.2h0M1467.4 294.7h0M1375.9 287.5h0M1447.5 225.2h0M1448 191.4h0M1461 319.2h0M1531.9 246h0M1590 285.3h0M1468.6 312.3h0M1560.8 168.2h0M1393.7 283.6h0M1525.4 328.4h0M1417.5 272.4h0M1394.6 260.5h0M1443.8 234.4h0M1506.1 233.5h0M1552 265.5h0M1455.7 272.6h0M1397 300.8h0M1537.7 223.9h0M1457.5 208.7h0M1441.6 283h0M1521.6 264.6h0M1447.4 168.7h0M1402.6 290.3h0M1377.2 206h0M1440.8 243.5h0M1417 188.5h0M1468.9 194.4h0M1378.5 148.5h0M1583.5 463.6h0M1641.9 235h0M1396.2 311.8h0M1527.9 272h0M1391.3 160.9h0M1394.9 247h0M1538.7 239.8h0M1395 183.8h0M1544.3 440.4h0M1505.2 381.4h0M1402.6 221.6h0M1522.6 306.4h0M1379.4 285.7h0M1414.9 177.9h0M1459.8 298.8h0M1527.8 321.7h0M1459.2 313.3h0M1516 284.8h0M1469 350.2h0M1533 434.7h0M1761.5 425.7h0M1513.7 404.7h0M1397.7 164.4h0M1444.2 341.7h0M1462 208.9h0M1452.7 259.1h0M1379.1 130h0M1397 214.9h0M1452.1 187.9h0M1525.7 306.6h0M1590 409.6h0M1379.2 200.2h0M1439 311.1h0M1468.7 345.7h0M1507.1 298.8h0M1460.4 215.1h0M1377.3 191h0M1467.8 343.3h0M1466 310.5h0M1375.4 135.6h0M1455.6 190.6h0M1401.8 194.2h0" stroke="#e0340a" stroke-opacity="0.64" stroke-width="4.3" stroke-linecap="round" fill="none"/>
<path d="M1386.4 206.6h0M1288.8 205h0M1366.4 307.8h0M1340.4 191.2h0M1328.1 148.2h0M1497.4 219.4h0M1296.3 170.8h0M1406.6 324h0M1350.4 218.5h0M1341.3 180.9h0M1365.6 186h0M1365.6 253.6h0M1336.2 204.9h0M1494.5 279.1h0M1313.4 215.6h0M1365.2 316.6h0M1359 196.6h0M1334 256.1h0M1349.2 177.5h0M1287.6 227h0M1430.2 250.8h0M1494.6 231.2h0M1386 278.1h0M1367.7 286.6h0M1407.9 203.3h0M1428.2 326.4h0M1349.5 189.3h0M1349.3 173.6h0M1332.1 240.8h0M1387.5 161.2h0M1407 238.3h0M1338.3 201.6h0M1369.1 243.7h0M1369.9 205.1h0M1287.5 173.1h0M1302.3 196.5h0M1332.9 244.1h0M1407.3 188.8h0M1332.8 284.7h0M1369 336.6h0M1335.1 288.1h0M1366.4 266.8h0M1290.1 191.1h0M1368.4 306.4h0M1332.5 238.5h0M1334.8 220.2h0M1330.2 215.8h0M1430.6 148.5h0M1496.5 266.5h0M1358.2 211.5h0M1387.7 308.6h0M1427.7 235.5h0M1290 184.3h0M1290.3 239.7h0M1340 170.8h0M1367.7 192.5h0M1301.3 249.2h0M1366.3 251.5h0M1327.3 247.6h0M1333 217.8h0M1370 292.4h0M1432.4 401.1h0M1386.9 249.5h0M1432.2 154.3h0M1432.2 293.1h0M1366.8 181.5h0M1409.1 174.3h0M1296.1 181.6h0M1365.1 197h0M1328.5 263.3h0M1364.3 190.6h0M1340.6 177.1h0M1303.1 207h0M1384.5 254.9h0M1349.1 162.8h0M1290.6 167.2h0M1359.2 241.1h0M1288.6 227.8h0M1387.4 212.7h0M1329.1 261.8h0M1349.4 293.7h0M1301.4 200.1h0M1369.7 233.9h0M1387.9 174.8h0M1340.8 135.2h0M1290.6 175.5h0M1358.8 235.5h0M1410.2 197.6h0M1409.5 267.3h0M1290.2 220.2h0M1493.1 283.6h0M1329.5 223.3h0M1290.5 230.6h0M1333.1 175.9h0M1336.4 267.5h0M1430.7 313.4h0M1312.8 198.5h0M1329.6 194.7h0M1332.7 180.6h0M1335.6 276.9h0M1295.8 185.9h0M1301.1 241.5h0M1296.1 213.9h0M1341.7 221.2h0M1494.5 135h0M1335.9 260.9h0M1349.2 227.5h0M1301.8 263.1h0M1370.2 306.7h0M1407.2 265.4h0M1332.4 244.4h0M1364.2 263.8h0M1432.7 246.8h0M1492.5 291.3h0M1496 243.2h0M1370.1 213.1h0M1296.5 211.1h0M1366.9 178.6h0M1328.7 195.9h0M1296.8 224h0M1288.4 250.9h0M1387 343.9h0M1366.2 277.9h0M1336.1 254.1h0M1427.8 276.6h0M1431.2 277.4h0M1368.3 219.2h0M1330.9 225.5h0M1495.5 206.1h0M1332.1 159.3h0M1497.2 232.6h0M1366.1 286.5h0M1497.7 331.7h0M1431.8 275.1h0M1288.8 209.9h0M1289.7 230.8h0M1304 158.5h0M1330.8 139.2h0M1302.1 189.8h0M1302.4 218.5h0M1302.5 224.2h0M1492.6 401.9h0M1296.2 183.1h0M1364.6 247h0M1303.5 250.8h0M1303.7 196.5h0M1335.2 111.4h0M1296.2 175.5h0M1327.1 193.7h0M1296.6 233h0M1335.5 264h0M1350.2 159.4h0M1365.6 207.5h0M1338.9 226.7h0M1328.5 186h0M1364.3 309.4h0M1290.2 171.5h0M1366.2 206.2h0M1304.1 171.3h0M1496.7 257.7h0M1366.6 225.1h0M1495.6 189.5h0M1366.5 258.6h0M1313.6 242.8h0M1369.2 279h0M1302.1 169.8h0M1366.7 282.4h0M1367.2 216.6h0M1295.8 189.9h0M1387.4 197h0M1387.5 201.7h0M1313.3 236.8h0M1301 206.3h0M1341.4 205.2h0M1338.6 265.2h0M1325.9 245.3h0M1334.5 168.4h0M1365.2 218.5h0M1495.6 397.7h0M1384.9 311.6h0M1335.9 181.2h0M1358.7 210.2h0M1408.2 202.6h0M1367.2 252.9h0M1386 176.2h0M1366.6 224.1h0M1302.9 273.8h0M1432.5 158.1h0M1341 261.3h0M1301.4 240.4h0M1326.9 193.3h0M1303.1 191.4h0M1288.1 186.5h0M1287.5 232.5h0M1328.7 264.8h0M1496.9 311.4h0M1339.2 164.5h0M1384.3 323.2h0M1329.3 135.6h0M1428.9 190.9h0M1492.1 310.7h0M1408.7 263.5h0M1330.4 236h0M1335.5 168.9h0M1290.9 202.2h0M1385.6 163.2h0M1497.4 254.3h0M1409.7 257.6h0M1407.4 270.6h0M1368.4 152.6h0M1325.8 221.1h0M1406.6 181.7h0M1336.2 264.6h0M1289.7 185.9h0M1295.7 211.8h0M1333.7 292h0M1428.7 252h0M1432.7 297.2h0M1303.3 228.1h0M1409.6 233h0M1340.8 242.7h0M1368.3 224.3h0M1313 213.5h0M1496.3 335.4h0M1333.9 309.8h0M1337.6 179.7h0M1288.9 176.4h0M1429.8 409.6h0M1302.1 237.8h0M1287.5 210h0M1331.6 220h0M1432.7 217.2h0M1350 187.9h0M1333.1 184.7h0M1336.7 200.7h0M1339.9 264h0M1337.3 175.1h0M1290.1 173.6h0M1336.4 155.9h0M1340.4 201.8h0M1296.3 195h0M1365.9 267.2h0M1333.2 203h0M1493.9 213.5h0M1334.3 283.7h0M1332.8 158.7h0M1337.8 202.9h0M1429.4 259.1h0M1349.3 207h0M1407.3 303.1h0M1385.2 270.6h0M1337.7 160h0M1367.2 262.5h0M1370.3 362.9h0M1290.5 236.6h0M1332.6 157.2h0M1386.9 239.9h0M1327.4 238.2h0M1406.7 210.4h0M1337 311.9h0M1359.1 256.9h0M1432.6 311.7h0M1349.3 203.6h0M1342.4 183.6h0M1339 177.7h0M1431.7 334.1h0M1334.1 277.5h0M1359.1 221.5h0M1287.6 246.2h0M1496.8 280.1h0M1313.2 211.3h0M1290.9 234h0M1386 237.8h0M1492 170.5h0M1301.1 217.9h0M1313.5 273.7h0M1497 210h0M1430.9 346.3h0M1303.6 235.6h0M1338.9 256.9h0M1332.5 156.6h0M1386.9 209.8h0M1430.4 325.1h0M1366.1 221.1h0M1367.7 226.1h0M1313.3 234.5h0M1332.6 230h0M1295.8 181.8h0M1495.9 292.4h0M1332 249.7h0M1431.1 342.8h0M1366 235.9h0M1494.6 261.5h0M1385.4 223h0M1358.9 260.7h0M1332.5 273.7h0M1287.6 244h0M1289.6 250.6h0M1409.5 220.6h0M1431.2 155h0M1338.8 159.5h0M1332.1 282.2h0M1339 208.4h0M1327.5 250.1h0M1301.2 235.6h0M1302.6 233.1h0M1497.1 217.5h0M1325.7 231.2h0M1431.8 303.4h0M1431.9 173.6h0M1364.3 208h0M1287.3 215.7h0M1492.1 224.5h0M1368.6 331.8h0M1370.2 180.1h0M1330.1 249h0M1369.8 192h0M1429 359.2h0M1289.8 211.9h0M1287.4 212.8h0M1388.1 221.6h0M1427.9 322.2h0M1429.7 293h0M1334 196.1h0M1334.4 220.2h0M1342.7 222.1h0M1289 220.4h0M1350.2 221.7h0M1386.1 157.1h0M1497.7 224.6h0M1497.6 201.3h0M1408.1 280.7h0M1494.7 279.3h0M1334.6 106.9h0M1359 240.6h0M1428.3 130.2h0M1301 196.7h0M1340.8 220.1h0M1335.7 174.1h0M1302.1 171.2h0M1328.1 260.6h0M1287.9 220.7h0M1429.2 236.3h0M1495.1 402.2h0M1326.1 206h0M1302.1 214h0M1350 167.4h0M1429.1 157.7h0M1387.6 236h0M1337.3 278.6h0M1329.5 234.7h0M1333.6 277.6h0M1289.9 218.9h0M1288 206.4h0M1494 225.8h0M1384.4 167.4h0M1341.4 228.1h0M1335.3 275.7h0M1350 240.2h0M1368.9 191.1h0M1288.9 249.5h0M1304 188.2h0M1366 304.4h0M1496.9 328.3h0M1300.9 226.7h0M1302.3 217.1h0M1406.5 254.6h0M1331.5 212.9h0M1428.2 216.9h0M1303.4 215.5h0M1287.3 166.7h0M1333.6 235.6h0M1301.5 234.5h0M1341.7 190.6h0M1365.6 249.2h0M1290.7 226.7h0M1496.9 239h0M1327.5 198h0M1491.8 252.2h0M1337.5 212.9h0M1335.3 217.4h0M1358.2 197h0M1334.8 228.7h0M1492.5 280.9h0M1290.3 241.4h0M1369.3 294.3h0M1289.9 272.2h0M1301.9 253.6h0M1335.5 212.5h0M1296.7 244.9h0M1385.2 221.5h0M1369.5 300h0M1302.1 225.2h0M1493 200.7h0M1369.4 254.7h0M1365 281.1h0M1494.1 204.6h0M1287.8 212.2h0M1409.8 252.7h0M1410 265.5h0M1386.4 271.6h0M1350.2 185.3h0M1429.1 296.8h0M1369.9 270.1h0M1302.1 215.1h0M1432.6 256.5h0M1431.2 290.9h0M1295.8 177.2h0M1387.6 136.4h0M1493.2 317.8h0M1431.8 228.3h0M1302.5 181h0M1326.6 175.2h0M1493.1 271h0M1492 223.4h0M1408.3 342.6h0M1331.1 221.5h0M1302.3 185h0M1301.4 172.3h0M1431.8 216.3h0M1296.2 177.1h0M1289.3 219.3h0M1364.5 229.3h0M1287.8 173.7h0M1494.4 136.2h0M1369.2 289.7h0M1408.5 275.2h0M1358.3 196h0M1295.8 177.2h0M1301.1 206.2h0M1494 255.3h0M1290.8 166.1h0M1496.8 238.6h0M1385.8 357.3h0M1497.6 371.1h0M1302.2 215.6h0M1331.6 317.1h0M1289.9 205.8h0M1327.6 237.5h0M1287.9 174.6h0M1364.9 143.5h0M1340 298.7h0M1493 429.9h0M1494.3 333h0M1334 259.2h0M1326.6 210.8h0M1290 254.8h0M1368.3 302.4h0M1494 301.9h0M1335.5 197.5h0M1291 254.1h0M1331.4 308.9h0M1295.6 230.9h0M1290.4 242h0M1330.3 193.8h0M1358.4 212.2h0M1340 233.5h0M1369.4 307.3h0M1497.3 412.4h0M1367.2 184.6h0M1333.2 267.6h0M1366.2 180.3h0M1332.7 183.9h0M1303.8 185.7h0M1336.5 155.5h0M1368.7 218.1h0M1295.7 217.2h0M1349.6 239.9h0M1304 205.5h0M1388.3 210.1h0M1303.6 225.1h0M1328.8 250.6h0M1369 193.1h0M1290 166.9h0M1302.6 164.5h0M1494.6 279.6h0M1341.8 196.7h0M1409.3 145.9h0M1330.8 191.9h0M1385.1 242.6h0M1301.8 236.4h0M1333 286.4h0M1329 196.8h0M1385.4 234.5h0M1339.1 195.4h0M1493.1 204.5h0M1337.6 222.3h0M1385.3 276.6h0M1337.3 160.7h0M1493.6 308.2h0M1326 251.7h0M1326.8 229.9h0M1303 177.6h0M1336.5 263.3h0M1492.2 367.1h0M1407 250.3h0M1408.7 203.9h0M1494.6 149.9h0M1494.7 403.1h0M1337.2 189.2h0M1364.5 248.4h0M1330.3 270.1h0M1349.6 309.5h0M1336.6 173.8h0M1431.8 217h0M1304 263.2h0M1408.3 345.5h0M1350.4 245.5h0M1388 146.6h0M1334.6 211.3h0M1358.1 228.1h0M1406.9 194.3h0M1290.4 261.7h0M1367.2 234.3h0M1407.4 165.6h0M1339.2 174h0M1326.1 244h0M1301.7 175.9h0M1364.6 259h0M1493.4 305.5h0M1367.4 224.5h0M1431.3 273.4h0M1303.1 178.2h0M1301.6 240.2h0M1339.9 168.1h0M1350.2 189.2h0M1288.9 175.9h0M1342.4 217.6h0M1313.7 237.2h0M1406.7 257.2h0M1296.5 211.9h0M1287.9 213.5h0M1408.1 289.2h0M1296.7 223.3h0M1496.5 294h0M1303 184.6h0M1349.2 222.6h0M1289.6 254.8h0M1368.8 254.6h0M1302.1 254.6h0M1289.8 231.1h0M1432.7 261h0M1290.3 208.3h0M1368.8 310h0M1304 175.7h0M1370 245.8h0M1289.9 180.6h0M1290.3 234.2h0M1388 314.7h0M1493.6 335.6h0M1289.2 181.7h0M1341.2 277.3h0M1409.5 226.1h0M1313 213.2h0M1300.6 231.9h0M1288.7 233.2h0M1385.1 145h0M1349.8 252.7h0M1369.5 259.9h0M1432 250.8h0M1325.7 226.3h0M1291.1 213.7h0M1495.7 367h0M1334 242.1h0M1368.8 233.6h0M1495.9 296h0M1303.5 187.5h0M1431.7 220.3h0M1492.6 209.9h0M1332 282.8h0M1336.2 152.8h0M1408 223.9h0M1388 260.4h0M1429.7 250.9h0M1336.6 245.9h0M1312.9 234.7h0M1406.7 311.7h0M1365.1 312.5h0M1336.3 266.7h0M1313.6 203.5h0M1296.1 174.4h0M1368.8 220.2h0M1350 213.6h0M1340 230.9h0M1303.6 161.9h0M1291 189.5h0M1328.7 200.5h0M1387.2 286.3h0M1349.1 254.9h0M1301 183.6h0M1368.4 280.1h0M1496 367.5h0M1350.3 240.2h0M1329.4 206.4h0M1359.1 272.2h0M1386.1 149.6h0M1364.9 227.7h0M1301.1 170.2h0M1329.4 217.2h0M1287.3 231.1h0M1407.8 222.2h0M1369.2 288.4h0M1358.8 248.3h0M1295.9 232.6h0M1496.3 226.4h0M1494 134.3h0M1368.9 387.7h0M1358.9 188.1h0M1335.7 239.2h0M1295.8 198.8h0M1494.1 319.6h0M1364.8 272.7h0M1336.6 269.7h0M1407.2 218.6h0M1296.7 174.8h0M1366.4 271.5h0M1365 194.1h0M1349.8 257h0M1367.7 254h0M1295.7 183.3h0M1301.9 252.1h0M1290.6 236.1h0M1296.3 188h0M1331.8 258.1h0M1337.9 201h0M1290.3 273.9h0M1369.8 210.1h0M1365.9 281.2h0M1313.9 186.9h0M1339.1 234h0M1387.7 253.6h0M1386 171.2h0M1495.4 212.7h0M1289 256h0M1328.3 180.7h0M1369.3 218.7h0M1385.5 241h0M1358.5 189.7h0M1385.5 158.5h0M1342.5 185.8h0M1364.5 276.6h0M1364.9 243.6h0M1329.9 260.3h0M1290.4 253.1h0M1428.2 292.6h0M1331.5 216.1h0M1337.4 285.1h0M1296.2 145.1h0M1358.5 260.9h0M1368.5 278.5h0M1302.3 221.6h0M1341 208.2h0M1386.2 278.9h0M1326.7 180.5h0M1333.2 157.7h0M1339.2 222.9h0M1302 239.6h0M1330.2 181.7h0M1290.8 258h0M1301.3 225.6h0M1428.1 400h0M1494.4 328.3h0M1370.4 199.3h0M1358.8 189.6h0M1494.2 255.9h0M1497.5 400.5h0M1326.4 215.6h0M1313.8 208.4h0M1329.5 182h0M1332.3 327.3h0M1342.6 216.4h0M1301.3 204.7h0M1287.6 162.4h0M1367.5 268.2h0M1301.7 189.8h0M1326 271.5h0M1328.1 213.5h0M1493.3 243.3h0M1301.7 239.3h0M1313.2 248.5h0M1368.2 235.9h0M1296.4 164.5h0M1407.6 264.6h0M1493.5 341.3h0M1303.4 218.7h0M1331.9 258.1h0M1327.5 181.3h0M1492.6 138h0M1493.2 222h0M1334.3 239.5h0M1313.4 204.2h0M1369.6 243.3h0M1428.2 252.4h0M1493.8 293.5h0M1296.6 240.8h0M1313.3 194.1h0M1336.3 252.3h0M1289 219.5h0M1349.4 258.1h0M1326.2 180.2h0M1335.4 200.8h0M1494.7 315.7h0M1431.1 232.9h0M1408.2 267.6h0M1290.9 200.9h0M1303.4 160.7h0M1349.7 220.5h0M1313 205.9h0M1494.8 194.6h0M1302.4 264.2h0M1494.9 151.7h0M1428.3 298.6h0M1407.4 352.1h0M1366.5 222.6h0M1431 172.2h0M1339.3 189.1h0M1336.5 209.3h0M1497.4 357.3h0M1364.6 140.3h0M1313.2 218h0M1289.4 203h0M1337.1 267.5h0M1303.9 272.7h0M1334.4 243.4h0M1326.3 297.6h0M1290.8 208h0M1431.1 325.1h0M1366.6 297.3h0M1295.8 182.7h0M1302 238h0M1334.9 253.9h0M1296.5 222.4h0M1384.8 132.4h0M1332.2 253.3h0M1325.8 244h0M1387.7 297.3h0M1364.8 182.7h0M1288.8 186.3h0M1350.3 219.6h0M1329.3 304.2h0M1303.7 205.2h0M1327.4 183.7h0M1290.8 156.1h0M1290.4 169.7h0M1368 231.6h0M1495.6 356h0M1296.2 197h0M1333.4 219.4h0M1364.3 199.1h0M1406.7 305.1h0M1333.2 157.7h0M1334.1 267.6h0M1290.4 197.3h0M1325.6 197.9h0M1332.3 246.3h0M1365.1 310.5h0M1290.6 252.6h0M1303.2 223.6h0M1331.4 182.4h0M1289.7 155.2h0M1367.4 228.7h0M1365.1 260.7h0M1295.6 212.4h0M1408.4 333.3h0M1386.2 312.9h0M1497.3 236.4h0M1368.2 226.2h0M1332.8 171.9h0M1287.5 272.7h0M1288.5 205.1h0M1358.2 211h0M1326 229.4h0M1494.2 277.7h0M1350 189.6h0M1332 289.8h0M1369.4 269.3h0M1349.5 189.6h0M1432.4 282.2h0M1494 293.9h0M1388.3 281h0M1290.4 227.3h0M1331.4 257.4h0M1349.7 197.4h0M1335.9 288.3h0M1342.3 296.4h0M1331.4 219.5h0M1301.9 262.3h0M1432.7 175.8h0M1368.4 249.6h0M1358.8 269.3h0M1304 137.1h0M1287.6 219.1h0M1342.8 197.4h0M1301.8 174.5h0M1326.8 158.9h0M1339.2 200.9h0M1495.2 333.6h0M1333 223h0M1431 208.3h0M1430.3 149.9h0M1290.4 161.3h0M1335.3 239.8h0M1368.5 251.1h0M1313.7 271.3h0M1301.5 235.8h0M1313.1 248.4h0M1364.6 188.5h0M1338.9 221.5h0M1369.1 226.6h0M1410 141.2h0M1290.1 165.6h0M1429.6 291.6h0M1288.8 231.4h0M1327.9 212.3h0M1301.4 216.3h0M1492.4 287.9h0M1303.2 187.7h0M1428.8 224.5h0M1303.4 174.7h0M1365.8 193h0M1330.4 223.8h0M1302.3 215.6h0M1386.6 285.4h0M1333.3 173.6h0M1494.5 303.5h0M1313.4 240.4h0M1409.6 331.4h0M1301.5 180.5h0M1300.5 189h0M1364.2 184.7h0M1386.9 195.4h0M1328.6 207.2h0M1495.4 380.9h0M1349.1 174h0M1364.6 178.9h0M1302.4 242.6h0M1367.4 202.4h0M1384.6 224.2h0M1386.4 296.3h0M1366.7 180.9h0M1301.6 183h0M1302.8 216.7h0M1326.4 209.1h0M1491.9 323.9h0M1387 230.1h0M1365 224.9h0M1431.8 250.7h0M1369.6 238.8h0M1349.7 201.4h0M1327.1 287.5h0M1289 189.5h0M1428.3 276.9h0M1429.1 246.5h0M1303.4 220.4h0M1494.8 414.4h0M1296.6 204.5h0M1342.2 192.4h0M1407.5 237.4h0M1364.5 245.4h0M1370.1 233.7h0M1368.4 408h0M1339.2 137.7h0M1431.6 285.2h0M1339.9 247.8h0M1339.8 289.7h0M1385.8 157h0M1428.3 227.3h0M1496.4 350.7h0M1430.8 218h0M1327.2 201h0M1408.1 339.6h0M1407 341.2h0M1290 181h0M1301.1 283.1h0M1341 206.7h0M1287.8 211.4h0M1287.8 188.4h0M1369.2 174.3h0M1296.2 212.3h0M1288 166.6h0M1386.9 119.3h0M1428.8 167.3h0M1327.9 205.9h0M1295.9 186.4h0M1350.3 208.9h0M1303 171.6h0M1358.4 218.5h0M1296.5 165.1h0M1304.1 198h0M1492.1 369.3h0M1334.1 217.2h0M1313.3 232.2h0M1387.6 151.5h0M1387 164.3h0M1296.5 203.6h0M1365.9 183h0M1493.5 356.8h0M1365.5 306.5h0M1387.9 205.9h0M1300.9 213.7h0M1406.9 346h0M1432.1 468h0M1335.3 297.6h0M1289.4 221h0M1364.8 288.8h0M1290.9 158.4h0M1493.8 255.5h0M1406.6 342.6h0M1287.9 244.6h0M1385.9 258.5h0M1385.2 316.3h0M1358.5 215.4h0M1296 194.2h0M1300.5 174.6h0M1290 171.1h0M1428.8 237.7h0M1329.1 217.6h0M1410 299.7h0M1335 244.9h0M1313.9 239.5h0M1367.5 307.6h0M1334.4 225.8h0M1494 386.6h0M1368.1 263.4h0M1492.7 375.6h0M1368.8 318.6h0M1430.1 405.1h0M1407.5 223.7h0M1364.4 392h0M1386.1 222.4h0M1291 166.4h0M1331.8 175h0M1368.7 240.9h0M1327.2 299.7h0M1301 254.1h0M1295.7 233h0M1329 225.3h0M1288.7 202.1h0M1430.2 242.3h0M1332.9 173h0M1494.8 302.9h0M1331.4 301.8h0M1495.8 362.7h0M1407.3 373h0M1289.6 256.8h0M1428.9 243.1h0M1340.3 133.2h0M1493.8 389.9h0M1289 193.5h0M1429.7 265.7h0" stroke="#1f6f9b" stroke-opacity="0.62" stroke-width="4.3" stroke-linecap="round" fill="none"/>
<polyline points="1281,216.1 1289.8,218.4 1298.6,220.8 1307.4,223.2 1316.3,225.7 1325.1,228.2 1333.9,230.7 1342.7,233.3 1351.5,235.8 1360.3,238.5 1369.1,241.1 1377.9,243.8 1386.8,246.5 1395.6,249.3 1404.4,252.1 1413.2,254.9 1422,257.8 1430.8,260.7 1439.6,263.6 1448.5,266.6 1457.3,269.6 1466.1,272.6 1474.9,275.6 1483.7,278.7 1492.5,281.9 1501.3,285 1510.2,288.2 1519,291.5 1527.8,294.7 1536.6,298 1545.4,301.4 1554.2,304.7 1563,308.1 1571.8,311.6 1580.7,315 1589.5,318.5 1598.3,322.1 1607.1,325.6 1615.9,329.3 1624.7,332.9 1633.5,336.6 1642.4,340.3 1651.2,344 1660,347.8 1668.8,351.6 1677.6,355.4 1686.4,359.3 1695.2,363.2 1704.1,367.2 1712.9,371.1 1721.7,375.1 1730.5,379.2 1739.3,383.3 1748.1,387.4 1756.9,391.5 1765.7,395.7 1774.6,399.9 1783.4,404.2 1792.2,408.4 1801,412.8" fill="none" stroke="#111" stroke-width="2.6"/>
<rect x="1257.2" y="683.4" width="569.3" height="132.9" fill="#dedede"/>
<polyline points="1288.1,751 1289.4,748.3 1290.8,745.7 1292.1,743 1293.4,740.4 1294.8,737.8 1296.1,735.2 1297.4,732.7 1298.8,730.2 1300.1,727.7 1301.5,725.2 1302.8,722.8 1304.1,720.4 1305.5,718.1 1306.8,715.8 1308.1,713.6 1309.5,711.4 1310.8,709.2 1312.1,707.1 1313.5,705.1 1314.8,703.1 1316.1,701.2 1317.5,699.4 1318.8,697.8 1320.1,696.2 1321.5,694.9 1322.8,693.6 1324.2,692.6 1325.5,691.7 1326.8,691 1328.2,690.4 1329.5,690 1330.8,689.8 1332.2,689.7 1333.5,689.7 1334.8,689.9 1336.2,690.2 1337.5,690.7 1338.8,691.2 1340.2,691.9 1341.5,692.7 1342.8,693.6 1344.2,694.5 1345.5,695.6 1346.8,696.7 1348.2,697.9 1349.5,699.2 1350.9,700.5 1352.2,701.9 1353.5,703.3 1354.9,704.8 1356.2,706.3 1357.5,707.8 1358.9,709.3 1360.2,710.9 1361.5,712.5 1362.9,714.1 1364.2,715.7 1365.5,717.4 1366.9,719.1 1368.2,720.7 1369.5,722.4 1370.9,724.1 1372.2,725.8 1373.6,727.5 1374.9,729.2 1376.2,730.9 1377.6,732.7 1378.9,734.4 1380.2,736.2 1381.6,737.9 1382.9,739.7 1384.2,741.5 1385.6,743.3 1386.9,745.1 1388.2,747 1389.6,748.8 1390.9,750.6 1392.2,752.4 1393.6,754.2 1394.9,755.9 1396.3,757.6 1397.6,759.3 1398.9,760.9 1400.3,762.4 1401.6,763.9 1402.9,765.3 1404.3,766.7 1405.6,768 1406.9,769.2 1408.3,770.4 1409.6,771.6 1410.9,772.7 1412.3,773.8 1413.6,774.9 1414.9,775.9 1416.3,776.9 1417.6,777.9 1419,778.9 1420.3,779.9 1421.6,780.9 1423,781.8 1424.3,782.7 1425.6,783.7 1427,784.6 1428.3,785.5 1429.6,786.4 1431,787.2 1432.3,788.1 1433.6,788.9 1435,789.8 1436.3,790.6 1437.6,791.4 1439,792.2 1440.3,793 1441.7,793.8 1443,794.6 1444.3,795.4 1445.7,796.2 1447,796.9 1448.3,797.7 1449.7,798.4 1451,799.1 1452.3,799.9 1453.7,800.6 1455,801.3 1456.3,801.9 1457.7,802.6 1459,803.2 1460.3,803.8 1461.7,804.4 1463,804.9 1464.3,805.5 1465.7,806 1467,806.4 1468.4,806.9 1469.7,807.3 1471,807.7 1472.4,808.1 1473.7,808.4 1475,808.7 1476.4,809.1 1477.7,809.3 1479,809.6 1480.4,809.9 1481.7,810.1 1483,810.3 1484.4,810.5 1485.7,810.7 1487,810.8 1488.4,811 1489.7,811.1 1491.1,811.3 1492.4,811.4 1493.7,811.5 1495.1,811.6 1496.4,811.7 1497.7,811.8 1499.1,811.8 1500.4,811.9" fill="none" stroke="#1f6f9b" stroke-width="2.5" stroke-linejoin="round"/>
<polyline points="1373.9,780.7 1376.6,778.9 1379.3,777.1 1381.9,775.4 1384.6,773.8 1387.3,772.2 1390,770.6 1392.6,769 1395.3,767.4 1398,765.8 1400.7,764.2 1403.3,762.5 1406,760.8 1408.7,759.1 1411.4,757.5 1414.1,756 1416.7,754.6 1419.4,753.4 1422.1,752.3 1424.8,751.4 1427.4,750.6 1430.1,749.9 1432.8,749.3 1435.5,748.7 1438.1,748.3 1440.8,748 1443.5,747.7 1446.2,747.5 1448.8,747.4 1451.5,747.4 1454.2,747.5 1456.9,747.6 1459.6,747.8 1462.2,748.1 1464.9,748.5 1467.6,748.9 1470.3,749.4 1472.9,750 1475.6,750.5 1478.3,751.2 1481,751.8 1483.6,752.6 1486.3,753.3 1489,754.1 1491.7,754.9 1494.4,755.8 1497,756.7 1499.7,757.6 1502.4,758.5 1505.1,759.5 1507.7,760.5 1510.4,761.5 1513.1,762.5 1515.8,763.6 1518.4,764.7 1521.1,765.8 1523.8,766.9 1526.5,768.1 1529.2,769.2 1531.8,770.4 1534.5,771.6 1537.2,772.8 1539.9,774 1542.5,775.3 1545.2,776.5 1547.9,777.7 1550.6,779 1553.2,780.2 1555.9,781.4 1558.6,782.6 1561.3,783.8 1563.9,784.9 1566.6,786 1569.3,787.1 1572,788.1 1574.7,789.1 1577.3,790 1580,790.9 1582.7,791.8 1585.4,792.6 1588,793.4 1590.7,794.1 1593.4,794.8 1596.1,795.4 1598.7,796 1601.4,796.6 1604.1,797.2 1606.8,797.7 1609.5,798.2 1612.1,798.7 1614.8,799.2 1617.5,799.7 1620.2,800.2 1622.8,800.7 1625.5,801.1 1628.2,801.6 1630.9,802.1 1633.5,802.6 1636.2,803.1 1638.9,803.5 1641.6,804 1644.2,804.4 1646.9,804.9 1649.6,805.3 1652.3,805.7 1655,806.2 1657.6,806.6 1660.3,807 1663,807.4 1665.7,807.7 1668.3,808.1 1671,808.5 1673.7,808.9 1676.4,809.3 1679,809.6 1681.7,810 1684.4,810.4 1687.1,810.7 1689.8,811 1692.4,811.4 1695.1,811.7 1697.8,811.9 1700.5,812.2 1703.1,812.4 1705.8,812.6 1708.5,812.8 1711.2,813 1713.8,813.1 1716.5,813.2 1719.2,813.3 1721.9,813.4 1724.6,813.5 1727.2,813.6 1729.9,813.7 1732.6,813.7 1735.3,813.8 1737.9,813.8 1740.6,813.9 1743.3,813.9 1746,813.9 1748.6,814 1751.3,814 1754,814 1756.7,814 1759.3,814 1762,814.1 1764.7,814.1 1767.4,814.1 1770.1,814.1 1772.7,814.1 1775.4,814.1 1778.1,814.2 1780.8,814.2 1783.4,814.2 1786.1,814.3 1788.8,814.3 1791.5,814.3 1794.1,814.4 1796.8,814.4 1799.5,814.5" fill="none" stroke="#e2330f" stroke-width="2.5" stroke-linejoin="round"/>
<line x1="1257.2" y1="683.4" x2="1826.5" y2="683.4" stroke="#222" stroke-width="1.3"/>
<path d="M1257.2 816.3H1826.5V17.6" fill="none" stroke="#2a2a2a" stroke-width="1.3" stroke-linejoin="round"/>
<path d="M1257.2 816.3V17.6H1826.5" fill="none" stroke="#6e6e6e" stroke-width="1.5" stroke-linejoin="round"/>
<line x1="1246.2" y1="24.6" x2="1257.2" y2="24.6" stroke="#333" stroke-width="1.3"/>
<text x="1222.55" y="32.30" font-size="24" textLength="13.88" lengthAdjust="spacingAndGlyphs">5</text>
<line x1="1246.2" y1="115.2" x2="1257.2" y2="115.2" stroke="#333" stroke-width="1.3"/>
<text x="1222.80" y="122.95" font-size="24" textLength="13.88" lengthAdjust="spacingAndGlyphs">2</text>
<line x1="1246.2" y1="205.9" x2="1257.2" y2="205.9" stroke="#333" stroke-width="1.3"/>
<text x="1222.42" y="213.60" font-size="24" textLength="13.88" lengthAdjust="spacingAndGlyphs">0</text>
<line x1="1246.2" y1="296.6" x2="1257.2" y2="296.6" stroke="#333" stroke-width="1.3"/>
<text x="1208.19" y="304.25" font-size="24" textLength="28.46" lengthAdjust="spacingAndGlyphs">−2</text>
<line x1="1246.2" y1="387.2" x2="1257.2" y2="387.2" stroke="#333" stroke-width="1.3"/>
<text x="1207.94" y="394.90" font-size="24" textLength="28.46" lengthAdjust="spacingAndGlyphs">−5</text>
<line x1="1246.2" y1="477.9" x2="1257.2" y2="477.9" stroke="#333" stroke-width="1.3"/>
<text x="1208.19" y="485.55" font-size="24" textLength="28.46" lengthAdjust="spacingAndGlyphs">−7</text>
<line x1="1246.2" y1="568.5" x2="1257.2" y2="568.5" stroke="#333" stroke-width="1.3"/>
<text x="1193.97" y="576.20" font-size="24" textLength="42.34" lengthAdjust="spacingAndGlyphs">−10</text>
<line x1="1246.2" y1="659.2" x2="1257.2" y2="659.2" stroke="#333" stroke-width="1.3"/>
<text x="1194.34" y="666.85" font-size="24" textLength="42.34" lengthAdjust="spacingAndGlyphs">−12</text>
<line x1="1826.5" y1="34.3" x2="1837.0" y2="34.3" stroke="#333" stroke-width="1.3"/>
<text x="1847.00" y="42.20" font-size="24" textLength="27.76" lengthAdjust="spacingAndGlyphs">50</text>
<line x1="1826.5" y1="120" x2="1837.0" y2="120" stroke="#333" stroke-width="1.3"/>
<text x="1846.75" y="127.90" font-size="24" textLength="27.76" lengthAdjust="spacingAndGlyphs">25</text>
<line x1="1826.5" y1="205.7" x2="1837.0" y2="205.7" stroke="#333" stroke-width="1.3"/>
<text x="1847.00" y="213.60" font-size="24" textLength="13.88" lengthAdjust="spacingAndGlyphs">0</text>
<line x1="1826.5" y1="291.4" x2="1837.0" y2="291.4" stroke="#333" stroke-width="1.3"/>
<text x="1846.75" y="299.30" font-size="24" textLength="42.34" lengthAdjust="spacingAndGlyphs">−25</text>
<line x1="1826.5" y1="377.1" x2="1837.0" y2="377.1" stroke="#333" stroke-width="1.3"/>
<text x="1846.75" y="385.00" font-size="24" textLength="42.34" lengthAdjust="spacingAndGlyphs">−50</text>
<line x1="1826.5" y1="462.8" x2="1837.0" y2="462.8" stroke="#333" stroke-width="1.3"/>
<text x="1846.75" y="470.70" font-size="24" textLength="42.34" lengthAdjust="spacingAndGlyphs">−75</text>
<line x1="1826.5" y1="548.5" x2="1837.0" y2="548.5" stroke="#333" stroke-width="1.3"/>
<text x="1846.75" y="556.40" font-size="24" textLength="56.22" lengthAdjust="spacingAndGlyphs">−100</text>
<line x1="1826.5" y1="634.2" x2="1837.0" y2="634.2" stroke="#333" stroke-width="1.3"/>
<text x="1846.75" y="642.10" font-size="24" textLength="56.22" lengthAdjust="spacingAndGlyphs">−125</text>
<line x1="1370.2" y1="816.3" x2="1370.2" y2="826.8" stroke="#333" stroke-width="1.3"/>
<text x="1363.27" y="854.60" font-size="24" textLength="13.88" lengthAdjust="spacingAndGlyphs">2</text>
<line x1="1494.8" y1="816.3" x2="1494.8" y2="826.8" stroke="#333" stroke-width="1.3"/>
<text x="1488.00" y="854.60" font-size="24" textLength="13.88" lengthAdjust="spacingAndGlyphs">4</text>
<line x1="1619.4" y1="816.3" x2="1619.4" y2="826.8" stroke="#333" stroke-width="1.3"/>
<text x="1612.35" y="854.60" font-size="24" textLength="13.88" lengthAdjust="spacingAndGlyphs">6</text>
<line x1="1744" y1="816.3" x2="1744" y2="826.8" stroke="#333" stroke-width="1.3"/>
<text x="1737.01" y="854.60" font-size="24" textLength="13.88" lengthAdjust="spacingAndGlyphs">8</text>
<text x="1328.78" y="889.90" font-size="24" textLength="425.21" lengthAdjust="spacingAndGlyphs">ΔGMST (°C above 2001–2010 average)</text>
<text transform="translate(1191.50 452.60) rotate(-90)" x="-1.09" y="0" font-size="24" textLength="205.92" lengthAdjust="spacingAndGlyphs">Quadrillion calories</text>
<text transform="translate(1931.50 552.80) rotate(-90)" x="-1.96" y="0" font-size="24" textLength="407.73" lengthAdjust="spacingAndGlyphs">Percentage of 2015 global production</text>
</g>
<g id="pbox">
<line x1="1963.3" y1="163.6" x2="1963.3" y2="333.9" stroke="#246f9f" stroke-width="3"/>
<path d="M1963.3 118.3h0M1963.3 117.9h0M1963.3 149.4h0M1963.3 160.5h0M1963.3 163.6h0M1963.3 157h0M1963.3 155.8h0M1963.3 163.6h0M1963.3 163.6h0M1963.3 84.2h0M1963.3 137.4h0M1963.3 161.8h0M1963.3 154.5h0M1963.3 89.2h0M1963.3 103.5h0M1963.3 112.3h0M1963.3 156.6h0M1963.3 150.9h0M1963.3 134.8h0M1963.3 163.5h0M1963.3 146.3h0M1963.3 160.9h0M1963.3 106.6h0M1963.3 163.5h0M1963.3 134.5h0M1963.3 108.2h0M1963.3 161.9h0M1963.3 103.9h0M1963.3 107.8h0M1963.3 163.6h0M1963.3 131.2h0M1963.3 163.6h0M1963.3 150.2h0M1963.3 154.4h0M1963.3 162.3h0M1963.3 159.3h0M1963.3 118.1h0M1963.3 159.6h0M1963.3 163h0M1963.3 132.3h0M1963.3 153.7h0M1963.3 119.2h0M1963.3 161.7h0M1963.3 159.5h0M1963.3 119.1h0M1963.3 150h0M1963.3 150h0M1963.3 161.7h0M1963.3 163.6h0M1963.3 97.1h0M1963.3 163.5h0M1963.3 112.2h0M1963.3 157.7h0M1963.3 93.7h0M1963.3 156.3h0M1963.3 96.5h0M1963.3 146.3h0M1963.3 161.6h0M1963.3 127h0M1963.3 135h0M1963.3 133.9h0M1963.3 152.8h0M1963.3 162h0M1963.3 138.6h0M1963.3 163.4h0M1963.3 133h0M1963.3 139.1h0M1963.3 157.3h0M1963.3 119.3h0M1963.3 162.5h0M1963.3 156.7h0M1963.3 119.3h0M1963.3 157.1h0M1963.3 130.5h0M1963.3 141.3h0M1963.3 95.6h0M1963.3 85.7h0M1963.3 129.3h0M1963.3 117.7h0M1963.3 163h0M1963.3 130.6h0M1963.3 111.8h0M1963.3 156.2h0M1963.3 146.5h0M1963.3 151.8h0M1963.3 92.3h0M1963.3 159.6h0M1963.3 156.2h0M1963.3 163.6h0M1963.3 155.2h0M1963.3 139.5h0M1963.3 96.8h0M1963.3 98.8h0M1963.3 159.2h0M1963.3 86.3h0M1963.3 162.6h0M1963.3 115.6h0M1963.3 163h0M1963.3 156h0M1963.3 163.5h0M1963.3 110.1h0M1963.3 114.7h0M1963.3 163.1h0M1963.3 148.5h0M1963.3 161.2h0M1963.3 151h0M1963.3 146.5h0M1963.3 163.4h0M1963.3 109.1h0M1963.3 160.7h0M1963.3 153.8h0M1963.3 163.6h0M1963.3 163.6h0M1963.3 162.5h0M1963.3 158.7h0M1963.3 98h0M1963.3 104.9h0M1963.3 151.8h0M1963.3 153.3h0M1963.3 135.8h0M1963.3 110h0M1963.3 158.9h0M1963.3 120h0M1963.3 156.3h0M1963.3 143h0M1963.3 127.5h0M1963.3 150.4h0M1963.3 133.2h0M1963.3 132.4h0M1963.3 163.6h0M1963.3 163.6h0M1963.3 163h0M1963.3 162.2h0M1963.3 162.3h0M1963.3 163.6h0M1963.3 162.1h0M1963.3 142.4h0M1963.3 105.5h0M1963.3 158.4h0M1963.3 157.7h0" stroke="#246f9f" stroke-width="2.6" stroke-linecap="round" fill="none"/>
<path d="M1963.3 349.5h0M1963.3 389.8h0M1963.3 415h0M1963.3 463.7h0M1963.3 345.8h0M1963.3 395.6h0M1963.3 343.2h0M1963.3 425.8h0M1963.3 337.3h0M1963.3 440.1h0M1963.3 359.7h0M1963.3 399.9h0M1963.3 363.8h0M1963.3 341.5h0M1963.3 358.3h0M1963.3 334h0M1963.3 333.9h0M1963.3 363.1h0M1963.3 356.1h0M1963.3 428.5h0M1963.3 333.9h0M1963.3 367.1h0M1963.3 357.8h0M1963.3 373.9h0M1963.3 400.9h0M1963.3 362.3h0M1963.3 368.1h0M1963.3 357.9h0M1963.3 376.9h0M1963.3 338h0M1963.3 366.4h0M1963.3 388.1h0M1963.3 336h0M1963.3 482.2h0M1963.3 405h0M1963.3 469h0M1963.3 340.2h0M1963.3 352.3h0M1963.3 338.5h0M1963.3 334h0M1963.3 333.9h0M1963.3 337.9h0M1963.3 437.1h0M1963.3 335.3h0M1963.3 391.8h0M1963.3 338h0M1963.3 334h0M1963.3 336h0M1963.3 389.3h0M1963.3 359.2h0M1963.3 365.9h0M1963.3 353.3h0M1963.3 339.2h0M1963.3 357.5h0M1963.3 457.2h0M1963.3 336.3h0M1963.3 401.7h0M1963.3 338.1h0M1963.3 336h0M1963.3 342h0M1963.3 334.2h0M1963.3 461.7h0M1963.3 345h0M1963.3 335.6h0M1963.3 333.9h0M1963.3 334h0M1963.3 336.7h0M1963.3 349.6h0M1963.3 374.5h0M1963.3 478.6h0M1963.3 446.4h0M1963.3 337.7h0M1963.3 376.2h0M1963.3 456.9h0M1963.3 334.3h0M1963.3 434.8h0M1963.3 347.6h0M1963.3 414.1h0M1963.3 341.9h0M1963.3 378.8h0M1963.3 359.9h0M1963.3 334.3h0M1963.3 408.4h0M1963.3 425.5h0M1963.3 356.8h0M1963.3 346.9h0M1963.3 466.1h0M1963.3 345.7h0M1963.3 442.9h0M1963.3 349.7h0M1963.3 345.7h0M1963.3 344.7h0M1963.3 334h0M1963.3 339.3h0M1963.3 337.2h0M1963.3 334h0M1963.3 364.8h0M1963.3 352.1h0M1963.3 333.9h0M1963.3 335.1h0M1963.3 455.9h0M1963.3 334.7h0M1963.3 345.6h0M1963.3 467.3h0M1963.3 334.4h0M1963.3 348.9h0M1963.3 419.4h0M1963.3 333.9h0M1963.3 334h0M1963.3 459.8h0M1963.3 390.6h0M1963.3 338.5h0M1963.3 356.5h0M1963.3 338h0M1963.3 447h0M1963.3 466.9h0M1963.3 334.1h0M1963.3 362.3h0M1963.3 335.8h0M1963.3 348.3h0M1963.3 403.7h0M1963.3 397.1h0M1963.3 335.9h0M1963.3 342.6h0M1963.3 350.4h0M1963.3 346.7h0M1963.3 390.2h0M1963.3 415.9h0M1963.3 342.8h0M1963.3 352h0" stroke="#246f9f" stroke-width="2.6" stroke-linecap="round" fill="none"/>
<line x1="1957.7" y1="163.6" x2="1968.9" y2="163.6" stroke="#246f9f" stroke-width="2.6"/>
<line x1="1957.7" y1="333.9" x2="1968.9" y2="333.9" stroke="#246f9f" stroke-width="2.6"/>
<rect x="1955.2" y="201.7" width="16.4" height="58.4" fill="#fff" stroke="#7ea3c6" stroke-width="2"/>
<line x1="1953.4" y1="226.7" x2="1973.2" y2="226.7" stroke="#246f9f" stroke-width="2.6"/>
<line x1="1998.9" y1="171.5" x2="1998.9" y2="430.8" stroke="#e2341c" stroke-width="3"/>
<path d="M1998.9 170.9h0M1998.9 154.7h0M1998.9 59.6h0M1998.9 140h0M1998.9 132.8h0M1998.9 125.7h0M1998.9 131.4h0M1998.9 90.7h0M1998.9 163.1h0M1998.9 159h0M1998.9 73.4h0M1998.9 140.3h0M1998.9 56.5h0M1998.9 169.1h0M1998.9 95h0M1998.9 143.6h0M1998.9 143.5h0M1998.9 74.6h0M1998.9 169.4h0M1998.9 138.5h0M1998.9 163.7h0M1998.9 156.8h0M1998.9 88.1h0M1998.9 151.7h0M1998.9 94.7h0M1998.9 171.5h0M1998.9 46.9h0M1998.9 57.6h0M1998.9 114h0M1998.9 166.7h0M1998.9 117.7h0M1998.9 167h0M1998.9 154.1h0M1998.9 171.3h0M1998.9 170.9h0M1998.9 168.4h0M1998.9 167.4h0M1998.9 83.8h0M1998.9 164.1h0M1998.9 86.5h0M1998.9 171.5h0M1998.9 171.1h0M1998.9 171h0M1998.9 63.2h0M1998.9 88.1h0M1998.9 171.5h0M1998.9 63.2h0M1998.9 165.1h0M1998.9 162.8h0M1998.9 128.9h0M1998.9 166.3h0M1998.9 52.9h0M1998.9 154.8h0M1998.9 130.8h0M1998.9 130.6h0M1998.9 161.6h0M1998.9 104.2h0M1998.9 48.6h0M1998.9 127.2h0M1998.9 170.6h0M1998.9 90h0M1998.9 116h0M1998.9 141.6h0M1998.9 118.1h0M1998.9 163h0M1998.9 160h0M1998.9 138.4h0M1998.9 170.9h0M1998.9 128.4h0M1998.9 167.3h0M1998.9 163.5h0M1998.9 70.4h0M1998.9 128.4h0M1998.9 164.1h0M1998.9 110.5h0M1998.9 47.5h0M1998.9 71h0M1998.9 91.9h0M1998.9 157.7h0M1998.9 129.1h0M1998.9 128.8h0M1998.9 170.5h0M1998.9 111.6h0M1998.9 137.6h0M1998.9 137.5h0M1998.9 103.7h0M1998.9 170.8h0M1998.9 165.9h0M1998.9 49.7h0M1998.9 160.3h0M1998.9 163.4h0M1998.9 170.9h0M1998.9 159.3h0M1998.9 132.3h0M1998.9 171.3h0M1998.9 161.1h0M1998.9 163.3h0M1998.9 168.5h0M1998.9 93.2h0M1998.9 55.9h0M1998.9 66.9h0M1998.9 147.2h0M1998.9 171h0M1998.9 156.3h0M1998.9 137.2h0M1998.9 153.5h0M1998.9 104.8h0M1998.9 102.6h0M1998.9 71.2h0M1998.9 144h0M1998.9 164.4h0M1998.9 67.9h0M1998.9 73.9h0M1998.9 169.5h0M1998.9 165.9h0M1998.9 117.1h0M1998.9 87.4h0M1998.9 56.4h0M1998.9 171.4h0M1998.9 167h0M1998.9 149.2h0M1998.9 133.6h0M1998.9 95.9h0M1998.9 132.8h0M1998.9 137.9h0M1998.9 164.4h0M1998.9 118.8h0M1998.9 129.2h0M1998.9 59.9h0M1998.9 167h0M1998.9 169.6h0M1998.9 155.9h0M1998.9 158.3h0M1998.9 145.9h0M1998.9 167.8h0M1998.9 109.2h0M1998.9 87h0M1998.9 171.5h0M1998.9 68.1h0M1998.9 170.5h0M1998.9 159.8h0M1998.9 142h0M1998.9 149.1h0M1998.9 165.7h0M1998.9 105.1h0M1998.9 83.6h0M1998.9 165h0M1998.9 168.1h0M1998.9 137.9h0M1998.9 168.7h0M1998.9 61.3h0M1998.9 81.1h0M1998.9 84.5h0M1998.9 150.4h0M1998.9 94.2h0M1998.9 152.3h0M1998.9 145.3h0M1998.9 170.1h0M1998.9 171.3h0M1998.9 115.4h0M1998.9 166.8h0M1998.9 57.3h0M1998.9 131.7h0M1998.9 130h0M1998.9 71.6h0M1998.9 160.5h0M1998.9 171.5h0M1998.9 165.5h0M1998.9 145.3h0M1998.9 168.6h0M1998.9 161.7h0M1998.9 103.6h0M1998.9 153.8h0M1998.9 156.9h0M1998.9 164.7h0M1998.9 136.2h0M1998.9 47.8h0M1998.9 167.9h0M1998.9 82.7h0M1998.9 96.6h0M1998.9 126.4h0M1998.9 134.7h0M1998.9 137.8h0M1998.9 170.2h0M1998.9 131.1h0M1998.9 49.4h0M1998.9 105.2h0M1998.9 144.3h0M1998.9 147h0M1998.9 77.1h0M1998.9 171.5h0M1998.9 166.5h0M1998.9 57.1h0M1998.9 118.2h0M1998.9 86h0M1998.9 135.9h0M1998.9 171.3h0M1998.9 135.6h0M1998.9 122h0M1998.9 170.5h0" stroke="#e2341c" stroke-width="2.6" stroke-linecap="round" fill="none"/>
<path d="M1998.9 460.4h0M1998.9 544.7h0M1998.9 431.3h0M1998.9 431.1h0M1998.9 432.2h0M1998.9 490.4h0M1998.9 533h0M1998.9 433.9h0M1998.9 522.3h0M1998.9 437.1h0M1998.9 467.9h0M1998.9 505.6h0M1998.9 432.6h0M1998.9 460h0M1998.9 527.1h0M1998.9 447h0M1998.9 512.3h0M1998.9 457.3h0M1998.9 544.9h0M1998.9 451.4h0M1998.9 517.6h0M1998.9 431.5h0M1998.9 445.5h0M1998.9 433.5h0M1998.9 451.7h0M1998.9 451.9h0M1998.9 438.2h0M1998.9 453.3h0M1998.9 490.4h0M1998.9 473.6h0M1998.9 438.4h0M1998.9 495.7h0M1998.9 495.2h0M1998.9 453.6h0M1998.9 457.9h0M1998.9 434.6h0M1998.9 520.1h0M1998.9 447.1h0M1998.9 441.8h0M1998.9 541.4h0M1998.9 442.8h0M1998.9 435.8h0M1998.9 449.5h0M1998.9 464.9h0M1998.9 479.2h0M1998.9 451.2h0M1998.9 490.8h0M1998.9 430.9h0M1998.9 540.9h0M1998.9 458.1h0M1998.9 456.6h0M1998.9 456.4h0M1998.9 440.6h0M1998.9 515.9h0M1998.9 457.1h0M1998.9 432h0M1998.9 446.5h0M1998.9 461h0M1998.9 447.4h0M1998.9 432.1h0M1998.9 532.1h0M1998.9 433.7h0M1998.9 498.9h0M1998.9 453.9h0M1998.9 462.3h0M1998.9 489.6h0M1998.9 430.8h0M1998.9 461.5h0M1998.9 457.8h0M1998.9 454.4h0M1998.9 430.8h0M1998.9 430.8h0M1998.9 461.6h0M1998.9 457.4h0M1998.9 445.2h0M1998.9 432.5h0M1998.9 447.8h0M1998.9 488.8h0M1998.9 516.9h0M1998.9 505.7h0M1998.9 430.8h0M1998.9 445.5h0M1998.9 461.5h0M1998.9 515.8h0M1998.9 471.7h0M1998.9 513.2h0M1998.9 491.7h0M1998.9 431.5h0M1998.9 554.2h0M1998.9 470.7h0M1998.9 477.5h0M1998.9 439.4h0M1998.9 535.3h0M1998.9 558.6h0M1998.9 445.9h0M1998.9 461.5h0M1998.9 431.3h0M1998.9 505.5h0M1998.9 483.9h0M1998.9 437.8h0M1998.9 519.1h0M1998.9 469.2h0M1998.9 541.4h0M1998.9 517h0M1998.9 432.1h0M1998.9 438h0M1998.9 523.1h0M1998.9 430.9h0M1998.9 433h0M1998.9 539.2h0M1998.9 515h0M1998.9 439.1h0M1998.9 445.5h0M1998.9 431h0M1998.9 432.9h0M1998.9 430.8h0M1998.9 475h0M1998.9 478.6h0M1998.9 433.5h0M1998.9 519.8h0M1998.9 461.3h0M1998.9 476.9h0M1998.9 487.1h0M1998.9 436.2h0M1998.9 513.6h0M1998.9 452.4h0M1998.9 462.6h0M1998.9 432.8h0M1998.9 439.1h0M1998.9 457.4h0M1998.9 498.1h0M1998.9 457.6h0M1998.9 471.1h0M1998.9 504.3h0M1998.9 451.6h0M1998.9 430.8h0M1998.9 471.2h0M1998.9 545.1h0M1998.9 431h0M1998.9 458.3h0M1998.9 485.7h0M1998.9 461.5h0M1998.9 432.2h0M1998.9 464.6h0M1998.9 431.6h0M1998.9 431.4h0M1998.9 445.5h0M1998.9 434.8h0M1998.9 463.4h0M1998.9 545.2h0M1998.9 436.7h0M1998.9 556.1h0M1998.9 446.4h0M1998.9 520.3h0M1998.9 465.8h0M1998.9 508.9h0M1998.9 526.8h0M1998.9 521.7h0M1998.9 433.6h0M1998.9 532.6h0M1998.9 432.6h0M1998.9 499.9h0M1998.9 431.1h0M1998.9 442.4h0M1998.9 433h0M1998.9 480.3h0M1998.9 443.5h0M1998.9 471.9h0M1998.9 436.9h0M1998.9 451.2h0M1998.9 535h0M1998.9 476.6h0M1998.9 461.2h0M1998.9 498.3h0M1998.9 557.1h0M1998.9 445.1h0M1998.9 432.3h0M1998.9 438.2h0M1998.9 433.9h0M1998.9 451.9h0M1998.9 630h0M1998.9 634h0M1998.9 640h0M1998.9 646h0M1998.9 650h0M1998.9 653.6h0" stroke="#e2341c" stroke-width="2.6" stroke-linecap="round" fill="none"/>
<line x1="1993.2" y1="171.5" x2="2004.5" y2="171.5" stroke="#e2341c" stroke-width="2.6"/>
<line x1="1993.2" y1="430.8" x2="2004.5" y2="430.8" stroke="#e2341c" stroke-width="2.6"/>
<rect x="1990.8" y="229.1" width="16.4" height="101.6" fill="#fff" stroke="#f27a55" stroke-width="2"/>
<line x1="1989.4" y1="279.2" x2="2008.4" y2="279.2" stroke="#e2341c" stroke-width="2.6"/>
<text x="2005.79" y="44.10" font-size="24" textLength="162.23" lengthAdjust="spacingAndGlyphs">95th percentile</text>
<text x="2005.66" y="197.90" font-size="24" textLength="162.46" lengthAdjust="spacingAndGlyphs">75th percentile</text>
<text x="2005.76" y="375.40" font-size="24" textLength="162.56" lengthAdjust="spacingAndGlyphs">25th percentile</text>
<text x="2006.01" y="504.00" font-size="24" textLength="148.28" lengthAdjust="spacingAndGlyphs">5th percentile</text>
<path d="M2063.9 55.2C2072 90 2068 130 2026 162" fill="none" stroke="#111" stroke-width="2.4"/>
<path d="M2017.5 167.5L2026.6 155.3L2026 162.6L2032.6 165.7Z" fill="#111"/>
<path d="M2058.4 207.8C2062 216 2050 222 2027 227" fill="none" stroke="#111" stroke-width="2.4"/>
<path d="M2017.5 228.5L2030.5 220.6L2027.2 227.1L2032.2 232.5Z" fill="#111"/>
<path d="M2057.9 357.2C2062 345 2045 334 2027 331" fill="none" stroke="#111" stroke-width="2.4"/>
<path d="M2017.5 329.8L2032.3 326.3L2027.2 331.5L2030.2 338.1Z" fill="#111"/>
<path d="M2066.4 482C2068 460 2050 442 2027 435" fill="none" stroke="#111" stroke-width="2.4"/>
<path d="M2017.5 433.4L2032.7 432L2026.8 436.4L2029 443.4Z" fill="#111"/>
</g>
</svg>
</body></html>
